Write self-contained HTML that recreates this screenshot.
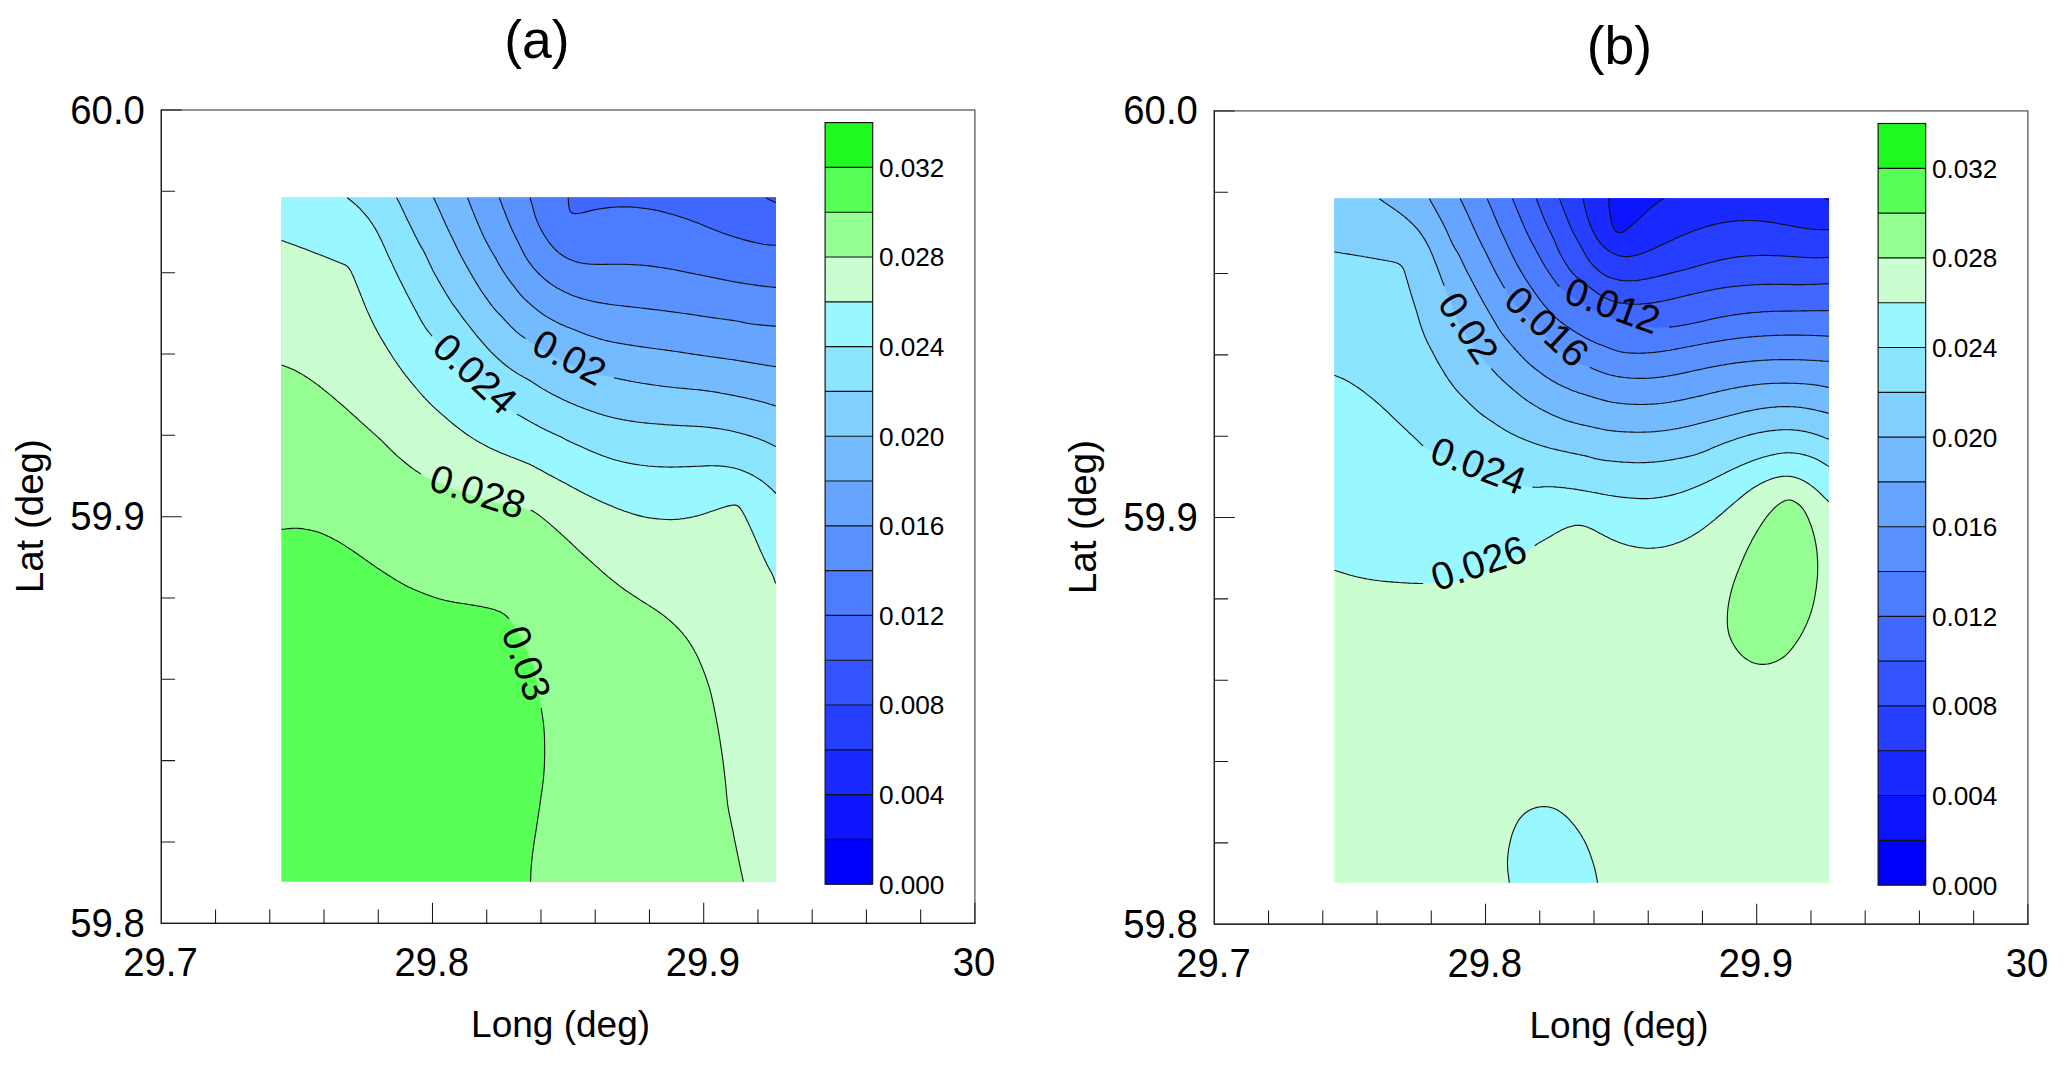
<!DOCTYPE html>
<html lang="en"><head><meta charset="utf-8"><title>Contour maps (a) and (b)</title>
<style>
html,body{margin:0;padding:0;background:#fff;}
body{width:2067px;height:1067px;overflow:hidden;}
svg{display:block;font-family:"Liberation Sans",Arial,Helvetica,sans-serif;}
</style></head><body>
<svg width="2067" height="1067" viewBox="0 0 2067 1067">
<rect width="2067" height="1067" fill="#fff"/>
<clipPath id="clip0"><rect x="281.3" y="197.5" width="494.7" height="684.3"/></clipPath>
<g clip-path="url(#clip0)">
<rect x="280.3" y="196.5" width="496.7" height="686.3" fill="#57ff57"/>
<path d="M281.3 529.4 L283.3 529.2 L285.3 529.0 L287.3 528.8 L289.3 528.6 L291.3 528.4 L293.3 528.3 L295.3 528.2 L297.3 528.3 L299.3 528.4 L301.2 528.6 L303.2 528.8 L305.2 529.2 L307.2 529.5 L309.1 529.9 L311.1 530.3 L313.0 530.7 L315.0 531.2 L316.9 531.7 L318.8 532.3 L320.7 533.0 L322.5 533.8 L324.4 534.6 L326.2 535.4 L328.0 536.2 L329.8 537.1 L331.6 538.0 L333.4 538.9 L335.1 539.9 L336.9 540.8 L338.6 541.8 L340.3 542.8 L342.1 543.9 L343.8 544.9 L345.5 546.0 L347.1 547.1 L348.8 548.2 L350.5 549.3 L352.1 550.4 L353.8 551.5 L355.4 552.7 L357.1 553.8 L358.7 555.0 L360.3 556.1 L362.0 557.3 L363.6 558.4 L365.2 559.6 L366.9 560.7 L368.5 561.9 L370.2 563.0 L371.8 564.2 L373.4 565.3 L375.1 566.4 L376.7 567.6 L378.4 568.7 L380.1 569.8 L381.7 570.9 L383.4 572.0 L385.1 573.1 L386.8 574.2 L388.4 575.3 L390.1 576.3 L391.8 577.4 L393.5 578.5 L395.2 579.5 L396.9 580.6 L398.6 581.6 L400.4 582.6 L402.1 583.6 L403.9 584.5 L405.6 585.5 L407.4 586.4 L409.2 587.3 L411.0 588.1 L412.8 589.0 L414.7 589.8 L416.5 590.6 L418.4 591.3 L420.2 592.1 L422.1 592.8 L423.9 593.5 L425.8 594.2 L427.7 594.9 L429.6 595.6 L431.4 596.3 L433.3 597.0 L435.2 597.6 L437.1 598.2 L439.0 598.8 L441.0 599.3 L442.9 599.8 L444.8 600.3 L446.8 600.7 L448.8 601.1 L450.7 601.5 L452.7 601.9 L454.6 602.3 L456.6 602.6 L458.6 602.9 L460.6 603.2 L462.5 603.5 L464.5 603.8 L466.5 604.1 L468.5 604.5 L470.5 604.8 L472.4 605.1 L474.4 605.4 L476.4 605.8 L478.3 606.1 L480.3 606.4 L482.3 606.8 L484.2 607.2 L486.2 607.6 L488.2 608.0 L490.1 608.5 L492.0 609.0 L493.9 609.6 L495.9 610.2 L497.7 610.9 L499.6 611.6 L501.3 612.5 L503.1 613.6 L504.7 614.7 L506.2 616.0 L507.6 617.4 L509.0 618.9 L510.2 620.4 L511.4 622.0 L512.6 623.6 L513.7 625.3 L514.8 627.0 L515.8 628.7 L516.8 630.4 L517.8 632.1 L518.8 633.9 L519.8 635.6 L520.8 637.4 L521.7 639.2 L522.6 640.9 L523.5 642.7 L524.3 644.6 L525.1 646.4 L525.9 648.2 L526.6 650.1 L527.4 651.9 L528.2 653.8 L528.9 655.6 L529.7 657.5 L530.4 659.4 L531.1 661.2 L531.8 663.1 L532.5 665.0 L533.1 666.9 L533.7 668.8 L534.3 670.7 L534.8 672.6 L535.3 674.6 L535.8 676.5 L536.3 678.4 L536.7 680.4 L537.2 682.4 L537.6 684.3 L538.0 686.3 L538.3 688.2 L538.7 690.2 L539.1 692.2 L539.4 694.1 L539.7 696.1 L540.0 698.1 L540.2 700.1 L540.4 702.1 L540.7 704.1 L540.9 706.1 L541.2 708.0 L541.5 710.0 L541.8 712.0 L542.1 714.0 L542.4 715.9 L542.7 717.9 L543.0 719.9 L543.3 721.9 L543.5 723.9 L543.7 725.9 L543.9 727.8 L544.0 729.8 L544.2 731.8 L544.3 733.8 L544.4 735.8 L544.5 737.8 L544.5 739.8 L544.6 741.8 L544.6 743.8 L544.7 745.8 L544.7 747.8 L544.7 749.8 L544.7 751.8 L544.7 753.8 L544.7 755.8 L544.6 757.8 L544.6 759.8 L544.5 761.8 L544.4 763.8 L544.4 765.8 L544.3 767.8 L544.1 769.8 L544.0 771.8 L543.9 773.8 L543.7 775.8 L543.5 777.8 L543.3 779.8 L543.1 781.8 L542.8 783.8 L542.6 785.7 L542.3 787.7 L542.1 789.7 L541.8 791.7 L541.5 793.7 L541.2 795.7 L540.9 797.6 L540.6 799.6 L540.3 801.6 L540.1 803.6 L539.8 805.6 L539.5 807.5 L539.2 809.5 L538.9 811.5 L538.6 813.5 L538.3 815.4 L538.0 817.4 L537.7 819.4 L537.4 821.4 L537.1 823.4 L536.8 825.3 L536.5 827.3 L536.2 829.3 L535.9 831.3 L535.6 833.2 L535.3 835.2 L534.9 837.2 L534.6 839.2 L534.3 841.1 L534.0 843.1 L533.7 845.1 L533.5 847.1 L533.2 849.1 L532.9 851.1 L532.7 853.0 L532.4 855.0 L532.2 857.0 L532.0 859.0 L531.8 861.0 L531.6 863.0 L531.4 865.0 L531.2 867.0 L531.1 869.0 L530.9 871.0 L530.8 873.0 L530.8 874.9 L530.7 876.9 L530.7 878.9 L530.6 880.9 L530.6 881.9 L530.6 887.8 L782.0 887.8 L782.0 191.5 L275.3 191.5 L275.3 529.4Z" fill="#95fe93"/>
<path d="M281.3 364.9 L283.2 365.6 L285.1 366.3 L286.9 367.0 L288.8 367.7 L290.7 368.5 L292.5 369.3 L294.3 370.1 L296.1 371.0 L297.9 372.0 L299.6 372.9 L301.4 373.9 L303.1 374.9 L304.8 376.0 L306.5 377.0 L308.2 378.1 L309.8 379.3 L311.5 380.4 L313.1 381.6 L314.7 382.7 L316.3 383.9 L317.9 385.1 L319.5 386.3 L321.1 387.6 L322.7 388.8 L324.2 390.1 L325.8 391.3 L327.4 392.6 L328.9 393.9 L330.4 395.1 L332.0 396.4 L333.5 397.7 L335.1 399.0 L336.6 400.3 L338.1 401.6 L339.6 402.9 L341.1 404.2 L342.7 405.5 L344.2 406.8 L345.7 408.2 L347.1 409.5 L348.6 410.8 L350.1 412.2 L351.6 413.5 L353.1 414.9 L354.6 416.2 L356.1 417.5 L357.5 418.9 L359.0 420.2 L360.5 421.6 L362.0 422.9 L363.5 424.2 L365.0 425.6 L366.5 426.9 L368.0 428.3 L369.5 429.6 L371.0 430.9 L372.4 432.3 L373.9 433.6 L375.4 434.9 L376.9 436.3 L378.4 437.6 L379.9 439.0 L381.3 440.4 L382.8 441.8 L384.2 443.2 L385.6 444.6 L387.0 446.0 L388.4 447.4 L389.8 448.9 L391.2 450.3 L392.7 451.7 L394.1 453.0 L395.6 454.4 L397.1 455.8 L398.6 457.1 L400.1 458.4 L401.6 459.7 L403.2 461.0 L404.7 462.2 L406.3 463.5 L407.8 464.7 L409.4 466.0 L411.0 467.2 L412.6 468.4 L414.2 469.6 L415.9 470.7 L417.5 471.8 L419.2 472.9 L420.9 474.0 L422.6 475.0 L424.4 476.0 L426.1 476.9 L427.9 477.9 L429.7 478.8 L431.5 479.6 L433.3 480.5 L435.1 481.3 L437.0 482.1 L438.8 482.9 L440.7 483.6 L442.5 484.4 L444.4 485.2 L446.2 485.9 L448.1 486.7 L449.9 487.4 L451.8 488.2 L453.7 488.9 L455.5 489.6 L457.4 490.3 L459.3 491.0 L461.2 491.7 L463.1 492.3 L465.0 493.0 L466.8 493.6 L468.7 494.3 L470.6 494.9 L472.6 495.5 L474.5 496.1 L476.4 496.7 L478.3 497.3 L480.2 497.9 L482.1 498.5 L484.0 499.1 L486.0 499.6 L487.9 500.2 L489.8 500.7 L491.7 501.2 L493.7 501.7 L495.6 502.3 L497.6 502.8 L499.5 503.3 L501.4 503.8 L503.4 504.2 L505.3 504.7 L507.3 505.2 L509.2 505.6 L511.2 506.0 L513.1 506.4 L515.1 506.7 L517.1 507.1 L519.1 507.4 L521.0 507.8 L523.0 508.2 L525.0 508.6 L526.9 509.1 L528.8 509.7 L530.7 510.3 L532.5 511.1 L534.3 512.0 L536.0 513.1 L537.6 514.2 L539.3 515.4 L540.8 516.6 L542.4 517.9 L544.0 519.1 L545.5 520.4 L547.1 521.6 L548.6 522.9 L550.1 524.2 L551.6 525.6 L553.1 526.9 L554.6 528.2 L556.1 529.5 L557.6 530.9 L559.1 532.2 L560.6 533.5 L562.1 534.9 L563.6 536.2 L565.1 537.6 L566.5 538.9 L568.0 540.3 L569.5 541.6 L570.9 543.0 L572.4 544.4 L573.8 545.8 L575.3 547.2 L576.7 548.6 L578.2 549.9 L579.6 551.3 L581.1 552.7 L582.6 554.0 L584.1 555.4 L585.5 556.7 L587.0 558.0 L588.5 559.4 L590.0 560.7 L591.5 562.0 L593.0 563.4 L594.5 564.7 L596.0 566.1 L597.5 567.4 L599.0 568.7 L600.4 570.1 L601.9 571.4 L603.4 572.7 L605.0 574.0 L606.5 575.3 L608.0 576.6 L609.6 577.9 L611.1 579.2 L612.7 580.4 L614.2 581.7 L615.8 582.9 L617.4 584.2 L618.9 585.4 L620.5 586.6 L622.1 587.8 L623.8 589.0 L625.4 590.2 L627.0 591.3 L628.7 592.4 L630.4 593.5 L632.0 594.6 L633.7 595.7 L635.4 596.8 L637.1 597.9 L638.7 599.0 L640.4 600.1 L642.1 601.2 L643.8 602.3 L645.5 603.3 L647.2 604.4 L648.9 605.4 L650.6 606.5 L652.3 607.6 L654.0 608.7 L655.6 609.8 L657.3 610.9 L658.9 612.0 L660.6 613.2 L662.2 614.4 L663.8 615.6 L665.3 616.8 L666.9 618.1 L668.5 619.4 L670.0 620.7 L671.5 622.0 L673.0 623.3 L674.4 624.7 L675.9 626.1 L677.3 627.5 L678.7 628.9 L680.0 630.4 L681.4 631.9 L682.7 633.4 L683.9 635.0 L685.2 636.5 L686.4 638.1 L687.6 639.8 L688.7 641.4 L689.8 643.0 L690.9 644.7 L692.0 646.4 L693.0 648.2 L694.0 649.9 L694.9 651.7 L695.9 653.4 L696.8 655.2 L697.7 657.0 L698.5 658.8 L699.3 660.6 L700.1 662.5 L700.9 664.3 L701.7 666.2 L702.4 668.0 L703.2 669.9 L703.9 671.8 L704.6 673.6 L705.3 675.5 L706.0 677.4 L706.6 679.3 L707.3 681.2 L707.9 683.1 L708.5 685.0 L709.1 686.9 L709.7 688.8 L710.2 690.8 L710.7 692.7 L711.2 694.6 L711.7 696.6 L712.1 698.5 L712.5 700.5 L713.0 702.4 L713.4 704.4 L713.8 706.4 L714.2 708.3 L714.6 710.3 L715.0 712.3 L715.4 714.2 L715.7 716.2 L716.1 718.2 L716.5 720.1 L716.8 722.1 L717.2 724.1 L717.6 726.0 L717.9 728.0 L718.3 730.0 L718.6 731.9 L718.9 733.9 L719.3 735.9 L719.6 737.9 L719.9 739.9 L720.2 741.8 L720.5 743.8 L720.8 745.8 L721.1 747.8 L721.4 749.7 L721.7 751.7 L722.0 753.7 L722.3 755.7 L722.5 757.7 L722.8 759.7 L723.1 761.7 L723.3 763.6 L723.6 765.6 L723.8 767.6 L724.0 769.6 L724.3 771.6 L724.5 773.6 L724.7 775.6 L725.0 777.6 L725.2 779.5 L725.4 781.5 L725.6 783.5 L725.8 785.5 L726.0 787.5 L726.2 789.5 L726.3 791.5 L726.5 793.5 L726.7 795.5 L726.9 797.5 L727.1 799.5 L727.3 801.5 L727.5 803.5 L727.8 805.4 L728.1 807.4 L728.4 809.4 L728.8 811.4 L729.2 813.3 L729.6 815.3 L730.0 817.3 L730.4 819.2 L730.8 821.2 L731.2 823.1 L731.6 825.1 L732.0 827.1 L732.5 829.0 L732.9 831.0 L733.3 832.9 L733.6 834.9 L734.0 836.9 L734.4 838.8 L734.8 840.8 L735.2 842.8 L735.6 844.7 L736.0 846.7 L736.4 848.7 L736.8 850.6 L737.2 852.6 L737.6 854.5 L738.0 856.5 L738.4 858.5 L738.8 860.4 L739.2 862.4 L739.6 864.3 L740.1 866.3 L740.5 868.3 L740.9 870.2 L741.3 872.2 L741.8 874.1 L742.2 876.1 L742.6 878.0 L743.0 880.0 L743.5 881.9 L743.5 887.8 L782.0 887.8 L782.0 191.5 L275.3 191.5 L275.3 364.9Z" fill="#cafdd0"/>
<path d="M281.3 240.3 L283.2 241.0 L285.1 241.7 L287.0 242.4 L288.9 243.0 L290.7 243.7 L292.6 244.4 L294.5 245.1 L296.4 245.8 L298.2 246.5 L300.1 247.2 L302.0 247.9 L303.9 248.6 L305.7 249.3 L307.6 250.0 L309.5 250.8 L311.3 251.5 L313.2 252.2 L315.1 252.9 L316.9 253.6 L318.8 254.4 L320.7 255.1 L322.5 255.8 L324.4 256.6 L326.3 257.3 L328.1 258.0 L330.0 258.8 L331.8 259.5 L333.7 260.3 L335.6 261.0 L337.4 261.7 L339.3 262.5 L341.1 263.2 L343.0 263.9 L344.9 264.7 L346.5 265.7 L348.0 267.1 L349.2 268.6 L350.3 270.3 L351.3 272.1 L352.1 273.9 L353.0 275.7 L353.8 277.5 L354.5 279.4 L355.3 281.2 L356.0 283.1 L356.8 284.9 L357.5 286.8 L358.3 288.6 L359.0 290.5 L359.8 292.4 L360.5 294.2 L361.2 296.1 L362.0 297.9 L362.7 299.8 L363.4 301.7 L364.2 303.5 L364.9 305.4 L365.7 307.2 L366.5 309.1 L367.3 310.9 L368.1 312.7 L368.9 314.6 L369.8 316.4 L370.6 318.2 L371.4 320.0 L372.3 321.8 L373.2 323.6 L374.1 325.4 L375.0 327.2 L376.0 328.9 L376.9 330.7 L377.9 332.5 L378.8 334.2 L379.8 336.0 L380.8 337.7 L381.8 339.4 L382.9 341.1 L383.9 342.9 L384.9 344.6 L386.0 346.3 L387.0 348.0 L388.1 349.7 L389.1 351.4 L390.2 353.1 L391.3 354.8 L392.3 356.5 L393.4 358.2 L394.5 359.8 L395.6 361.5 L396.8 363.1 L397.9 364.8 L399.1 366.4 L400.2 368.0 L401.4 369.7 L402.6 371.3 L403.8 372.9 L405.0 374.5 L406.2 376.1 L407.5 377.6 L408.7 379.2 L410.0 380.8 L411.2 382.3 L412.5 383.9 L413.8 385.4 L415.1 386.9 L416.4 388.5 L417.7 390.0 L419.0 391.5 L420.3 393.0 L421.6 394.5 L422.9 396.0 L424.3 397.5 L425.6 399.0 L427.0 400.4 L428.4 401.9 L429.8 403.3 L431.2 404.7 L432.7 406.1 L434.1 407.4 L435.6 408.8 L437.1 410.1 L438.6 411.5 L440.1 412.8 L441.6 414.1 L443.1 415.4 L444.6 416.7 L446.1 418.0 L447.6 419.3 L449.2 420.7 L450.7 421.9 L452.2 423.2 L453.8 424.5 L455.3 425.8 L456.9 427.0 L458.5 428.2 L460.1 429.4 L461.7 430.6 L463.3 431.8 L464.9 433.0 L466.6 434.2 L468.2 435.3 L469.9 436.4 L471.5 437.5 L473.2 438.6 L474.9 439.6 L476.6 440.7 L478.4 441.7 L480.1 442.7 L481.9 443.6 L483.6 444.6 L485.4 445.5 L487.2 446.5 L488.9 447.4 L490.7 448.3 L492.5 449.1 L494.3 450.0 L496.2 450.8 L498.0 451.6 L499.8 452.4 L501.7 453.2 L503.6 453.9 L505.4 454.6 L507.3 455.4 L509.1 456.1 L511.0 456.9 L512.9 457.6 L514.7 458.3 L516.6 459.0 L518.5 459.8 L520.3 460.5 L522.2 461.2 L524.0 462.0 L525.9 462.7 L527.7 463.5 L529.6 464.3 L531.4 465.2 L533.2 466.1 L534.9 467.0 L536.7 467.9 L538.5 468.9 L540.2 469.8 L542.0 470.8 L543.7 471.8 L545.5 472.7 L547.2 473.7 L549.0 474.7 L550.8 475.6 L552.5 476.5 L554.3 477.5 L556.1 478.4 L557.8 479.4 L559.6 480.3 L561.4 481.3 L563.1 482.2 L564.9 483.1 L566.7 484.1 L568.4 485.0 L570.2 486.0 L572.0 486.9 L573.7 487.9 L575.5 488.8 L577.2 489.8 L579.0 490.7 L580.8 491.7 L582.5 492.6 L584.3 493.5 L586.1 494.5 L587.9 495.3 L589.7 496.2 L591.5 497.1 L593.3 498.0 L595.1 498.8 L596.9 499.7 L598.7 500.5 L600.5 501.3 L602.4 502.2 L604.2 503.0 L606.0 503.8 L607.9 504.6 L609.7 505.3 L611.6 506.1 L613.4 506.9 L615.3 507.6 L617.1 508.4 L619.0 509.1 L620.9 509.8 L622.7 510.5 L624.6 511.2 L626.5 511.8 L628.4 512.5 L630.3 513.1 L632.2 513.7 L634.1 514.3 L636.1 514.9 L638.0 515.4 L639.9 515.9 L641.9 516.4 L643.8 516.8 L645.8 517.2 L647.8 517.6 L649.7 517.9 L651.7 518.2 L653.7 518.4 L655.7 518.6 L657.7 518.9 L659.7 519.0 L661.7 519.2 L663.7 519.3 L665.7 519.5 L667.7 519.5 L669.7 519.6 L671.7 519.6 L673.7 519.5 L675.7 519.4 L677.7 519.3 L679.6 519.1 L681.6 518.8 L683.6 518.6 L685.6 518.2 L687.6 517.9 L689.5 517.6 L691.5 517.2 L693.5 516.8 L695.4 516.3 L697.4 515.9 L699.3 515.3 L701.2 514.8 L703.1 514.2 L705.0 513.6 L706.9 512.9 L708.8 512.3 L710.7 511.6 L712.6 511.0 L714.5 510.4 L716.4 509.7 L718.3 509.1 L720.2 508.4 L722.1 507.8 L724.0 507.2 L725.9 506.6 L727.9 506.1 L729.8 505.6 L731.8 505.2 L733.7 505.0 L735.7 505.1 L737.5 505.8 L739.0 507.0 L740.4 508.5 L741.5 510.1 L742.5 511.8 L743.5 513.6 L744.4 515.3 L745.4 517.1 L746.3 518.9 L747.1 520.7 L748.0 522.5 L748.9 524.3 L749.7 526.1 L750.5 527.9 L751.3 529.8 L752.2 531.6 L753.0 533.4 L753.8 535.3 L754.6 537.1 L755.4 538.9 L756.2 540.8 L757.0 542.6 L757.8 544.4 L758.6 546.3 L759.4 548.1 L760.2 549.9 L761.0 551.8 L761.9 553.6 L762.7 555.4 L763.5 557.2 L764.4 559.0 L765.2 560.8 L766.1 562.6 L767.0 564.4 L767.9 566.2 L768.8 568.0 L769.8 569.7 L770.8 571.5 L771.7 573.2 L772.6 575.1 L773.3 576.9 L774.0 578.8 L774.7 580.7 L775.3 582.6 L775.7 583.5 L782.0 583.5 L782.0 191.5 L275.3 191.5 L275.3 240.3Z" fill="#99f8ff"/>
<path d="M347.0 197.5 L348.6 198.8 L350.1 200.0 L351.7 201.3 L353.2 202.5 L354.8 203.8 L356.3 205.2 L357.7 206.5 L359.2 207.9 L360.6 209.3 L361.9 210.8 L363.3 212.3 L364.6 213.8 L365.9 215.3 L367.1 216.9 L368.4 218.4 L369.6 220.0 L370.7 221.7 L371.9 223.3 L373.0 225.0 L374.0 226.7 L375.1 228.4 L376.1 230.1 L377.1 231.9 L378.0 233.6 L378.9 235.4 L379.8 237.2 L380.7 239.0 L381.6 240.8 L382.4 242.6 L383.2 244.4 L384.1 246.3 L384.9 248.1 L385.7 249.9 L386.5 251.8 L387.3 253.6 L388.1 255.4 L389.0 257.2 L389.8 259.0 L390.7 260.8 L391.6 262.6 L392.4 264.4 L393.3 266.3 L394.1 268.1 L394.9 269.9 L395.8 271.7 L396.7 273.5 L397.5 275.3 L398.4 277.1 L399.3 278.9 L400.2 280.7 L401.2 282.4 L402.1 284.2 L402.9 286.0 L403.8 287.8 L404.7 289.6 L405.6 291.4 L406.5 293.2 L407.4 295.0 L408.3 296.7 L409.3 298.5 L410.2 300.3 L411.2 302.0 L412.1 303.8 L413.0 305.6 L414.0 307.3 L414.9 309.1 L415.9 310.9 L416.8 312.6 L417.7 314.4 L418.7 316.2 L419.7 317.9 L420.6 319.7 L421.6 321.4 L422.6 323.1 L423.7 324.8 L424.7 326.5 L425.8 328.2 L427.0 329.8 L428.2 331.4 L429.5 333.0 L430.7 334.5 L432.0 336.1 L433.2 337.6 L434.5 339.2 L435.7 340.8 L436.9 342.4 L438.1 344.0 L439.3 345.6 L440.5 347.2 L441.7 348.8 L443.0 350.4 L444.2 351.9 L445.5 353.4 L446.8 355.0 L448.1 356.5 L449.4 358.0 L450.8 359.5 L452.1 361.0 L453.4 362.5 L454.8 363.9 L456.2 365.4 L457.5 366.8 L458.9 368.3 L460.3 369.7 L461.7 371.1 L463.2 372.5 L464.6 373.9 L466.0 375.3 L467.5 376.7 L469.0 378.0 L470.5 379.4 L472.0 380.7 L473.5 382.0 L475.0 383.3 L476.5 384.6 L478.1 385.9 L479.6 387.2 L481.2 388.4 L482.7 389.7 L484.2 391.0 L485.8 392.3 L487.3 393.6 L488.8 394.8 L490.4 396.1 L491.9 397.4 L493.5 398.7 L495.0 399.9 L496.6 401.2 L498.2 402.4 L499.8 403.6 L501.4 404.8 L503.0 405.9 L504.7 407.0 L506.4 408.1 L508.1 409.1 L509.8 410.1 L511.6 411.1 L513.3 412.1 L515.0 413.1 L516.8 414.1 L518.5 415.1 L520.3 416.1 L522.0 417.0 L523.8 418.0 L525.5 419.0 L527.3 420.0 L529.0 420.9 L530.7 421.9 L532.5 422.9 L534.2 423.9 L536.0 424.8 L537.7 425.8 L539.5 426.8 L541.3 427.7 L543.0 428.6 L544.8 429.5 L546.6 430.4 L548.5 431.2 L550.3 432.0 L552.1 432.9 L553.9 433.7 L555.7 434.5 L557.6 435.4 L559.4 436.2 L561.2 437.1 L562.9 438.0 L564.7 439.0 L566.5 439.9 L568.2 440.8 L570.0 441.7 L571.9 442.5 L573.7 443.3 L575.5 444.2 L577.3 445.0 L579.2 445.8 L581.0 446.6 L582.8 447.4 L584.7 448.2 L586.5 449.1 L588.3 449.9 L590.1 450.7 L592.0 451.5 L593.8 452.3 L595.7 453.0 L597.5 453.8 L599.4 454.5 L601.2 455.2 L603.1 455.9 L605.0 456.6 L606.9 457.3 L608.8 457.9 L610.7 458.5 L612.6 459.2 L614.5 459.7 L616.4 460.3 L618.4 460.8 L620.3 461.3 L622.2 461.8 L624.2 462.2 L626.2 462.6 L628.1 463.0 L630.1 463.4 L632.1 463.7 L634.0 464.1 L636.0 464.4 L638.0 464.7 L640.0 465.0 L641.9 465.2 L643.9 465.5 L645.9 465.7 L647.9 466.0 L649.9 466.2 L651.9 466.3 L653.9 466.5 L655.9 466.7 L657.9 466.8 L659.9 466.9 L661.9 466.9 L663.9 467.0 L665.9 467.0 L667.9 467.0 L669.9 467.1 L671.9 467.1 L673.9 467.0 L675.9 467.0 L677.9 467.0 L679.9 466.9 L681.9 466.9 L683.9 466.8 L685.9 466.7 L687.9 466.6 L689.9 466.6 L691.9 466.5 L693.9 466.4 L695.9 466.3 L697.9 466.2 L699.9 466.2 L701.9 466.1 L703.9 466.0 L705.9 465.9 L707.9 465.9 L709.9 465.8 L711.9 465.8 L713.9 465.8 L715.9 465.9 L717.9 465.9 L719.9 466.0 L721.9 466.1 L723.9 466.3 L725.8 466.6 L727.8 466.8 L729.8 467.2 L731.8 467.5 L733.7 468.0 L735.7 468.5 L737.6 469.0 L739.5 469.6 L741.4 470.2 L743.3 470.9 L745.1 471.7 L746.9 472.5 L748.8 473.3 L750.6 474.2 L752.3 475.1 L754.1 476.1 L755.8 477.1 L757.5 478.1 L759.2 479.2 L760.9 480.3 L762.5 481.4 L764.1 482.6 L765.7 483.9 L767.2 485.2 L768.7 486.5 L770.2 487.9 L771.7 489.2 L773.1 490.6 L774.5 492.0 L775.9 493.5 L782.0 493.5 L782.0 191.5 L347.0 191.5Z" fill="#8be5ff"/>
<path d="M396.4 197.5 L397.4 199.3 L398.3 201.0 L399.3 202.8 L400.2 204.6 L401.1 206.4 L401.9 208.2 L402.8 210.0 L403.6 211.8 L404.5 213.6 L405.3 215.4 L406.2 217.2 L407.0 219.0 L407.9 220.8 L408.8 222.6 L409.7 224.4 L410.6 226.2 L411.5 228.0 L412.4 229.8 L413.2 231.6 L414.1 233.4 L415.0 235.2 L415.9 237.0 L416.8 238.8 L417.7 240.6 L418.6 242.4 L419.6 244.1 L420.5 245.9 L421.6 247.6 L422.6 249.3 L423.6 251.0 L424.5 252.8 L425.4 254.6 L426.3 256.4 L427.1 258.2 L428.0 260.0 L428.8 261.9 L429.7 263.7 L430.5 265.5 L431.4 267.3 L432.2 269.1 L433.1 270.9 L434.1 272.7 L435.0 274.4 L436.0 276.2 L437.0 277.9 L438.0 279.7 L438.9 281.4 L439.9 283.1 L440.9 284.9 L441.9 286.6 L443.0 288.3 L444.0 290.1 L445.0 291.8 L446.0 293.5 L447.1 295.2 L448.1 296.9 L449.2 298.6 L450.2 300.3 L451.3 302.0 L452.4 303.7 L453.6 305.3 L454.8 306.9 L456.0 308.5 L457.2 310.1 L458.4 311.7 L459.6 313.3 L460.7 315.0 L461.9 316.6 L463.0 318.2 L464.3 319.8 L465.5 321.4 L466.7 323.0 L468.0 324.5 L469.2 326.1 L470.5 327.7 L471.7 329.3 L472.9 330.8 L474.2 332.4 L475.4 334.0 L476.6 335.6 L477.9 337.1 L479.2 338.7 L480.5 340.2 L481.8 341.7 L483.1 343.2 L484.4 344.7 L485.7 346.2 L487.1 347.7 L488.4 349.2 L489.8 350.6 L491.2 352.1 L492.6 353.5 L494.1 354.9 L495.5 356.3 L496.9 357.7 L498.4 359.0 L499.9 360.4 L501.4 361.7 L502.9 363.0 L504.5 364.3 L506.0 365.5 L507.6 366.7 L509.2 367.9 L510.9 369.1 L512.5 370.3 L514.2 371.4 L515.8 372.5 L517.5 373.6 L519.2 374.6 L520.9 375.6 L522.7 376.6 L524.4 377.6 L526.2 378.5 L528.0 379.5 L529.7 380.5 L531.4 381.5 L533.1 382.6 L534.8 383.7 L536.4 384.8 L538.1 385.9 L539.8 387.0 L541.5 388.1 L543.2 389.1 L544.9 390.1 L546.7 391.1 L548.4 392.1 L550.2 393.0 L551.9 394.0 L553.7 394.9 L555.5 395.8 L557.3 396.7 L559.1 397.6 L560.9 398.5 L562.7 399.4 L564.5 400.2 L566.3 401.1 L568.1 401.9 L569.9 402.7 L571.8 403.5 L573.6 404.3 L575.5 405.1 L577.3 405.9 L579.2 406.6 L581.0 407.3 L582.9 408.0 L584.8 408.8 L586.7 409.4 L588.5 410.1 L590.4 410.8 L592.3 411.5 L594.2 412.1 L596.1 412.8 L598.0 413.4 L599.9 414.0 L601.8 414.6 L603.7 415.2 L605.7 415.8 L607.6 416.3 L609.5 416.8 L611.5 417.3 L613.4 417.8 L615.4 418.2 L617.3 418.6 L619.3 419.0 L621.3 419.4 L623.2 419.8 L625.2 420.1 L627.2 420.5 L629.1 420.8 L631.1 421.1 L633.1 421.4 L635.1 421.7 L637.1 422.0 L639.1 422.2 L641.0 422.5 L643.0 422.7 L645.0 422.9 L647.0 423.1 L649.0 423.3 L651.0 423.5 L653.0 423.7 L655.0 423.8 L657.0 424.0 L659.0 424.1 L661.0 424.3 L663.0 424.4 L665.0 424.6 L667.0 424.7 L669.0 424.9 L671.0 425.0 L673.0 425.1 L675.0 425.3 L677.0 425.4 L679.0 425.5 L681.0 425.6 L683.0 425.7 L685.0 425.8 L687.0 425.9 L689.0 426.0 L691.0 426.1 L693.0 426.2 L695.0 426.2 L697.0 426.4 L699.0 426.5 L701.0 426.6 L703.0 426.8 L705.0 427.0 L707.0 427.2 L708.9 427.4 L710.9 427.6 L712.9 427.9 L714.9 428.1 L716.9 428.4 L718.9 428.7 L720.9 429.0 L722.8 429.3 L724.8 429.7 L726.8 430.0 L728.7 430.4 L730.7 430.8 L732.6 431.3 L734.6 431.7 L736.5 432.2 L738.5 432.7 L740.4 433.2 L742.4 433.7 L744.3 434.2 L746.2 434.8 L748.1 435.4 L750.0 435.9 L752.0 436.5 L753.9 437.2 L755.8 437.8 L757.7 438.5 L759.5 439.1 L761.4 439.9 L763.3 440.6 L765.1 441.4 L766.9 442.3 L768.7 443.1 L770.5 444.0 L772.3 444.9 L774.1 445.8 L775.9 446.6 L782.0 446.6 L782.0 191.5 L396.4 191.5Z" fill="#80cfff"/>
<path d="M433.5 197.5 L434.3 199.3 L435.2 201.1 L436.0 203.0 L436.9 204.8 L437.7 206.6 L438.5 208.4 L439.4 210.2 L440.2 212.1 L441.0 213.9 L441.8 215.7 L442.6 217.6 L443.5 219.4 L444.3 221.2 L445.1 223.0 L445.9 224.9 L446.8 226.7 L447.6 228.5 L448.5 230.3 L449.4 232.1 L450.2 233.9 L451.1 235.7 L452.0 237.5 L452.9 239.3 L453.7 241.1 L454.6 242.9 L455.5 244.8 L456.3 246.6 L457.2 248.4 L458.1 250.2 L459.0 251.9 L459.9 253.7 L460.8 255.5 L461.7 257.3 L462.7 259.1 L463.6 260.8 L464.6 262.6 L465.6 264.3 L466.5 266.1 L467.5 267.8 L468.5 269.6 L469.5 271.3 L470.5 273.1 L471.5 274.8 L472.5 276.5 L473.5 278.2 L474.6 280.0 L475.6 281.7 L476.6 283.4 L477.7 285.1 L478.7 286.8 L479.8 288.5 L480.9 290.2 L482.0 291.9 L483.1 293.5 L484.2 295.2 L485.4 296.8 L486.6 298.4 L487.8 300.1 L488.9 301.7 L490.1 303.3 L491.3 304.9 L492.5 306.5 L493.8 308.1 L495.1 309.6 L496.4 311.1 L497.8 312.6 L499.2 314.0 L500.6 315.4 L502.0 316.9 L503.3 318.3 L504.7 319.8 L506.0 321.3 L507.4 322.8 L508.8 324.2 L510.1 325.7 L511.5 327.1 L513.0 328.5 L514.4 329.9 L515.9 331.3 L517.4 332.6 L519.0 333.8 L520.5 335.1 L522.2 336.2 L523.8 337.4 L525.4 338.6 L527.0 339.8 L528.5 341.1 L530.1 342.3 L531.8 343.4 L533.4 344.6 L535.1 345.6 L536.8 346.7 L538.5 347.7 L540.2 348.8 L542.0 349.8 L543.7 350.8 L545.4 351.9 L547.1 352.9 L548.8 353.9 L550.6 354.9 L552.3 355.9 L554.1 356.8 L555.9 357.8 L557.6 358.7 L559.4 359.6 L561.2 360.6 L563.0 361.5 L564.8 362.4 L566.6 363.2 L568.4 364.1 L570.2 365.0 L572.0 365.8 L573.8 366.6 L575.7 367.4 L577.5 368.2 L579.4 368.9 L581.3 369.6 L583.2 370.3 L585.1 370.9 L587.0 371.5 L588.9 372.1 L590.8 372.7 L592.7 373.2 L594.7 373.7 L596.6 374.2 L598.6 374.7 L600.5 375.1 L602.5 375.6 L604.4 376.0 L606.4 376.4 L608.4 376.7 L610.3 377.1 L612.3 377.5 L614.3 377.9 L616.2 378.3 L618.2 378.7 L620.2 379.1 L622.1 379.5 L624.1 379.9 L626.0 380.3 L628.0 380.7 L630.0 381.1 L632.0 381.5 L633.9 381.8 L635.9 382.2 L637.9 382.5 L639.9 382.8 L641.8 383.2 L643.8 383.5 L645.8 383.8 L647.8 384.1 L649.7 384.4 L651.7 384.7 L653.7 385.0 L655.7 385.3 L657.7 385.5 L659.7 385.8 L661.7 386.1 L663.6 386.3 L665.6 386.6 L667.6 386.8 L669.6 387.0 L671.6 387.2 L673.6 387.5 L675.6 387.7 L677.6 387.9 L679.6 388.0 L681.6 388.2 L683.6 388.4 L685.6 388.6 L687.6 388.8 L689.6 389.0 L691.6 389.2 L693.6 389.4 L695.5 389.5 L697.5 389.7 L699.5 389.9 L701.5 390.1 L703.5 390.4 L705.5 390.6 L707.5 390.9 L709.5 391.2 L711.5 391.5 L713.4 391.8 L715.4 392.1 L717.4 392.4 L719.4 392.8 L721.3 393.2 L723.3 393.5 L725.3 393.9 L727.3 394.2 L729.2 394.6 L731.2 395.0 L733.2 395.4 L735.1 395.8 L737.1 396.2 L739.0 396.6 L741.0 397.0 L743.0 397.4 L744.9 397.8 L746.9 398.2 L748.8 398.7 L750.8 399.1 L752.8 399.6 L754.7 400.0 L756.7 400.5 L758.6 401.0 L760.5 401.5 L762.5 402.0 L764.4 402.5 L766.3 403.1 L768.2 403.7 L770.2 404.3 L772.1 404.9 L774.0 405.4 L775.9 406.0 L782.0 406.0 L782.0 191.5 L433.5 191.5Z" fill="#73baff"/>
<path d="M467.5 197.5 L468.2 199.4 L468.9 201.2 L469.6 203.1 L470.4 205.0 L471.1 206.9 L471.8 208.7 L472.6 210.6 L473.3 212.4 L474.1 214.3 L474.8 216.2 L475.6 218.0 L476.3 219.9 L477.1 221.7 L477.9 223.5 L478.7 225.4 L479.5 227.2 L480.3 229.1 L481.1 230.9 L481.9 232.7 L482.8 234.5 L483.6 236.4 L484.5 238.2 L485.4 240.0 L486.3 241.7 L487.2 243.5 L488.2 245.3 L489.1 247.0 L490.1 248.8 L491.1 250.5 L492.1 252.2 L493.2 254.0 L494.2 255.7 L495.2 257.4 L496.2 259.1 L497.1 260.9 L498.1 262.7 L499.1 264.4 L500.1 266.2 L501.1 267.9 L502.1 269.6 L503.2 271.3 L504.3 273.0 L505.4 274.7 L506.5 276.3 L507.6 277.9 L508.8 279.6 L510.0 281.2 L511.2 282.8 L512.4 284.4 L513.7 285.9 L514.9 287.5 L516.1 289.1 L517.3 290.7 L518.6 292.3 L519.8 293.8 L521.1 295.4 L522.5 296.8 L523.9 298.3 L525.3 299.7 L526.8 301.0 L528.3 302.4 L529.8 303.7 L531.3 305.0 L532.8 306.4 L534.3 307.6 L535.9 308.9 L537.4 310.2 L539.0 311.4 L540.6 312.6 L542.2 313.8 L543.9 314.9 L545.5 316.0 L547.3 317.1 L549.0 318.1 L550.7 319.0 L552.5 320.0 L554.3 320.9 L556.0 321.9 L557.8 322.8 L559.6 323.7 L561.4 324.5 L563.3 325.3 L565.1 326.1 L567.0 326.9 L568.8 327.6 L570.7 328.3 L572.5 329.1 L574.4 329.8 L576.3 330.6 L578.1 331.3 L580.0 332.0 L581.9 332.8 L583.7 333.5 L585.6 334.2 L587.5 334.9 L589.4 335.6 L591.3 336.2 L593.2 336.8 L595.1 337.4 L597.0 338.0 L598.9 338.6 L600.8 339.1 L602.8 339.7 L604.7 340.2 L606.7 340.6 L608.6 341.1 L610.6 341.5 L612.5 342.0 L614.5 342.4 L616.5 342.7 L618.4 343.1 L620.4 343.4 L622.4 343.8 L624.3 344.1 L626.3 344.5 L628.3 344.8 L630.3 345.1 L632.3 345.4 L634.2 345.7 L636.2 346.0 L638.2 346.3 L640.2 346.6 L642.2 346.9 L644.1 347.2 L646.1 347.4 L648.1 347.7 L650.1 348.0 L652.1 348.3 L654.1 348.5 L656.1 348.8 L658.0 349.0 L660.0 349.3 L662.0 349.6 L664.0 349.8 L666.0 350.1 L668.0 350.4 L670.0 350.6 L671.9 350.9 L673.9 351.2 L675.9 351.5 L677.9 351.8 L679.9 352.1 L681.9 352.4 L683.8 352.7 L685.8 353.0 L687.8 353.3 L689.8 353.6 L691.8 353.9 L693.7 354.2 L695.7 354.5 L697.7 354.8 L699.7 355.1 L701.7 355.4 L703.6 355.7 L705.6 356.0 L707.6 356.3 L709.6 356.6 L711.6 356.8 L713.6 357.1 L715.5 357.3 L717.5 357.6 L719.5 357.9 L721.5 358.1 L723.5 358.4 L725.5 358.7 L727.5 359.0 L729.4 359.2 L731.4 359.5 L733.4 359.8 L735.4 360.1 L737.4 360.5 L739.3 360.8 L741.3 361.1 L743.3 361.4 L745.3 361.7 L747.2 362.1 L749.2 362.4 L751.2 362.7 L753.2 363.1 L755.1 363.4 L757.1 363.7 L759.1 364.1 L761.1 364.4 L763.1 364.7 L765.0 365.0 L767.0 365.4 L769.0 365.7 L771.0 366.0 L772.9 366.3 L774.9 366.6 L775.9 366.8 L782.0 366.8 L782.0 191.5 L467.5 191.5Z" fill="#66a5ff"/>
<path d="M499.2 197.5 L499.9 199.4 L500.6 201.3 L501.3 203.1 L502.0 205.0 L502.7 206.9 L503.4 208.8 L504.2 210.6 L504.9 212.5 L505.6 214.4 L506.3 216.2 L507.1 218.1 L507.8 220.0 L508.6 221.8 L509.4 223.7 L510.2 225.5 L511.0 227.3 L511.8 229.2 L512.6 231.0 L513.5 232.8 L514.4 234.6 L515.3 236.4 L516.2 238.2 L517.1 240.0 L518.0 241.8 L518.9 243.6 L519.8 245.4 L520.6 247.2 L521.5 249.0 L522.4 250.8 L523.3 252.6 L524.2 254.3 L525.2 256.1 L526.2 257.8 L527.3 259.5 L528.4 261.2 L529.6 262.8 L530.8 264.4 L532.0 266.0 L533.2 267.6 L534.5 269.1 L535.9 270.6 L537.2 272.1 L538.6 273.5 L540.1 274.9 L541.5 276.3 L543.0 277.7 L544.5 279.0 L546.0 280.3 L547.6 281.5 L549.2 282.7 L550.8 283.9 L552.5 285.0 L554.2 286.1 L555.9 287.2 L557.6 288.2 L559.4 289.1 L561.1 290.1 L562.9 291.0 L564.7 291.9 L566.5 292.7 L568.4 293.6 L570.2 294.4 L572.0 295.2 L573.9 295.9 L575.8 296.6 L577.7 297.2 L579.6 297.9 L581.5 298.4 L583.4 299.0 L585.4 299.5 L587.3 300.0 L589.3 300.5 L591.2 301.0 L593.2 301.5 L595.1 301.9 L597.1 302.2 L599.1 302.6 L601.0 302.9 L603.0 303.3 L605.0 303.6 L607.0 303.9 L609.0 304.2 L610.9 304.5 L612.9 304.7 L614.9 305.0 L616.9 305.2 L618.9 305.5 L620.9 305.7 L622.9 305.9 L624.9 306.2 L626.9 306.4 L628.9 306.6 L630.9 306.8 L632.9 307.1 L634.8 307.3 L636.8 307.5 L638.8 307.7 L640.8 308.0 L642.8 308.2 L644.8 308.4 L646.8 308.7 L648.8 308.9 L650.8 309.1 L652.8 309.4 L654.8 309.6 L656.8 309.8 L658.8 310.1 L660.7 310.3 L662.7 310.6 L664.7 310.8 L666.7 311.1 L668.7 311.4 L670.7 311.6 L672.7 311.9 L674.7 312.2 L676.7 312.4 L678.6 312.7 L680.6 313.0 L682.6 313.3 L684.6 313.5 L686.6 313.8 L688.6 314.1 L690.5 314.4 L692.5 314.7 L694.5 315.0 L696.5 315.3 L698.5 315.6 L700.5 315.9 L702.5 316.2 L704.4 316.5 L706.4 316.8 L708.4 317.1 L710.4 317.3 L712.4 317.6 L714.4 317.9 L716.3 318.2 L718.3 318.5 L720.3 318.8 L722.3 319.0 L724.3 319.3 L726.3 319.6 L728.3 319.8 L730.3 320.1 L732.2 320.4 L734.2 320.7 L736.2 321.0 L738.2 321.3 L740.1 321.7 L742.1 322.1 L744.1 322.6 L746.0 323.0 L748.0 323.4 L750.0 323.7 L752.0 324.0 L753.9 324.3 L755.9 324.5 L757.9 324.8 L759.9 324.9 L761.9 325.1 L763.9 325.3 L765.9 325.4 L767.9 325.6 L769.9 325.8 L771.9 325.9 L773.9 326.1 L775.9 326.3 L782.0 326.3 L782.0 191.5 L499.2 191.5Z" fill="#5991ff"/>
<path d="M530.0 197.5 L530.6 199.5 L531.1 201.4 L531.6 203.3 L532.2 205.2 L532.7 207.2 L533.2 209.1 L533.7 211.0 L534.3 213.0 L534.8 214.9 L535.4 216.8 L536.1 218.7 L536.8 220.5 L537.6 222.4 L538.4 224.2 L539.2 226.0 L540.1 227.8 L541.1 229.6 L542.0 231.3 L543.0 233.1 L544.0 234.8 L545.1 236.5 L546.2 238.2 L547.3 239.8 L548.4 241.5 L549.6 243.1 L550.9 244.6 L552.2 246.2 L553.5 247.7 L554.9 249.1 L556.3 250.5 L557.8 251.8 L559.3 253.1 L560.9 254.3 L562.6 255.5 L564.2 256.5 L566.0 257.5 L567.7 258.5 L569.5 259.3 L571.4 260.1 L573.2 260.8 L575.1 261.5 L577.0 262.1 L579.0 262.5 L580.9 263.0 L582.9 263.3 L584.9 263.6 L586.9 263.8 L588.9 264.0 L590.8 264.2 L592.8 264.3 L594.8 264.3 L596.8 264.4 L598.8 264.4 L600.8 264.5 L602.8 264.4 L604.8 264.4 L606.8 264.4 L608.8 264.3 L610.8 264.3 L612.8 264.3 L614.8 264.2 L616.8 264.2 L618.8 264.2 L620.8 264.3 L622.8 264.3 L624.8 264.3 L626.8 264.4 L628.8 264.5 L630.8 264.5 L632.8 264.6 L634.8 264.7 L636.8 264.9 L638.8 265.0 L640.8 265.1 L642.8 265.3 L644.8 265.5 L646.8 265.7 L648.8 265.9 L650.8 266.1 L652.8 266.4 L654.7 266.6 L656.7 266.9 L658.7 267.2 L660.7 267.5 L662.7 267.8 L664.6 268.1 L666.6 268.4 L668.6 268.8 L670.5 269.1 L672.5 269.5 L674.5 269.8 L676.4 270.2 L678.4 270.6 L680.4 271.0 L682.3 271.4 L684.3 271.8 L686.3 272.2 L688.2 272.6 L690.2 273.0 L692.1 273.4 L694.1 273.8 L696.1 274.2 L698.0 274.5 L700.0 274.9 L701.9 275.3 L703.9 275.7 L705.9 276.1 L707.8 276.5 L709.8 276.9 L711.7 277.3 L713.7 277.7 L715.7 278.1 L717.6 278.5 L719.6 278.9 L721.5 279.3 L723.5 279.7 L725.5 280.1 L727.4 280.5 L729.4 280.8 L731.4 281.2 L733.3 281.6 L735.3 281.9 L737.3 282.3 L739.2 282.6 L741.2 282.9 L743.2 283.2 L745.2 283.6 L747.1 283.9 L749.1 284.2 L751.1 284.5 L753.1 284.8 L755.1 285.1 L757.0 285.4 L759.0 285.6 L761.0 285.9 L763.0 286.2 L765.0 286.4 L767.0 286.6 L768.9 286.8 L770.9 287.0 L772.9 287.2 L774.9 287.4 L775.9 287.5 L782.0 287.5 L782.0 191.5 L530.0 191.5Z" fill="#4c7cff"/>
<path d="M568.1 197.5 L568.3 199.5 L568.4 201.5 L568.6 203.5 L568.8 205.5 L569.1 207.5 L569.5 209.4 L570.2 211.3 L571.5 212.7 L573.3 213.5 L575.2 213.6 L577.2 213.5 L579.2 213.3 L581.2 213.0 L583.2 212.6 L585.1 212.1 L587.0 211.6 L589.0 211.1 L590.9 210.6 L592.9 210.1 L594.8 209.7 L596.8 209.4 L598.7 209.0 L600.7 208.7 L602.7 208.4 L604.7 208.1 L606.7 207.9 L608.7 207.6 L610.6 207.4 L612.6 207.3 L614.6 207.2 L616.6 207.0 L618.6 207.0 L620.6 206.9 L622.6 206.9 L624.6 206.8 L626.6 206.9 L628.6 206.9 L630.6 207.0 L632.6 207.1 L634.6 207.3 L636.6 207.5 L638.6 207.7 L640.6 207.9 L642.6 208.2 L644.6 208.4 L646.5 208.7 L648.5 208.9 L650.5 209.2 L652.5 209.5 L654.4 209.9 L656.4 210.3 L658.4 210.7 L660.3 211.1 L662.2 211.6 L664.2 212.1 L666.1 212.7 L668.0 213.2 L670.0 213.7 L671.9 214.3 L673.8 214.8 L675.7 215.4 L677.6 216.0 L679.5 216.6 L681.5 217.2 L683.4 217.8 L685.2 218.5 L687.1 219.1 L689.0 219.8 L690.9 220.5 L692.8 221.2 L694.7 221.9 L696.5 222.6 L698.4 223.3 L700.2 224.1 L702.1 224.8 L703.9 225.6 L705.8 226.4 L707.6 227.1 L709.5 227.9 L711.3 228.6 L713.2 229.4 L715.1 230.1 L716.9 230.8 L718.8 231.5 L720.7 232.2 L722.5 232.9 L724.4 233.6 L726.3 234.3 L728.2 234.9 L730.1 235.5 L732.0 236.2 L733.9 236.8 L735.8 237.4 L737.7 237.9 L739.7 238.5 L741.6 239.1 L743.5 239.6 L745.4 240.1 L747.4 240.6 L749.3 241.1 L751.3 241.6 L753.2 242.1 L755.1 242.5 L757.1 243.0 L759.1 243.4 L761.0 243.8 L763.0 244.2 L765.0 244.5 L766.9 244.8 L768.9 244.9 L770.9 245.1 L772.9 245.2 L774.9 245.3 L775.9 245.3 L782.0 245.3 L782.0 191.5 L568.1 191.5Z" fill="#4067ff"/>
<path d="M765.8 197.5 L767.6 198.6 L769.4 199.7 L771.2 200.6 L773.0 201.4 L775.0 202.2 L775.9 202.6 L782.0 202.6 L782.0 191.5 L765.8 191.5Z" fill="#3353ff"/>
<path d="M281.3 529.4 L283.3 529.2 L285.3 529.0 L287.3 528.8 L289.3 528.6 L291.3 528.4 L293.3 528.3 L295.3 528.2 L297.3 528.3 L299.3 528.4 L301.2 528.6 L303.2 528.8 L305.2 529.2 L307.2 529.5 L309.1 529.9 L311.1 530.3 L313.0 530.7 L315.0 531.2 L316.9 531.7 L318.8 532.3 L320.7 533.0 L322.5 533.8 L324.4 534.6 L326.2 535.4 L328.0 536.2 L329.8 537.1 L331.6 538.0 L333.4 538.9 L335.1 539.9 L336.9 540.8 L338.6 541.8 L340.3 542.8 L342.1 543.9 L343.8 544.9 L345.5 546.0 L347.1 547.1 L348.8 548.2 L350.5 549.3 L352.1 550.4 L353.8 551.5 L355.4 552.7 L357.1 553.8 L358.7 555.0 L360.3 556.1 L362.0 557.3 L363.6 558.4 L365.2 559.6 L366.9 560.7 L368.5 561.9 L370.2 563.0 L371.8 564.2 L373.4 565.3 L375.1 566.4 L376.7 567.6 L378.4 568.7 L380.1 569.8 L381.7 570.9 L383.4 572.0 L385.1 573.1 L386.8 574.2 L388.4 575.3 L390.1 576.3 L391.8 577.4 L393.5 578.5 L395.2 579.5 L396.9 580.6 L398.6 581.6 L400.4 582.6 L402.1 583.6 L403.9 584.5 L405.6 585.5 L407.4 586.4 L409.2 587.3 L411.0 588.1 L412.8 589.0 L414.7 589.8 L416.5 590.6 L418.4 591.3 L420.2 592.1 L422.1 592.8 L423.9 593.5 L425.8 594.2 L427.7 594.9 L429.6 595.6 L431.4 596.3 L433.3 597.0 L435.2 597.6 L437.1 598.2 L439.0 598.8 L441.0 599.3 L442.9 599.8 L444.8 600.3 L446.8 600.7 L448.8 601.1 L450.7 601.5 L452.7 601.9 L454.6 602.3 L456.6 602.6 L458.6 602.9 L460.6 603.2 L462.5 603.5 L464.5 603.8 L466.5 604.1 L468.5 604.5 L470.5 604.8 L472.4 605.1 L474.4 605.4 L476.4 605.8 L478.3 606.1 L480.3 606.4 L482.3 606.8 L484.2 607.2 L486.2 607.6 L488.2 608.0 L490.1 608.5 L492.0 609.0 L493.9 609.6 L495.9 610.2 L497.7 610.9 L499.6 611.6 L501.3 612.5 L503.1 613.6 L504.7 614.7 L506.2 616.0 L507.6 617.4 L509.0 618.9 M541.2 708.0 L541.5 710.0 L541.8 712.0 L542.1 714.0 L542.4 715.9 L542.7 717.9 L543.0 719.9 L543.3 721.9 L543.5 723.9 L543.7 725.9 L543.9 727.8 L544.0 729.8 L544.2 731.8 L544.3 733.8 L544.4 735.8 L544.5 737.8 L544.5 739.8 L544.6 741.8 L544.6 743.8 L544.7 745.8 L544.7 747.8 L544.7 749.8 L544.7 751.8 L544.7 753.8 L544.7 755.8 L544.6 757.8 L544.6 759.8 L544.5 761.8 L544.4 763.8 L544.4 765.8 L544.3 767.8 L544.1 769.8 L544.0 771.8 L543.9 773.8 L543.7 775.8 L543.5 777.8 L543.3 779.8 L543.1 781.8 L542.8 783.8 L542.6 785.7 L542.3 787.7 L542.1 789.7 L541.8 791.7 L541.5 793.7 L541.2 795.7 L540.9 797.6 L540.6 799.6 L540.3 801.6 L540.1 803.6 L539.8 805.6 L539.5 807.5 L539.2 809.5 L538.9 811.5 L538.6 813.5 L538.3 815.4 L538.0 817.4 L537.7 819.4 L537.4 821.4 L537.1 823.4 L536.8 825.3 L536.5 827.3 L536.2 829.3 L535.9 831.3 L535.6 833.2 L535.3 835.2 L534.9 837.2 L534.6 839.2 L534.3 841.1 L534.0 843.1 L533.7 845.1 L533.5 847.1 L533.2 849.1 L532.9 851.1 L532.7 853.0 L532.4 855.0 L532.2 857.0 L532.0 859.0 L531.8 861.0 L531.6 863.0 L531.4 865.0 L531.2 867.0 L531.1 869.0 L530.9 871.0 L530.8 873.0 L530.8 874.9 L530.7 876.9 L530.7 878.9 L530.6 880.9 L530.6 881.9 M281.3 364.9 L283.2 365.6 L285.1 366.3 L286.9 367.0 L288.8 367.7 L290.7 368.5 L292.5 369.3 L294.3 370.1 L296.1 371.0 L297.9 372.0 L299.6 372.9 L301.4 373.9 L303.1 374.9 L304.8 376.0 L306.5 377.0 L308.2 378.1 L309.8 379.3 L311.5 380.4 L313.1 381.6 L314.7 382.7 L316.3 383.9 L317.9 385.1 L319.5 386.3 L321.1 387.6 L322.7 388.8 L324.2 390.1 L325.8 391.3 L327.4 392.6 L328.9 393.9 L330.4 395.1 L332.0 396.4 L333.5 397.7 L335.1 399.0 L336.6 400.3 L338.1 401.6 L339.6 402.9 L341.1 404.2 L342.7 405.5 L344.2 406.8 L345.7 408.2 L347.1 409.5 L348.6 410.8 L350.1 412.2 L351.6 413.5 L353.1 414.9 L354.6 416.2 L356.1 417.5 L357.5 418.9 L359.0 420.2 L360.5 421.6 L362.0 422.9 L363.5 424.2 L365.0 425.6 L366.5 426.9 L368.0 428.3 L369.5 429.6 L371.0 430.9 L372.4 432.3 L373.9 433.6 L375.4 434.9 L376.9 436.3 L378.4 437.6 L379.9 439.0 L381.3 440.4 L382.8 441.8 L384.2 443.2 L385.6 444.6 L387.0 446.0 L388.4 447.4 L389.8 448.9 L391.2 450.3 L392.7 451.7 L394.1 453.0 L395.6 454.4 L397.1 455.8 L398.6 457.1 L400.1 458.4 L401.6 459.7 L403.2 461.0 L404.7 462.2 L406.3 463.5 L407.8 464.7 L409.4 466.0 L411.0 467.2 L412.6 468.4 L414.2 469.6 L415.9 470.7 L417.5 471.8 L419.2 472.9 L420.9 474.0 M530.7 510.3 L532.5 511.1 L534.3 512.0 L536.0 513.1 L537.6 514.2 L539.3 515.4 L540.8 516.6 L542.4 517.9 L544.0 519.1 L545.5 520.4 L547.1 521.6 L548.6 522.9 L550.1 524.2 L551.6 525.6 L553.1 526.9 L554.6 528.2 L556.1 529.5 L557.6 530.9 L559.1 532.2 L560.6 533.5 L562.1 534.9 L563.6 536.2 L565.1 537.6 L566.5 538.9 L568.0 540.3 L569.5 541.6 L570.9 543.0 L572.4 544.4 L573.8 545.8 L575.3 547.2 L576.7 548.6 L578.2 549.9 L579.6 551.3 L581.1 552.7 L582.6 554.0 L584.1 555.4 L585.5 556.7 L587.0 558.0 L588.5 559.4 L590.0 560.7 L591.5 562.0 L593.0 563.4 L594.5 564.7 L596.0 566.1 L597.5 567.4 L599.0 568.7 L600.4 570.1 L601.9 571.4 L603.4 572.7 L605.0 574.0 L606.5 575.3 L608.0 576.6 L609.6 577.9 L611.1 579.2 L612.7 580.4 L614.2 581.7 L615.8 582.9 L617.4 584.2 L618.9 585.4 L620.5 586.6 L622.1 587.8 L623.8 589.0 L625.4 590.2 L627.0 591.3 L628.7 592.4 L630.4 593.5 L632.0 594.6 L633.7 595.7 L635.4 596.8 L637.1 597.9 L638.7 599.0 L640.4 600.1 L642.1 601.2 L643.8 602.3 L645.5 603.3 L647.2 604.4 L648.9 605.4 L650.6 606.5 L652.3 607.6 L654.0 608.7 L655.6 609.8 L657.3 610.9 L658.9 612.0 L660.6 613.2 L662.2 614.4 L663.8 615.6 L665.3 616.8 L666.9 618.1 L668.5 619.4 L670.0 620.7 L671.5 622.0 L673.0 623.3 L674.4 624.7 L675.9 626.1 L677.3 627.5 L678.7 628.9 L680.0 630.4 L681.4 631.9 L682.7 633.4 L683.9 635.0 L685.2 636.5 L686.4 638.1 L687.6 639.8 L688.7 641.4 L689.8 643.0 L690.9 644.7 L692.0 646.4 L693.0 648.2 L694.0 649.9 L694.9 651.7 L695.9 653.4 L696.8 655.2 L697.7 657.0 L698.5 658.8 L699.3 660.6 L700.1 662.5 L700.9 664.3 L701.7 666.2 L702.4 668.0 L703.2 669.9 L703.9 671.8 L704.6 673.6 L705.3 675.5 L706.0 677.4 L706.6 679.3 L707.3 681.2 L707.9 683.1 L708.5 685.0 L709.1 686.9 L709.7 688.8 L710.2 690.8 L710.7 692.7 L711.2 694.6 L711.7 696.6 L712.1 698.5 L712.5 700.5 L713.0 702.4 L713.4 704.4 L713.8 706.4 L714.2 708.3 L714.6 710.3 L715.0 712.3 L715.4 714.2 L715.7 716.2 L716.1 718.2 L716.5 720.1 L716.8 722.1 L717.2 724.1 L717.6 726.0 L717.9 728.0 L718.3 730.0 L718.6 731.9 L718.9 733.9 L719.3 735.9 L719.6 737.9 L719.9 739.9 L720.2 741.8 L720.5 743.8 L720.8 745.8 L721.1 747.8 L721.4 749.7 L721.7 751.7 L722.0 753.7 L722.3 755.7 L722.5 757.7 L722.8 759.7 L723.1 761.7 L723.3 763.6 L723.6 765.6 L723.8 767.6 L724.0 769.6 L724.3 771.6 L724.5 773.6 L724.7 775.6 L725.0 777.6 L725.2 779.5 L725.4 781.5 L725.6 783.5 L725.8 785.5 L726.0 787.5 L726.2 789.5 L726.3 791.5 L726.5 793.5 L726.7 795.5 L726.9 797.5 L727.1 799.5 L727.3 801.5 L727.5 803.5 L727.8 805.4 L728.1 807.4 L728.4 809.4 L728.8 811.4 L729.2 813.3 L729.6 815.3 L730.0 817.3 L730.4 819.2 L730.8 821.2 L731.2 823.1 L731.6 825.1 L732.0 827.1 L732.5 829.0 L732.9 831.0 L733.3 832.9 L733.6 834.9 L734.0 836.9 L734.4 838.8 L734.8 840.8 L735.2 842.8 L735.6 844.7 L736.0 846.7 L736.4 848.7 L736.8 850.6 L737.2 852.6 L737.6 854.5 L738.0 856.5 L738.4 858.5 L738.8 860.4 L739.2 862.4 L739.6 864.3 L740.1 866.3 L740.5 868.3 L740.9 870.2 L741.3 872.2 L741.8 874.1 L742.2 876.1 L742.6 878.0 L743.0 880.0 L743.5 881.9 M281.3 240.3 L283.2 241.0 L285.1 241.7 L287.0 242.4 L288.9 243.0 L290.7 243.7 L292.6 244.4 L294.5 245.1 L296.4 245.8 L298.2 246.5 L300.1 247.2 L302.0 247.9 L303.9 248.6 L305.7 249.3 L307.6 250.0 L309.5 250.8 L311.3 251.5 L313.2 252.2 L315.1 252.9 L316.9 253.6 L318.8 254.4 L320.7 255.1 L322.5 255.8 L324.4 256.6 L326.3 257.3 L328.1 258.0 L330.0 258.8 L331.8 259.5 L333.7 260.3 L335.6 261.0 L337.4 261.7 L339.3 262.5 L341.1 263.2 L343.0 263.9 L344.9 264.7 L346.5 265.7 L348.0 267.1 L349.2 268.6 L350.3 270.3 L351.3 272.1 L352.1 273.9 L353.0 275.7 L353.8 277.5 L354.5 279.4 L355.3 281.2 L356.0 283.1 L356.8 284.9 L357.5 286.8 L358.3 288.6 L359.0 290.5 L359.8 292.4 L360.5 294.2 L361.2 296.1 L362.0 297.9 L362.7 299.8 L363.4 301.7 L364.2 303.5 L364.9 305.4 L365.7 307.2 L366.5 309.1 L367.3 310.9 L368.1 312.7 L368.9 314.6 L369.8 316.4 L370.6 318.2 L371.4 320.0 L372.3 321.8 L373.2 323.6 L374.1 325.4 L375.0 327.2 L376.0 328.9 L376.9 330.7 L377.9 332.5 L378.8 334.2 L379.8 336.0 L380.8 337.7 L381.8 339.4 L382.9 341.1 L383.9 342.9 L384.9 344.6 L386.0 346.3 L387.0 348.0 L388.1 349.7 L389.1 351.4 L390.2 353.1 L391.3 354.8 L392.3 356.5 L393.4 358.2 L394.5 359.8 L395.6 361.5 L396.8 363.1 L397.9 364.8 L399.1 366.4 L400.2 368.0 L401.4 369.7 L402.6 371.3 L403.8 372.9 L405.0 374.5 L406.2 376.1 L407.5 377.6 L408.7 379.2 L410.0 380.8 L411.2 382.3 L412.5 383.9 L413.8 385.4 L415.1 386.9 L416.4 388.5 L417.7 390.0 L419.0 391.5 L420.3 393.0 L421.6 394.5 L422.9 396.0 L424.3 397.5 L425.6 399.0 L427.0 400.4 L428.4 401.9 L429.8 403.3 L431.2 404.7 L432.7 406.1 L434.1 407.4 L435.6 408.8 L437.1 410.1 L438.6 411.5 L440.1 412.8 L441.6 414.1 L443.1 415.4 L444.6 416.7 L446.1 418.0 L447.6 419.3 L449.2 420.7 L450.7 421.9 L452.2 423.2 L453.8 424.5 L455.3 425.8 L456.9 427.0 L458.5 428.2 L460.1 429.4 L461.7 430.6 L463.3 431.8 L464.9 433.0 L466.6 434.2 L468.2 435.3 L469.9 436.4 L471.5 437.5 L473.2 438.6 L474.9 439.6 L476.6 440.7 L478.4 441.7 L480.1 442.7 L481.9 443.6 L483.6 444.6 L485.4 445.5 L487.2 446.5 L488.9 447.4 L490.7 448.3 L492.5 449.1 L494.3 450.0 L496.2 450.8 L498.0 451.6 L499.8 452.4 L501.7 453.2 L503.6 453.9 L505.4 454.6 L507.3 455.4 L509.1 456.1 L511.0 456.9 L512.9 457.6 L514.7 458.3 L516.6 459.0 L518.5 459.8 L520.3 460.5 L522.2 461.2 L524.0 462.0 L525.9 462.7 L527.7 463.5 L529.6 464.3 L531.4 465.2 L533.2 466.1 L534.9 467.0 L536.7 467.9 L538.5 468.9 L540.2 469.8 L542.0 470.8 L543.7 471.8 L545.5 472.7 L547.2 473.7 L549.0 474.7 L550.8 475.6 L552.5 476.5 L554.3 477.5 L556.1 478.4 L557.8 479.4 L559.6 480.3 L561.4 481.3 L563.1 482.2 L564.9 483.1 L566.7 484.1 L568.4 485.0 L570.2 486.0 L572.0 486.9 L573.7 487.9 L575.5 488.8 L577.2 489.8 L579.0 490.7 L580.8 491.7 L582.5 492.6 L584.3 493.5 L586.1 494.5 L587.9 495.3 L589.7 496.2 L591.5 497.1 L593.3 498.0 L595.1 498.8 L596.9 499.7 L598.7 500.5 L600.5 501.3 L602.4 502.2 L604.2 503.0 L606.0 503.8 L607.9 504.6 L609.7 505.3 L611.6 506.1 L613.4 506.9 L615.3 507.6 L617.1 508.4 L619.0 509.1 L620.9 509.8 L622.7 510.5 L624.6 511.2 L626.5 511.8 L628.4 512.5 L630.3 513.1 L632.2 513.7 L634.1 514.3 L636.1 514.9 L638.0 515.4 L639.9 515.9 L641.9 516.4 L643.8 516.8 L645.8 517.2 L647.8 517.6 L649.7 517.9 L651.7 518.2 L653.7 518.4 L655.7 518.6 L657.7 518.9 L659.7 519.0 L661.7 519.2 L663.7 519.3 L665.7 519.5 L667.7 519.5 L669.7 519.6 L671.7 519.6 L673.7 519.5 L675.7 519.4 L677.7 519.3 L679.6 519.1 L681.6 518.8 L683.6 518.6 L685.6 518.2 L687.6 517.9 L689.5 517.6 L691.5 517.2 L693.5 516.8 L695.4 516.3 L697.4 515.9 L699.3 515.3 L701.2 514.8 L703.1 514.2 L705.0 513.6 L706.9 512.9 L708.8 512.3 L710.7 511.6 L712.6 511.0 L714.5 510.4 L716.4 509.7 L718.3 509.1 L720.2 508.4 L722.1 507.8 L724.0 507.2 L725.9 506.6 L727.9 506.1 L729.8 505.6 L731.8 505.2 L733.7 505.0 L735.7 505.1 L737.5 505.8 L739.0 507.0 L740.4 508.5 L741.5 510.1 L742.5 511.8 L743.5 513.6 L744.4 515.3 L745.4 517.1 L746.3 518.9 L747.1 520.7 L748.0 522.5 L748.9 524.3 L749.7 526.1 L750.5 527.9 L751.3 529.8 L752.2 531.6 L753.0 533.4 L753.8 535.3 L754.6 537.1 L755.4 538.9 L756.2 540.8 L757.0 542.6 L757.8 544.4 L758.6 546.3 L759.4 548.1 L760.2 549.9 L761.0 551.8 L761.9 553.6 L762.7 555.4 L763.5 557.2 L764.4 559.0 L765.2 560.8 L766.1 562.6 L767.0 564.4 L767.9 566.2 L768.8 568.0 L769.8 569.7 L770.8 571.5 L771.7 573.2 L772.6 575.1 L773.3 576.9 L774.0 578.8 L774.7 580.7 L775.3 582.6 L775.7 583.5 M347.0 197.5 L348.6 198.8 L350.1 200.0 L351.7 201.3 L353.2 202.5 L354.8 203.8 L356.3 205.2 L357.7 206.5 L359.2 207.9 L360.6 209.3 L361.9 210.8 L363.3 212.3 L364.6 213.8 L365.9 215.3 L367.1 216.9 L368.4 218.4 L369.6 220.0 L370.7 221.7 L371.9 223.3 L373.0 225.0 L374.0 226.7 L375.1 228.4 L376.1 230.1 L377.1 231.9 L378.0 233.6 L378.9 235.4 L379.8 237.2 L380.7 239.0 L381.6 240.8 L382.4 242.6 L383.2 244.4 L384.1 246.3 L384.9 248.1 L385.7 249.9 L386.5 251.8 L387.3 253.6 L388.1 255.4 L389.0 257.2 L389.8 259.0 L390.7 260.8 L391.6 262.6 L392.4 264.4 L393.3 266.3 L394.1 268.1 L394.9 269.9 L395.8 271.7 L396.7 273.5 L397.5 275.3 L398.4 277.1 L399.3 278.9 L400.2 280.7 L401.2 282.4 L402.1 284.2 L402.9 286.0 L403.8 287.8 L404.7 289.6 L405.6 291.4 L406.5 293.2 L407.4 295.0 L408.3 296.7 L409.3 298.5 L410.2 300.3 L411.2 302.0 L412.1 303.8 L413.0 305.6 L414.0 307.3 L414.9 309.1 L415.9 310.9 L416.8 312.6 L417.7 314.4 L418.7 316.2 L419.7 317.9 L420.6 319.7 L421.6 321.4 L422.6 323.1 L423.7 324.8 L424.7 326.5 L425.8 328.2 L427.0 329.8 L428.2 331.4 L429.5 333.0 L430.7 334.5 L432.0 336.1 M516.8 414.1 L518.5 415.1 L520.3 416.1 L522.0 417.0 L523.8 418.0 L525.5 419.0 L527.3 420.0 L529.0 420.9 L530.7 421.9 L532.5 422.9 L534.2 423.9 L536.0 424.8 L537.7 425.8 L539.5 426.8 L541.3 427.7 L543.0 428.6 L544.8 429.5 L546.6 430.4 L548.5 431.2 L550.3 432.0 L552.1 432.9 L553.9 433.7 L555.7 434.5 L557.6 435.4 L559.4 436.2 L561.2 437.1 L562.9 438.0 L564.7 439.0 L566.5 439.9 L568.2 440.8 L570.0 441.7 L571.9 442.5 L573.7 443.3 L575.5 444.2 L577.3 445.0 L579.2 445.8 L581.0 446.6 L582.8 447.4 L584.7 448.2 L586.5 449.1 L588.3 449.9 L590.1 450.7 L592.0 451.5 L593.8 452.3 L595.7 453.0 L597.5 453.8 L599.4 454.5 L601.2 455.2 L603.1 455.9 L605.0 456.6 L606.9 457.3 L608.8 457.9 L610.7 458.5 L612.6 459.2 L614.5 459.7 L616.4 460.3 L618.4 460.8 L620.3 461.3 L622.2 461.8 L624.2 462.2 L626.2 462.6 L628.1 463.0 L630.1 463.4 L632.1 463.7 L634.0 464.1 L636.0 464.4 L638.0 464.7 L640.0 465.0 L641.9 465.2 L643.9 465.5 L645.9 465.7 L647.9 466.0 L649.9 466.2 L651.9 466.3 L653.9 466.5 L655.9 466.7 L657.9 466.8 L659.9 466.9 L661.9 466.9 L663.9 467.0 L665.9 467.0 L667.9 467.0 L669.9 467.1 L671.9 467.1 L673.9 467.0 L675.9 467.0 L677.9 467.0 L679.9 466.9 L681.9 466.9 L683.9 466.8 L685.9 466.7 L687.9 466.6 L689.9 466.6 L691.9 466.5 L693.9 466.4 L695.9 466.3 L697.9 466.2 L699.9 466.2 L701.9 466.1 L703.9 466.0 L705.9 465.9 L707.9 465.9 L709.9 465.8 L711.9 465.8 L713.9 465.8 L715.9 465.9 L717.9 465.9 L719.9 466.0 L721.9 466.1 L723.9 466.3 L725.8 466.6 L727.8 466.8 L729.8 467.2 L731.8 467.5 L733.7 468.0 L735.7 468.5 L737.6 469.0 L739.5 469.6 L741.4 470.2 L743.3 470.9 L745.1 471.7 L746.9 472.5 L748.8 473.3 L750.6 474.2 L752.3 475.1 L754.1 476.1 L755.8 477.1 L757.5 478.1 L759.2 479.2 L760.9 480.3 L762.5 481.4 L764.1 482.6 L765.7 483.9 L767.2 485.2 L768.7 486.5 L770.2 487.9 L771.7 489.2 L773.1 490.6 L774.5 492.0 L775.9 493.5 M396.4 197.5 L397.4 199.3 L398.3 201.0 L399.3 202.8 L400.2 204.6 L401.1 206.4 L401.9 208.2 L402.8 210.0 L403.6 211.8 L404.5 213.6 L405.3 215.4 L406.2 217.2 L407.0 219.0 L407.9 220.8 L408.8 222.6 L409.7 224.4 L410.6 226.2 L411.5 228.0 L412.4 229.8 L413.2 231.6 L414.1 233.4 L415.0 235.2 L415.9 237.0 L416.8 238.8 L417.7 240.6 L418.6 242.4 L419.6 244.1 L420.5 245.9 L421.6 247.6 L422.6 249.3 L423.6 251.0 L424.5 252.8 L425.4 254.6 L426.3 256.4 L427.1 258.2 L428.0 260.0 L428.8 261.9 L429.7 263.7 L430.5 265.5 L431.4 267.3 L432.2 269.1 L433.1 270.9 L434.1 272.7 L435.0 274.4 L436.0 276.2 L437.0 277.9 L438.0 279.7 L438.9 281.4 L439.9 283.1 L440.9 284.9 L441.9 286.6 L443.0 288.3 L444.0 290.1 L445.0 291.8 L446.0 293.5 L447.1 295.2 L448.1 296.9 L449.2 298.6 L450.2 300.3 L451.3 302.0 L452.4 303.7 L453.6 305.3 L454.8 306.9 L456.0 308.5 L457.2 310.1 L458.4 311.7 L459.6 313.3 L460.7 315.0 L461.9 316.6 L463.0 318.2 L464.3 319.8 L465.5 321.4 L466.7 323.0 L468.0 324.5 L469.2 326.1 L470.5 327.7 L471.7 329.3 L472.9 330.8 L474.2 332.4 L475.4 334.0 L476.6 335.6 L477.9 337.1 L479.2 338.7 L480.5 340.2 L481.8 341.7 L483.1 343.2 L484.4 344.7 L485.7 346.2 L487.1 347.7 L488.4 349.2 L489.8 350.6 L491.2 352.1 L492.6 353.5 L494.1 354.9 L495.5 356.3 L496.9 357.7 L498.4 359.0 L499.9 360.4 L501.4 361.7 L502.9 363.0 L504.5 364.3 L506.0 365.5 L507.6 366.7 L509.2 367.9 L510.9 369.1 L512.5 370.3 L514.2 371.4 L515.8 372.5 L517.5 373.6 L519.2 374.6 L520.9 375.6 L522.7 376.6 L524.4 377.6 L526.2 378.5 L528.0 379.5 L529.7 380.5 L531.4 381.5 L533.1 382.6 L534.8 383.7 L536.4 384.8 L538.1 385.9 L539.8 387.0 L541.5 388.1 L543.2 389.1 L544.9 390.1 L546.7 391.1 L548.4 392.1 L550.2 393.0 L551.9 394.0 L553.7 394.9 L555.5 395.8 L557.3 396.7 L559.1 397.6 L560.9 398.5 L562.7 399.4 L564.5 400.2 L566.3 401.1 L568.1 401.9 L569.9 402.7 L571.8 403.5 L573.6 404.3 L575.5 405.1 L577.3 405.9 L579.2 406.6 L581.0 407.3 L582.9 408.0 L584.8 408.8 L586.7 409.4 L588.5 410.1 L590.4 410.8 L592.3 411.5 L594.2 412.1 L596.1 412.8 L598.0 413.4 L599.9 414.0 L601.8 414.6 L603.7 415.2 L605.7 415.8 L607.6 416.3 L609.5 416.8 L611.5 417.3 L613.4 417.8 L615.4 418.2 L617.3 418.6 L619.3 419.0 L621.3 419.4 L623.2 419.8 L625.2 420.1 L627.2 420.5 L629.1 420.8 L631.1 421.1 L633.1 421.4 L635.1 421.7 L637.1 422.0 L639.1 422.2 L641.0 422.5 L643.0 422.7 L645.0 422.9 L647.0 423.1 L649.0 423.3 L651.0 423.5 L653.0 423.7 L655.0 423.8 L657.0 424.0 L659.0 424.1 L661.0 424.3 L663.0 424.4 L665.0 424.6 L667.0 424.7 L669.0 424.9 L671.0 425.0 L673.0 425.1 L675.0 425.3 L677.0 425.4 L679.0 425.5 L681.0 425.6 L683.0 425.7 L685.0 425.8 L687.0 425.9 L689.0 426.0 L691.0 426.1 L693.0 426.2 L695.0 426.2 L697.0 426.4 L699.0 426.5 L701.0 426.6 L703.0 426.8 L705.0 427.0 L707.0 427.2 L708.9 427.4 L710.9 427.6 L712.9 427.9 L714.9 428.1 L716.9 428.4 L718.9 428.7 L720.9 429.0 L722.8 429.3 L724.8 429.7 L726.8 430.0 L728.7 430.4 L730.7 430.8 L732.6 431.3 L734.6 431.7 L736.5 432.2 L738.5 432.7 L740.4 433.2 L742.4 433.7 L744.3 434.2 L746.2 434.8 L748.1 435.4 L750.0 435.9 L752.0 436.5 L753.9 437.2 L755.8 437.8 L757.7 438.5 L759.5 439.1 L761.4 439.9 L763.3 440.6 L765.1 441.4 L766.9 442.3 L768.7 443.1 L770.5 444.0 L772.3 444.9 L774.1 445.8 L775.9 446.6 M433.5 197.5 L434.3 199.3 L435.2 201.1 L436.0 203.0 L436.9 204.8 L437.7 206.6 L438.5 208.4 L439.4 210.2 L440.2 212.1 L441.0 213.9 L441.8 215.7 L442.6 217.6 L443.5 219.4 L444.3 221.2 L445.1 223.0 L445.9 224.9 L446.8 226.7 L447.6 228.5 L448.5 230.3 L449.4 232.1 L450.2 233.9 L451.1 235.7 L452.0 237.5 L452.9 239.3 L453.7 241.1 L454.6 242.9 L455.5 244.8 L456.3 246.6 L457.2 248.4 L458.1 250.2 L459.0 251.9 L459.9 253.7 L460.8 255.5 L461.7 257.3 L462.7 259.1 L463.6 260.8 L464.6 262.6 L465.6 264.3 L466.5 266.1 L467.5 267.8 L468.5 269.6 L469.5 271.3 L470.5 273.1 L471.5 274.8 L472.5 276.5 L473.5 278.2 L474.6 280.0 L475.6 281.7 L476.6 283.4 L477.7 285.1 L478.7 286.8 L479.8 288.5 L480.9 290.2 L482.0 291.9 L483.1 293.5 L484.2 295.2 L485.4 296.8 L486.6 298.4 L487.8 300.1 L488.9 301.7 L490.1 303.3 L491.3 304.9 L492.5 306.5 L493.8 308.1 L495.1 309.6 L496.4 311.1 L497.8 312.6 L499.2 314.0 L500.6 315.4 L502.0 316.9 L503.3 318.3 L504.7 319.8 L506.0 321.3 L507.4 322.8 L508.8 324.2 L510.1 325.7 L511.5 327.1 L513.0 328.5 L514.4 329.9 L515.9 331.3 L517.4 332.6 L519.0 333.8 L520.5 335.1 L522.2 336.2 L523.8 337.4 L525.4 338.6 M614.3 377.9 L616.2 378.3 L618.2 378.7 L620.2 379.1 L622.1 379.5 L624.1 379.9 L626.0 380.3 L628.0 380.7 L630.0 381.1 L632.0 381.5 L633.9 381.8 L635.9 382.2 L637.9 382.5 L639.9 382.8 L641.8 383.2 L643.8 383.5 L645.8 383.8 L647.8 384.1 L649.7 384.4 L651.7 384.7 L653.7 385.0 L655.7 385.3 L657.7 385.5 L659.7 385.8 L661.7 386.1 L663.6 386.3 L665.6 386.6 L667.6 386.8 L669.6 387.0 L671.6 387.2 L673.6 387.5 L675.6 387.7 L677.6 387.9 L679.6 388.0 L681.6 388.2 L683.6 388.4 L685.6 388.6 L687.6 388.8 L689.6 389.0 L691.6 389.2 L693.6 389.4 L695.5 389.5 L697.5 389.7 L699.5 389.9 L701.5 390.1 L703.5 390.4 L705.5 390.6 L707.5 390.9 L709.5 391.2 L711.5 391.5 L713.4 391.8 L715.4 392.1 L717.4 392.4 L719.4 392.8 L721.3 393.2 L723.3 393.5 L725.3 393.9 L727.3 394.2 L729.2 394.6 L731.2 395.0 L733.2 395.4 L735.1 395.8 L737.1 396.2 L739.0 396.6 L741.0 397.0 L743.0 397.4 L744.9 397.8 L746.9 398.2 L748.8 398.7 L750.8 399.1 L752.8 399.6 L754.7 400.0 L756.7 400.5 L758.6 401.0 L760.5 401.5 L762.5 402.0 L764.4 402.5 L766.3 403.1 L768.2 403.7 L770.2 404.3 L772.1 404.9 L774.0 405.4 L775.9 406.0 M467.5 197.5 L468.2 199.4 L468.9 201.2 L469.6 203.1 L470.4 205.0 L471.1 206.9 L471.8 208.7 L472.6 210.6 L473.3 212.4 L474.1 214.3 L474.8 216.2 L475.6 218.0 L476.3 219.9 L477.1 221.7 L477.9 223.5 L478.7 225.4 L479.5 227.2 L480.3 229.1 L481.1 230.9 L481.9 232.7 L482.8 234.5 L483.6 236.4 L484.5 238.2 L485.4 240.0 L486.3 241.7 L487.2 243.5 L488.2 245.3 L489.1 247.0 L490.1 248.8 L491.1 250.5 L492.1 252.2 L493.2 254.0 L494.2 255.7 L495.2 257.4 L496.2 259.1 L497.1 260.9 L498.1 262.7 L499.1 264.4 L500.1 266.2 L501.1 267.9 L502.1 269.6 L503.2 271.3 L504.3 273.0 L505.4 274.7 L506.5 276.3 L507.6 277.9 L508.8 279.6 L510.0 281.2 L511.2 282.8 L512.4 284.4 L513.7 285.9 L514.9 287.5 L516.1 289.1 L517.3 290.7 L518.6 292.3 L519.8 293.8 L521.1 295.4 L522.5 296.8 L523.9 298.3 L525.3 299.7 L526.8 301.0 L528.3 302.4 L529.8 303.7 L531.3 305.0 L532.8 306.4 L534.3 307.6 L535.9 308.9 L537.4 310.2 L539.0 311.4 L540.6 312.6 L542.2 313.8 L543.9 314.9 L545.5 316.0 L547.3 317.1 L549.0 318.1 L550.7 319.0 L552.5 320.0 L554.3 320.9 L556.0 321.9 L557.8 322.8 L559.6 323.7 L561.4 324.5 L563.3 325.3 L565.1 326.1 L567.0 326.9 L568.8 327.6 L570.7 328.3 L572.5 329.1 L574.4 329.8 L576.3 330.6 L578.1 331.3 L580.0 332.0 L581.9 332.8 L583.7 333.5 L585.6 334.2 L587.5 334.9 L589.4 335.6 L591.3 336.2 L593.2 336.8 L595.1 337.4 L597.0 338.0 L598.9 338.6 L600.8 339.1 L602.8 339.7 L604.7 340.2 L606.7 340.6 L608.6 341.1 L610.6 341.5 L612.5 342.0 L614.5 342.4 L616.5 342.7 L618.4 343.1 L620.4 343.4 L622.4 343.8 L624.3 344.1 L626.3 344.5 L628.3 344.8 L630.3 345.1 L632.3 345.4 L634.2 345.7 L636.2 346.0 L638.2 346.3 L640.2 346.6 L642.2 346.9 L644.1 347.2 L646.1 347.4 L648.1 347.7 L650.1 348.0 L652.1 348.3 L654.1 348.5 L656.1 348.8 L658.0 349.0 L660.0 349.3 L662.0 349.6 L664.0 349.8 L666.0 350.1 L668.0 350.4 L670.0 350.6 L671.9 350.9 L673.9 351.2 L675.9 351.5 L677.9 351.8 L679.9 352.1 L681.9 352.4 L683.8 352.7 L685.8 353.0 L687.8 353.3 L689.8 353.6 L691.8 353.9 L693.7 354.2 L695.7 354.5 L697.7 354.8 L699.7 355.1 L701.7 355.4 L703.6 355.7 L705.6 356.0 L707.6 356.3 L709.6 356.6 L711.6 356.8 L713.6 357.1 L715.5 357.3 L717.5 357.6 L719.5 357.9 L721.5 358.1 L723.5 358.4 L725.5 358.7 L727.5 359.0 L729.4 359.2 L731.4 359.5 L733.4 359.8 L735.4 360.1 L737.4 360.5 L739.3 360.8 L741.3 361.1 L743.3 361.4 L745.3 361.7 L747.2 362.1 L749.2 362.4 L751.2 362.7 L753.2 363.1 L755.1 363.4 L757.1 363.7 L759.1 364.1 L761.1 364.4 L763.1 364.7 L765.0 365.0 L767.0 365.4 L769.0 365.7 L771.0 366.0 L772.9 366.3 L774.9 366.6 L775.9 366.8 M499.2 197.5 L499.9 199.4 L500.6 201.3 L501.3 203.1 L502.0 205.0 L502.7 206.9 L503.4 208.8 L504.2 210.6 L504.9 212.5 L505.6 214.4 L506.3 216.2 L507.1 218.1 L507.8 220.0 L508.6 221.8 L509.4 223.7 L510.2 225.5 L511.0 227.3 L511.8 229.2 L512.6 231.0 L513.5 232.8 L514.4 234.6 L515.3 236.4 L516.2 238.2 L517.1 240.0 L518.0 241.8 L518.9 243.6 L519.8 245.4 L520.6 247.2 L521.5 249.0 L522.4 250.8 L523.3 252.6 L524.2 254.3 L525.2 256.1 L526.2 257.8 L527.3 259.5 L528.4 261.2 L529.6 262.8 L530.8 264.4 L532.0 266.0 L533.2 267.6 L534.5 269.1 L535.9 270.6 L537.2 272.1 L538.6 273.5 L540.1 274.9 L541.5 276.3 L543.0 277.7 L544.5 279.0 L546.0 280.3 L547.6 281.5 L549.2 282.7 L550.8 283.9 L552.5 285.0 L554.2 286.1 L555.9 287.2 L557.6 288.2 L559.4 289.1 L561.1 290.1 L562.9 291.0 L564.7 291.9 L566.5 292.7 L568.4 293.6 L570.2 294.4 L572.0 295.2 L573.9 295.9 L575.8 296.6 L577.7 297.2 L579.6 297.9 L581.5 298.4 L583.4 299.0 L585.4 299.5 L587.3 300.0 L589.3 300.5 L591.2 301.0 L593.2 301.5 L595.1 301.9 L597.1 302.2 L599.1 302.6 L601.0 302.9 L603.0 303.3 L605.0 303.6 L607.0 303.9 L609.0 304.2 L610.9 304.5 L612.9 304.7 L614.9 305.0 L616.9 305.2 L618.9 305.5 L620.9 305.7 L622.9 305.9 L624.9 306.2 L626.9 306.4 L628.9 306.6 L630.9 306.8 L632.9 307.1 L634.8 307.3 L636.8 307.5 L638.8 307.7 L640.8 308.0 L642.8 308.2 L644.8 308.4 L646.8 308.7 L648.8 308.9 L650.8 309.1 L652.8 309.4 L654.8 309.6 L656.8 309.8 L658.8 310.1 L660.7 310.3 L662.7 310.6 L664.7 310.8 L666.7 311.1 L668.7 311.4 L670.7 311.6 L672.7 311.9 L674.7 312.2 L676.7 312.4 L678.6 312.7 L680.6 313.0 L682.6 313.3 L684.6 313.5 L686.6 313.8 L688.6 314.1 L690.5 314.4 L692.5 314.7 L694.5 315.0 L696.5 315.3 L698.5 315.6 L700.5 315.9 L702.5 316.2 L704.4 316.5 L706.4 316.8 L708.4 317.1 L710.4 317.3 L712.4 317.6 L714.4 317.9 L716.3 318.2 L718.3 318.5 L720.3 318.8 L722.3 319.0 L724.3 319.3 L726.3 319.6 L728.3 319.8 L730.3 320.1 L732.2 320.4 L734.2 320.7 L736.2 321.0 L738.2 321.3 L740.1 321.7 L742.1 322.1 L744.1 322.6 L746.0 323.0 L748.0 323.4 L750.0 323.7 L752.0 324.0 L753.9 324.3 L755.9 324.5 L757.9 324.8 L759.9 324.9 L761.9 325.1 L763.9 325.3 L765.9 325.4 L767.9 325.6 L769.9 325.8 L771.9 325.9 L773.9 326.1 L775.9 326.3 M530.0 197.5 L530.6 199.5 L531.1 201.4 L531.6 203.3 L532.2 205.2 L532.7 207.2 L533.2 209.1 L533.7 211.0 L534.3 213.0 L534.8 214.9 L535.4 216.8 L536.1 218.7 L536.8 220.5 L537.6 222.4 L538.4 224.2 L539.2 226.0 L540.1 227.8 L541.1 229.6 L542.0 231.3 L543.0 233.1 L544.0 234.8 L545.1 236.5 L546.2 238.2 L547.3 239.8 L548.4 241.5 L549.6 243.1 L550.9 244.6 L552.2 246.2 L553.5 247.7 L554.9 249.1 L556.3 250.5 L557.8 251.8 L559.3 253.1 L560.9 254.3 L562.6 255.5 L564.2 256.5 L566.0 257.5 L567.7 258.5 L569.5 259.3 L571.4 260.1 L573.2 260.8 L575.1 261.5 L577.0 262.1 L579.0 262.5 L580.9 263.0 L582.9 263.3 L584.9 263.6 L586.9 263.8 L588.9 264.0 L590.8 264.2 L592.8 264.3 L594.8 264.3 L596.8 264.4 L598.8 264.4 L600.8 264.5 L602.8 264.4 L604.8 264.4 L606.8 264.4 L608.8 264.3 L610.8 264.3 L612.8 264.3 L614.8 264.2 L616.8 264.2 L618.8 264.2 L620.8 264.3 L622.8 264.3 L624.8 264.3 L626.8 264.4 L628.8 264.5 L630.8 264.5 L632.8 264.6 L634.8 264.7 L636.8 264.9 L638.8 265.0 L640.8 265.1 L642.8 265.3 L644.8 265.5 L646.8 265.7 L648.8 265.9 L650.8 266.1 L652.8 266.4 L654.7 266.6 L656.7 266.9 L658.7 267.2 L660.7 267.5 L662.7 267.8 L664.6 268.1 L666.6 268.4 L668.6 268.8 L670.5 269.1 L672.5 269.5 L674.5 269.8 L676.4 270.2 L678.4 270.6 L680.4 271.0 L682.3 271.4 L684.3 271.8 L686.3 272.2 L688.2 272.6 L690.2 273.0 L692.1 273.4 L694.1 273.8 L696.1 274.2 L698.0 274.5 L700.0 274.9 L701.9 275.3 L703.9 275.7 L705.9 276.1 L707.8 276.5 L709.8 276.9 L711.7 277.3 L713.7 277.7 L715.7 278.1 L717.6 278.5 L719.6 278.9 L721.5 279.3 L723.5 279.7 L725.5 280.1 L727.4 280.5 L729.4 280.8 L731.4 281.2 L733.3 281.6 L735.3 281.9 L737.3 282.3 L739.2 282.6 L741.2 282.9 L743.2 283.2 L745.2 283.6 L747.1 283.9 L749.1 284.2 L751.1 284.5 L753.1 284.8 L755.1 285.1 L757.0 285.4 L759.0 285.6 L761.0 285.9 L763.0 286.2 L765.0 286.4 L767.0 286.6 L768.9 286.8 L770.9 287.0 L772.9 287.2 L774.9 287.4 L775.9 287.5 M568.1 197.5 L568.3 199.5 L568.4 201.5 L568.6 203.5 L568.8 205.5 L569.1 207.5 L569.5 209.4 L570.2 211.3 L571.5 212.7 L573.3 213.5 L575.2 213.6 L577.2 213.5 L579.2 213.3 L581.2 213.0 L583.2 212.6 L585.1 212.1 L587.0 211.6 L589.0 211.1 L590.9 210.6 L592.9 210.1 L594.8 209.7 L596.8 209.4 L598.7 209.0 L600.7 208.7 L602.7 208.4 L604.7 208.1 L606.7 207.9 L608.7 207.6 L610.6 207.4 L612.6 207.3 L614.6 207.2 L616.6 207.0 L618.6 207.0 L620.6 206.9 L622.6 206.9 L624.6 206.8 L626.6 206.9 L628.6 206.9 L630.6 207.0 L632.6 207.1 L634.6 207.3 L636.6 207.5 L638.6 207.7 L640.6 207.9 L642.6 208.2 L644.6 208.4 L646.5 208.7 L648.5 208.9 L650.5 209.2 L652.5 209.5 L654.4 209.9 L656.4 210.3 L658.4 210.7 L660.3 211.1 L662.2 211.6 L664.2 212.1 L666.1 212.7 L668.0 213.2 L670.0 213.7 L671.9 214.3 L673.8 214.8 L675.7 215.4 L677.6 216.0 L679.5 216.6 L681.5 217.2 L683.4 217.8 L685.2 218.5 L687.1 219.1 L689.0 219.8 L690.9 220.5 L692.8 221.2 L694.7 221.9 L696.5 222.6 L698.4 223.3 L700.2 224.1 L702.1 224.8 L703.9 225.6 L705.8 226.4 L707.6 227.1 L709.5 227.9 L711.3 228.6 L713.2 229.4 L715.1 230.1 L716.9 230.8 L718.8 231.5 L720.7 232.2 L722.5 232.9 L724.4 233.6 L726.3 234.3 L728.2 234.9 L730.1 235.5 L732.0 236.2 L733.9 236.8 L735.8 237.4 L737.7 237.9 L739.7 238.5 L741.6 239.1 L743.5 239.6 L745.4 240.1 L747.4 240.6 L749.3 241.1 L751.3 241.6 L753.2 242.1 L755.1 242.5 L757.1 243.0 L759.1 243.4 L761.0 243.8 L763.0 244.2 L765.0 244.5 L766.9 244.8 L768.9 244.9 L770.9 245.1 L772.9 245.2 L774.9 245.3 L775.9 245.3 M765.8 197.5 L767.6 198.6 L769.4 199.7 L771.2 200.6 L773.0 201.4 L775.0 202.2 L775.9 202.6" fill="none" stroke="#101010" stroke-width="1.1" stroke-linejoin="round"/>
</g>
<g font-size="39.0" text-anchor="middle" fill="#000">
<text transform="translate(474.4 374.3) rotate(43.0)" y="12.5">0.024</text>
<text transform="translate(569.0 358.3) rotate(27.5)" y="12.5">0.02</text>
<text transform="translate(477.4 492.4) rotate(18.0)" y="12.5">0.028</text>
<text transform="translate(525.5 663.5) rotate(70.3)" y="12.5">0.03</text>
</g>
<rect x="161.30" y="110.00" width="813.60" height="813.30" fill="none" stroke="#444444" stroke-width="1.15"/>
<g stroke="#1a1a1a" fill="none">
<path d="M161.30 110.00V923.30H974.90" stroke-width="1.2" stroke-linecap="square"/>
<path d="M215.54 923.30V909.50M269.78 923.30V909.50M324.02 923.30V909.50M378.26 923.30V909.50M432.50 923.30V902.80M486.74 923.30V909.50M540.98 923.30V909.50M595.22 923.30V909.50M649.46 923.30V909.50M703.70 923.30V902.80M757.94 923.30V909.50M812.18 923.30V909.50M866.42 923.30V909.50M920.66 923.30V909.50M974.90 923.30V902.80M161.30 841.97H175.10M161.30 760.64H175.10M161.30 679.31H175.10M161.30 597.98H175.10M161.30 516.65H181.80M161.30 435.32H175.10M161.30 353.99H175.10M161.30 272.66H175.10M161.30 191.33H175.10M161.30 110.00H181.80" stroke-width="1.05"/>
</g>
<g font-size="40.2" fill="#000">
<text transform="translate(160.5 976.3) scale(0.952 1)" text-anchor="middle">29.7</text>
<text transform="translate(431.7 976.3) scale(0.952 1)" text-anchor="middle">29.8</text>
<text transform="translate(702.9 976.3) scale(0.952 1)" text-anchor="middle">29.9</text>
<text transform="translate(974.1 976.3) scale(0.952 1)" text-anchor="middle">30</text>
<text transform="translate(144.8 936.8) scale(0.952 1)" text-anchor="end">59.8</text>
<text transform="translate(144.8 530.1) scale(0.952 1)" text-anchor="end">59.9</text>
<text transform="translate(144.8 123.5) scale(0.952 1)" text-anchor="end">60.0</text>
<text x="560.6" y="1037.0" text-anchor="middle" font-size="37.0">Long (deg)</text>
<text transform="translate(42.5 516.2) rotate(-90)" text-anchor="middle" font-size="38.5">Lat (deg)</text>
</g>
<text x="537.0" y="58.0" font-size="53.5" text-anchor="middle">(a)</text>
<rect x="825.10" y="839.40" width="47.60" height="45.10" fill="#0000ff"/>
<rect x="825.10" y="794.60" width="47.60" height="45.10" fill="#0d15ff"/>
<rect x="825.10" y="749.80" width="47.60" height="45.10" fill="#1a29ff"/>
<rect x="825.10" y="705.00" width="47.60" height="45.10" fill="#263eff"/>
<rect x="825.10" y="660.20" width="47.60" height="45.10" fill="#3353ff"/>
<rect x="825.10" y="615.40" width="47.60" height="45.10" fill="#4067ff"/>
<rect x="825.10" y="570.60" width="47.60" height="45.10" fill="#4c7cff"/>
<rect x="825.10" y="525.80" width="47.60" height="45.10" fill="#5991ff"/>
<rect x="825.10" y="481.00" width="47.60" height="45.10" fill="#66a5ff"/>
<rect x="825.10" y="436.20" width="47.60" height="45.10" fill="#73baff"/>
<rect x="825.10" y="391.40" width="47.60" height="45.10" fill="#80cfff"/>
<rect x="825.10" y="346.60" width="47.60" height="45.10" fill="#8be5ff"/>
<rect x="825.10" y="301.80" width="47.60" height="45.10" fill="#99f8ff"/>
<rect x="825.10" y="257.00" width="47.60" height="45.10" fill="#cafdd0"/>
<rect x="825.10" y="212.20" width="47.60" height="45.10" fill="#95fe93"/>
<rect x="825.10" y="167.40" width="47.60" height="45.10" fill="#57ff57"/>
<rect x="825.10" y="122.60" width="47.60" height="45.10" fill="#1ff91f"/>
<g stroke="#101010" stroke-width="1.15" fill="none">
<rect x="825.10" y="122.60" width="47.60" height="761.60"/>
<path d="M825.10 167.40H872.70M825.10 212.20H872.70M825.10 257.00H872.70M825.10 301.80H872.70M825.10 346.60H872.70M825.10 391.40H872.70M825.10 436.20H872.70M825.10 481.00H872.70M825.10 525.80H872.70M825.10 570.60H872.70M825.10 615.40H872.70M825.10 660.20H872.70M825.10 705.00H872.70M825.10 749.80H872.70M825.10 794.60H872.70M825.10 839.40H872.70"/></g>
<g font-size="26.2" fill="#000">
<text x="878.9" y="893.6">0.000</text>
<text x="878.9" y="804.0">0.004</text>
<text x="878.9" y="714.4">0.008</text>
<text x="878.9" y="624.8">0.012</text>
<text x="878.9" y="535.2">0.016</text>
<text x="878.9" y="445.6">0.020</text>
<text x="878.9" y="356.0">0.024</text>
<text x="878.9" y="266.4">0.028</text>
<text x="878.9" y="176.8">0.032</text>
</g>
<clipPath id="clip1"><rect x="1334.3" y="198.4" width="494.7" height="684.3"/></clipPath>
<g clip-path="url(#clip1)">
<rect x="1333.3" y="197.4" width="496.7" height="686.3" fill="#cafdd0"/>
<path d="M1334.3 570.2 L1336.2 570.8 L1338.1 571.4 L1340.0 572.0 L1342.0 572.6 L1343.9 573.2 L1345.8 573.8 L1347.7 574.4 L1349.6 575.0 L1351.5 575.5 L1353.5 576.0 L1355.4 576.5 L1357.4 577.0 L1359.3 577.4 L1361.3 577.8 L1363.2 578.2 L1365.2 578.6 L1367.2 579.0 L1369.2 579.3 L1371.1 579.6 L1373.1 580.0 L1375.1 580.2 L1377.1 580.5 L1379.1 580.8 L1381.1 581.0 L1383.0 581.2 L1385.0 581.4 L1387.0 581.6 L1389.0 581.8 L1391.0 581.9 L1393.0 582.1 L1395.0 582.3 L1397.0 582.4 L1399.0 582.5 L1401.0 582.7 L1403.0 582.8 L1405.0 582.9 L1407.0 583.0 L1409.0 583.1 L1411.0 583.2 L1413.0 583.3 L1415.0 583.4 L1417.0 583.4 L1419.0 583.5 L1421.0 583.5 L1423.0 583.5 L1425.0 583.5 L1427.0 583.5 L1429.0 583.4 L1431.0 583.3 L1433.0 583.3 L1435.0 583.2 L1437.0 583.0 L1439.0 582.9 L1441.0 582.7 L1443.0 582.5 L1445.0 582.3 L1447.0 582.1 L1449.0 581.9 L1451.0 581.6 L1453.0 581.3 L1454.9 580.9 L1456.9 580.6 L1458.9 580.2 L1460.8 579.8 L1462.8 579.4 L1464.7 578.9 L1466.7 578.4 L1468.6 577.9 L1470.6 577.4 L1472.5 576.8 L1474.4 576.2 L1476.3 575.6 L1478.2 575.0 L1480.1 574.3 L1482.0 573.7 L1483.9 573.0 L1485.8 572.3 L1487.6 571.6 L1489.5 570.9 L1491.4 570.2 L1493.2 569.5 L1495.1 568.7 L1496.9 567.9 L1498.8 567.1 L1500.6 566.2 L1502.4 565.4 L1504.2 564.4 L1505.9 563.5 L1507.7 562.5 L1509.4 561.6 L1511.2 560.6 L1512.9 559.6 L1514.7 558.6 L1516.4 557.7 L1518.2 556.7 L1520.0 555.8 L1521.7 554.8 L1523.5 553.8 L1525.2 552.8 L1526.9 551.8 L1528.6 550.7 L1530.2 549.5 L1531.7 548.2 L1533.3 546.9 L1534.8 545.7 L1536.5 544.5 L1538.1 543.4 L1539.8 542.4 L1541.6 541.4 L1543.3 540.4 L1545.1 539.4 L1546.8 538.4 L1548.6 537.5 L1550.3 536.5 L1552.0 535.5 L1553.8 534.4 L1555.5 533.4 L1557.2 532.4 L1559.0 531.4 L1560.7 530.5 L1562.5 529.6 L1564.4 528.8 L1566.2 528.0 L1568.1 527.3 L1570.0 526.7 L1571.9 526.2 L1573.8 525.7 L1575.8 525.4 L1577.8 525.3 L1579.8 525.4 L1581.8 525.6 L1583.7 526.0 L1585.6 526.5 L1587.5 527.2 L1589.4 527.9 L1591.2 528.7 L1593.0 529.6 L1594.8 530.6 L1596.5 531.5 L1598.3 532.4 L1600.1 533.4 L1601.9 534.3 L1603.6 535.2 L1605.4 536.2 L1607.2 537.1 L1609.0 538.0 L1610.8 538.9 L1612.6 539.7 L1614.4 540.5 L1616.3 541.3 L1618.1 542.0 L1620.0 542.7 L1621.9 543.4 L1623.8 544.0 L1625.7 544.6 L1627.6 545.2 L1629.6 545.7 L1631.5 546.1 L1633.5 546.5 L1635.4 546.9 L1637.4 547.3 L1639.4 547.6 L1641.4 547.8 L1643.4 548.0 L1645.4 548.2 L1647.4 548.2 L1649.4 548.3 L1651.4 548.2 L1653.4 548.1 L1655.4 548.0 L1657.4 547.8 L1659.3 547.5 L1661.3 547.2 L1663.3 546.9 L1665.3 546.5 L1667.2 546.0 L1669.1 545.5 L1671.1 545.0 L1673.0 544.4 L1674.9 543.8 L1676.8 543.1 L1678.7 542.4 L1680.5 541.7 L1682.4 540.9 L1684.2 540.1 L1686.0 539.2 L1687.8 538.3 L1689.5 537.3 L1691.3 536.4 L1693.0 535.3 L1694.7 534.3 L1696.4 533.2 L1698.1 532.2 L1699.8 531.1 L1701.4 529.9 L1703.1 528.8 L1704.7 527.6 L1706.3 526.4 L1707.8 525.1 L1709.4 523.9 L1711.0 522.6 L1712.5 521.4 L1714.1 520.1 L1715.6 518.8 L1717.2 517.5 L1718.7 516.2 L1720.2 515.0 L1721.8 513.7 L1723.3 512.4 L1724.8 511.0 L1726.3 509.7 L1727.8 508.4 L1729.3 507.1 L1730.8 505.8 L1732.4 504.5 L1733.9 503.2 L1735.4 501.9 L1737.0 500.6 L1738.5 499.3 L1740.0 498.0 L1741.6 496.8 L1743.1 495.5 L1744.7 494.2 L1746.2 493.0 L1747.8 491.7 L1749.4 490.6 L1751.1 489.4 L1752.7 488.3 L1754.4 487.2 L1756.1 486.2 L1757.9 485.2 L1759.6 484.2 L1761.4 483.3 L1763.2 482.4 L1765.0 481.5 L1766.8 480.7 L1768.7 480.0 L1770.5 479.3 L1772.4 478.6 L1774.4 478.0 L1776.3 477.5 L1778.2 477.1 L1780.2 476.7 L1782.2 476.4 L1784.2 476.3 L1786.2 476.2 L1788.2 476.3 L1790.2 476.4 L1792.1 476.7 L1794.1 477.1 L1796.0 477.7 L1797.9 478.3 L1799.8 479.0 L1801.6 479.8 L1803.4 480.7 L1805.2 481.6 L1806.9 482.7 L1808.6 483.8 L1810.2 484.9 L1811.8 486.1 L1813.4 487.3 L1815.0 488.6 L1816.5 489.9 L1817.9 491.2 L1819.4 492.6 L1820.9 494.0 L1822.3 495.4 L1823.7 496.8 L1825.1 498.2 L1826.6 499.6 L1828.0 501.0 L1828.7 501.8 L1835.0 501.8 L1835.0 192.4 L1328.3 192.4 L1328.3 570.2Z" fill="#99f8ff"/>
<path d="M1334.3 375.3 L1336.2 376.0 L1338.1 376.7 L1339.9 377.5 L1341.8 378.2 L1343.6 379.0 L1345.4 379.9 L1347.2 380.9 L1348.9 381.8 L1350.6 382.9 L1352.4 383.9 L1354.0 385.0 L1355.7 386.1 L1357.4 387.2 L1359.0 388.3 L1360.7 389.5 L1362.3 390.7 L1363.9 391.9 L1365.5 393.1 L1367.0 394.4 L1368.6 395.6 L1370.2 396.9 L1371.7 398.1 L1373.3 399.4 L1374.8 400.7 L1376.3 402.0 L1377.9 403.3 L1379.4 404.6 L1380.9 405.9 L1382.4 407.3 L1383.8 408.6 L1385.3 410.0 L1386.8 411.4 L1388.2 412.7 L1389.7 414.1 L1391.1 415.5 L1392.5 416.9 L1394.0 418.3 L1395.4 419.7 L1396.9 421.1 L1398.3 422.4 L1399.8 423.8 L1401.2 425.2 L1402.7 426.6 L1404.2 428.0 L1405.6 429.3 L1407.1 430.7 L1408.5 432.1 L1410.0 433.5 L1411.4 434.8 L1412.9 436.2 L1414.4 437.6 L1415.8 438.9 L1417.3 440.3 L1418.7 441.7 L1420.1 443.1 L1421.6 444.5 L1423.1 445.8 L1424.8 447.0 L1426.4 448.1 L1428.1 449.1 L1429.8 450.1 L1431.6 451.1 L1433.3 452.1 L1435.1 453.1 L1436.9 454.0 L1438.6 454.9 L1440.4 455.9 L1442.2 456.8 L1444.0 457.7 L1445.7 458.7 L1447.5 459.6 L1449.3 460.5 L1451.1 461.5 L1452.8 462.4 L1454.6 463.3 L1456.4 464.3 L1458.1 465.2 L1459.9 466.1 L1461.7 467.0 L1463.5 467.9 L1465.3 468.8 L1467.1 469.7 L1468.9 470.6 L1470.7 471.4 L1472.6 472.2 L1474.4 473.0 L1476.2 473.8 L1478.1 474.5 L1479.9 475.3 L1481.8 476.0 L1483.7 476.7 L1485.6 477.4 L1487.5 478.1 L1489.4 478.7 L1491.3 479.4 L1493.2 480.0 L1495.1 480.5 L1497.0 481.1 L1499.0 481.6 L1500.9 482.1 L1502.9 482.5 L1504.8 482.9 L1506.8 483.4 L1508.7 483.8 L1510.7 484.1 L1512.7 484.5 L1514.6 484.8 L1516.6 485.2 L1518.6 485.5 L1520.6 485.8 L1522.6 486.0 L1524.6 486.3 L1526.5 486.5 L1528.5 486.8 L1530.5 486.9 L1532.5 487.1 L1534.5 487.2 L1536.5 487.2 L1538.5 487.2 L1540.5 487.1 L1542.5 486.9 L1544.5 486.8 L1546.5 486.7 L1548.5 486.7 L1550.5 486.7 L1552.5 486.8 L1554.5 486.9 L1556.5 487.1 L1558.5 487.2 L1560.5 487.4 L1562.5 487.6 L1564.5 487.8 L1566.5 488.1 L1568.5 488.3 L1570.5 488.6 L1572.5 488.8 L1574.4 489.1 L1576.4 489.4 L1578.4 489.7 L1580.4 490.1 L1582.4 490.4 L1584.3 490.8 L1586.3 491.1 L1588.3 491.5 L1590.2 491.8 L1592.2 492.2 L1594.2 492.5 L1596.2 492.9 L1598.1 493.3 L1600.1 493.7 L1602.1 494.1 L1604.0 494.5 L1606.0 494.8 L1608.0 495.2 L1609.9 495.5 L1611.9 495.8 L1613.9 496.1 L1615.9 496.4 L1617.9 496.7 L1619.9 496.9 L1621.8 497.2 L1623.8 497.4 L1625.8 497.6 L1627.8 497.8 L1629.8 498.0 L1631.8 498.1 L1633.8 498.3 L1635.8 498.4 L1637.8 498.5 L1639.8 498.6 L1641.8 498.6 L1643.8 498.6 L1645.8 498.6 L1647.8 498.6 L1649.8 498.5 L1651.8 498.3 L1653.8 498.2 L1655.8 497.9 L1657.8 497.7 L1659.8 497.4 L1661.8 497.1 L1663.7 496.8 L1665.7 496.4 L1667.7 496.0 L1669.6 495.6 L1671.6 495.1 L1673.5 494.6 L1675.5 494.1 L1677.4 493.5 L1679.3 493.0 L1681.2 492.4 L1683.1 491.7 L1685.0 491.1 L1686.9 490.4 L1688.8 489.7 L1690.7 489.0 L1692.5 488.3 L1694.4 487.6 L1696.2 486.8 L1698.1 486.0 L1699.9 485.2 L1701.7 484.4 L1703.6 483.6 L1705.4 482.7 L1707.2 481.9 L1709.0 481.0 L1710.8 480.2 L1712.6 479.3 L1714.4 478.4 L1716.2 477.5 L1718.0 476.6 L1719.8 475.7 L1721.6 474.8 L1723.4 473.9 L1725.1 473.0 L1726.9 472.1 L1728.7 471.2 L1730.5 470.3 L1732.4 469.5 L1734.2 468.6 L1736.0 467.8 L1737.8 466.9 L1739.6 466.1 L1741.5 465.3 L1743.3 464.5 L1745.2 463.7 L1747.0 463.0 L1748.9 462.2 L1750.7 461.5 L1752.6 460.8 L1754.5 460.1 L1756.4 459.5 L1758.3 458.8 L1760.2 458.2 L1762.1 457.6 L1764.0 457.0 L1765.9 456.5 L1767.9 456.0 L1769.8 455.5 L1771.8 455.0 L1773.7 454.6 L1775.7 454.2 L1777.7 453.8 L1779.6 453.5 L1781.6 453.2 L1783.6 453.0 L1785.6 452.9 L1787.6 452.8 L1789.6 452.8 L1791.6 452.9 L1793.6 453.0 L1795.6 453.2 L1797.6 453.5 L1799.6 453.8 L1801.5 454.2 L1803.5 454.6 L1805.4 455.1 L1807.3 455.7 L1809.3 456.3 L1811.1 456.9 L1813.0 457.7 L1814.8 458.5 L1816.7 459.3 L1818.4 460.2 L1820.2 461.2 L1821.9 462.2 L1823.6 463.3 L1825.3 464.3 L1827.0 465.4 L1828.7 466.5 L1835.0 466.5 L1835.0 192.4 L1328.3 192.4 L1328.3 375.3Z" fill="#8be5ff"/>
<path d="M1334.3 251.9 L1336.3 252.2 L1338.3 252.5 L1340.2 252.8 L1342.2 253.2 L1344.2 253.5 L1346.2 253.8 L1348.1 254.1 L1350.1 254.4 L1352.1 254.7 L1354.1 255.0 L1356.0 255.4 L1358.0 255.7 L1360.0 256.0 L1362.0 256.3 L1363.9 256.7 L1365.9 257.0 L1367.9 257.4 L1369.9 257.7 L1371.8 258.0 L1373.8 258.4 L1375.8 258.7 L1377.7 259.1 L1379.7 259.4 L1381.7 259.8 L1383.7 260.1 L1385.6 260.5 L1387.6 260.8 L1389.6 261.2 L1391.5 261.5 L1393.5 262.0 L1395.4 262.5 L1397.3 263.2 L1399.0 264.1 L1400.7 265.3 L1402.0 266.7 L1403.1 268.3 L1404.0 270.1 L1404.7 272.0 L1405.2 273.9 L1405.8 275.9 L1406.3 277.8 L1406.9 279.7 L1407.5 281.6 L1408.0 283.5 L1408.6 285.5 L1409.1 287.4 L1409.7 289.3 L1410.3 291.2 L1410.8 293.1 L1411.4 295.1 L1412.0 297.0 L1412.6 298.9 L1413.2 300.8 L1413.8 302.7 L1414.4 304.6 L1415.0 306.5 L1415.6 308.4 L1416.2 310.3 L1416.8 312.3 L1417.3 314.2 L1417.9 316.1 L1418.4 318.0 L1419.0 319.9 L1419.6 321.9 L1420.1 323.8 L1420.8 325.7 L1421.4 327.6 L1422.1 329.5 L1422.8 331.3 L1423.5 333.2 L1424.2 335.1 L1425.0 336.9 L1425.8 338.8 L1426.6 340.6 L1427.5 342.4 L1428.4 344.2 L1429.3 346.0 L1430.2 347.7 L1431.1 349.5 L1432.1 351.3 L1433.0 353.1 L1433.9 354.8 L1434.9 356.6 L1435.8 358.4 L1436.8 360.1 L1437.7 361.9 L1438.7 363.6 L1439.7 365.3 L1440.7 367.1 L1441.8 368.8 L1442.8 370.5 L1443.8 372.2 L1444.8 373.9 L1445.9 375.6 L1447.0 377.3 L1448.1 379.0 L1449.2 380.6 L1450.4 382.2 L1451.6 383.8 L1452.8 385.4 L1454.0 387.0 L1455.3 388.6 L1456.5 390.1 L1457.9 391.6 L1459.2 393.1 L1460.6 394.6 L1462.0 396.0 L1463.4 397.4 L1464.8 398.8 L1466.2 400.2 L1467.7 401.7 L1469.1 403.1 L1470.5 404.5 L1472.0 405.8 L1473.4 407.2 L1474.9 408.6 L1476.3 409.9 L1477.8 411.3 L1479.4 412.6 L1480.9 413.8 L1482.5 415.0 L1484.1 416.2 L1485.8 417.4 L1487.4 418.5 L1489.1 419.6 L1490.7 420.7 L1492.4 421.8 L1494.1 423.0 L1495.7 424.1 L1497.4 425.2 L1499.0 426.3 L1500.7 427.4 L1502.4 428.5 L1504.1 429.5 L1505.8 430.6 L1507.6 431.6 L1509.3 432.5 L1511.1 433.4 L1512.9 434.3 L1514.7 435.2 L1516.5 436.1 L1518.3 436.9 L1520.1 437.7 L1522.0 438.5 L1523.8 439.3 L1525.7 440.1 L1527.5 440.8 L1529.4 441.5 L1531.3 442.2 L1533.1 442.9 L1535.0 443.6 L1536.9 444.2 L1538.8 444.8 L1540.7 445.4 L1542.6 446.0 L1544.6 446.6 L1546.5 447.1 L1548.4 447.7 L1550.4 448.2 L1552.3 448.7 L1554.2 449.1 L1556.2 449.6 L1558.1 450.1 L1560.1 450.5 L1562.0 451.0 L1564.0 451.4 L1565.9 451.8 L1567.9 452.2 L1569.9 452.7 L1571.8 453.1 L1573.8 453.5 L1575.7 453.9 L1577.7 454.3 L1579.7 454.7 L1581.6 455.1 L1583.6 455.5 L1585.5 455.9 L1587.5 456.4 L1589.4 457.0 L1591.3 457.5 L1593.2 458.1 L1595.2 458.6 L1597.1 459.0 L1599.1 459.4 L1601.1 459.8 L1603.0 460.1 L1605.0 460.4 L1607.0 460.6 L1609.0 460.8 L1611.0 461.0 L1613.0 461.2 L1615.0 461.4 L1617.0 461.6 L1619.0 461.7 L1621.0 461.9 L1622.9 462.1 L1624.9 462.2 L1626.9 462.3 L1628.9 462.4 L1630.9 462.5 L1632.9 462.6 L1634.9 462.7 L1636.9 462.7 L1638.9 462.7 L1640.9 462.7 L1642.9 462.6 L1644.9 462.6 L1646.9 462.5 L1648.9 462.4 L1650.9 462.3 L1652.9 462.1 L1654.9 462.0 L1656.9 461.8 L1658.9 461.6 L1660.9 461.3 L1662.9 461.1 L1664.9 460.8 L1666.8 460.5 L1668.8 460.2 L1670.8 459.9 L1672.8 459.6 L1674.7 459.2 L1676.7 458.8 L1678.7 458.5 L1680.6 458.1 L1682.6 457.7 L1684.6 457.3 L1686.5 456.9 L1688.5 456.4 L1690.4 456.0 L1692.4 455.5 L1694.3 455.0 L1696.2 454.4 L1698.1 453.8 L1700.0 453.1 L1701.9 452.4 L1703.7 451.7 L1705.6 451.0 L1707.4 450.2 L1709.3 449.4 L1711.1 448.6 L1713.0 447.8 L1714.8 447.0 L1716.7 446.3 L1718.5 445.5 L1720.4 444.8 L1722.2 444.0 L1724.1 443.3 L1726.0 442.6 L1727.8 441.9 L1729.7 441.2 L1731.6 440.5 L1733.5 439.9 L1735.4 439.2 L1737.3 438.6 L1739.2 438.0 L1741.1 437.4 L1743.0 436.8 L1744.9 436.2 L1746.8 435.7 L1748.8 435.1 L1750.7 434.6 L1752.6 434.1 L1754.6 433.7 L1756.5 433.2 L1758.5 432.8 L1760.5 432.4 L1762.4 432.1 L1764.4 431.7 L1766.4 431.4 L1768.4 431.1 L1770.3 430.8 L1772.3 430.6 L1774.3 430.4 L1776.3 430.2 L1778.3 430.0 L1780.3 429.9 L1782.3 429.8 L1784.3 429.7 L1786.3 429.7 L1788.3 429.7 L1790.3 429.8 L1792.3 429.9 L1794.3 430.0 L1796.3 430.2 L1798.3 430.4 L1800.3 430.7 L1802.2 431.0 L1804.2 431.4 L1806.2 431.8 L1808.1 432.2 L1810.1 432.7 L1812.0 433.2 L1813.9 433.8 L1815.8 434.4 L1817.7 435.0 L1819.6 435.7 L1821.5 436.4 L1823.3 437.1 L1825.2 437.9 L1827.0 438.6 L1828.9 439.3 L1835.0 439.3 L1835.0 192.4 L1328.3 192.4 L1328.3 251.9Z" fill="#80cfff"/>
<path d="M1379.0 198.6 L1380.6 199.7 L1382.3 200.8 L1383.9 202.0 L1385.6 203.1 L1387.2 204.3 L1388.9 205.4 L1390.5 206.5 L1392.2 207.6 L1393.8 208.8 L1395.5 209.9 L1397.1 211.1 L1398.7 212.2 L1400.3 213.4 L1401.9 214.7 L1403.5 215.9 L1405.0 217.2 L1406.6 218.5 L1408.1 219.8 L1409.6 221.1 L1411.0 222.5 L1412.5 223.9 L1413.9 225.3 L1415.3 226.8 L1416.6 228.2 L1417.9 229.8 L1419.1 231.3 L1420.3 232.9 L1421.5 234.6 L1422.6 236.3 L1423.7 237.9 L1424.7 239.6 L1425.8 241.4 L1426.8 243.1 L1427.7 244.9 L1428.6 246.6 L1429.5 248.4 L1430.3 250.3 L1431.1 252.1 L1431.9 253.9 L1432.7 255.8 L1433.4 257.6 L1434.2 259.5 L1434.9 261.4 L1435.6 263.2 L1436.4 265.1 L1437.1 267.0 L1437.8 268.9 L1438.5 270.7 L1439.2 272.6 L1439.9 274.5 L1440.6 276.4 L1441.3 278.2 L1442.0 280.1 L1442.7 282.0 L1443.5 283.8 L1444.2 285.7 L1444.9 287.6 L1445.6 289.5 L1446.3 291.3 L1446.9 293.2 L1447.6 295.1 L1448.3 297.0 L1449.1 298.9 L1449.8 300.7 L1450.5 302.6 L1451.3 304.4 L1452.0 306.3 L1452.8 308.2 L1453.5 310.0 L1454.2 311.9 L1454.9 313.8 L1455.6 315.7 L1456.2 317.6 L1456.9 319.4 L1457.7 321.3 L1458.5 323.1 L1459.4 324.9 L1460.4 326.7 L1461.4 328.4 L1462.5 330.1 L1463.6 331.7 L1464.7 333.4 L1465.8 335.1 L1466.9 336.7 L1468.0 338.4 L1469.1 340.1 L1470.2 341.8 L1471.3 343.5 L1472.3 345.1 L1473.4 346.8 L1474.6 348.5 L1475.7 350.1 L1476.9 351.7 L1478.1 353.3 L1479.3 354.9 L1480.6 356.5 L1481.9 358.0 L1483.2 359.5 L1484.5 361.1 L1485.8 362.6 L1487.1 364.0 L1488.5 365.5 L1489.8 367.0 L1491.2 368.5 L1492.5 370.0 L1493.9 371.4 L1495.3 372.9 L1496.6 374.3 L1498.0 375.8 L1499.5 377.2 L1500.9 378.6 L1502.3 380.0 L1503.8 381.4 L1505.3 382.7 L1506.8 384.1 L1508.3 385.4 L1509.8 386.7 L1511.3 388.0 L1512.8 389.3 L1514.3 390.6 L1515.9 391.9 L1517.4 393.2 L1519.0 394.4 L1520.5 395.7 L1522.1 396.9 L1523.7 398.1 L1525.3 399.3 L1527.0 400.5 L1528.6 401.6 L1530.3 402.7 L1532.0 403.8 L1533.7 404.9 L1535.4 405.9 L1537.1 406.9 L1538.8 407.9 L1540.6 408.9 L1542.3 409.9 L1544.1 410.8 L1545.9 411.7 L1547.7 412.6 L1549.5 413.5 L1551.3 414.4 L1553.1 415.2 L1554.9 416.0 L1556.8 416.8 L1558.6 417.6 L1560.5 418.3 L1562.4 419.0 L1564.2 419.7 L1566.1 420.4 L1568.0 421.0 L1569.9 421.6 L1571.9 422.1 L1573.8 422.7 L1575.7 423.2 L1577.7 423.7 L1579.6 424.2 L1581.6 424.6 L1583.5 425.1 L1585.5 425.5 L1587.4 426.0 L1589.4 426.4 L1591.3 426.8 L1593.3 427.3 L1595.2 427.7 L1597.2 428.1 L1599.2 428.5 L1601.1 429.0 L1603.1 429.3 L1605.1 429.7 L1607.0 430.1 L1609.0 430.4 L1611.0 430.7 L1613.0 430.9 L1615.0 431.1 L1617.0 431.3 L1619.0 431.5 L1621.0 431.6 L1623.0 431.8 L1625.0 431.9 L1627.0 432.0 L1629.0 432.0 L1631.0 432.1 L1633.0 432.1 L1635.0 432.2 L1637.0 432.2 L1639.0 432.2 L1641.0 432.2 L1643.0 432.1 L1645.0 432.1 L1647.0 432.0 L1649.0 432.0 L1651.0 431.9 L1653.0 431.7 L1655.0 431.6 L1657.0 431.4 L1659.0 431.3 L1661.0 431.0 L1663.0 430.8 L1664.9 430.6 L1666.9 430.3 L1668.9 430.0 L1670.9 429.7 L1672.9 429.3 L1674.8 429.0 L1676.8 428.6 L1678.8 428.3 L1680.7 427.9 L1682.7 427.5 L1684.7 427.0 L1686.6 426.6 L1688.6 426.2 L1690.5 425.7 L1692.5 425.3 L1694.4 424.8 L1696.4 424.3 L1698.3 423.8 L1700.2 423.3 L1702.2 422.8 L1704.1 422.3 L1706.1 421.8 L1708.0 421.3 L1709.9 420.8 L1711.9 420.3 L1713.8 419.8 L1715.7 419.3 L1717.7 418.7 L1719.6 418.2 L1721.5 417.7 L1723.5 417.2 L1725.4 416.7 L1727.4 416.2 L1729.3 415.7 L1731.2 415.2 L1733.2 414.7 L1735.1 414.2 L1737.1 413.7 L1739.0 413.2 L1740.9 412.7 L1742.9 412.2 L1744.9 411.8 L1746.8 411.4 L1748.8 411.0 L1750.7 410.6 L1752.7 410.2 L1754.7 409.8 L1756.6 409.4 L1758.6 409.1 L1760.6 408.8 L1762.6 408.4 L1764.5 408.2 L1766.5 407.9 L1768.5 407.7 L1770.5 407.4 L1772.5 407.2 L1774.5 407.1 L1776.5 406.9 L1778.5 406.8 L1780.5 406.7 L1782.5 406.6 L1784.5 406.6 L1786.5 406.6 L1788.5 406.6 L1790.5 406.7 L1792.5 406.8 L1794.5 406.9 L1796.5 407.0 L1798.5 407.2 L1800.5 407.4 L1802.5 407.7 L1804.5 408.0 L1806.4 408.3 L1808.4 408.6 L1810.4 409.0 L1812.3 409.4 L1814.3 409.8 L1816.3 410.2 L1818.2 410.7 L1820.2 411.1 L1822.1 411.6 L1824.0 412.1 L1826.0 412.6 L1827.9 413.1 L1828.9 413.3 L1835.0 413.3 L1835.0 192.4 L1379.0 192.4Z" fill="#73baff"/>
<path d="M1429.3 198.6 L1430.3 200.3 L1431.2 202.1 L1432.2 203.8 L1433.2 205.6 L1434.2 207.3 L1435.1 209.1 L1436.1 210.8 L1437.1 212.6 L1438.1 214.3 L1439.0 216.1 L1440.0 217.8 L1440.9 219.6 L1441.9 221.4 L1442.8 223.1 L1443.7 224.9 L1444.6 226.7 L1445.5 228.5 L1446.3 230.3 L1447.2 232.1 L1448.0 234.0 L1448.8 235.8 L1449.6 237.6 L1450.4 239.5 L1451.3 241.3 L1452.1 243.1 L1453.0 244.9 L1454.0 246.6 L1455.0 248.4 L1456.0 250.1 L1457.1 251.8 L1458.1 253.5 L1459.1 255.3 L1460.0 257.0 L1460.9 258.8 L1461.8 260.6 L1462.6 262.5 L1463.4 264.3 L1464.3 266.1 L1465.2 267.9 L1466.0 269.7 L1466.9 271.5 L1467.8 273.3 L1468.8 275.0 L1469.7 276.8 L1470.7 278.6 L1471.6 280.4 L1472.5 282.1 L1473.5 283.9 L1474.4 285.7 L1475.4 287.4 L1476.3 289.2 L1477.2 291.0 L1478.2 292.7 L1479.1 294.5 L1480.1 296.3 L1481.0 298.0 L1482.0 299.8 L1483.0 301.5 L1483.9 303.3 L1484.9 305.0 L1485.9 306.8 L1486.9 308.5 L1487.9 310.3 L1488.9 312.0 L1489.9 313.7 L1491.0 315.4 L1492.0 317.2 L1493.0 318.9 L1494.0 320.6 L1495.0 322.4 L1496.0 324.1 L1497.0 325.8 L1498.0 327.6 L1499.1 329.2 L1500.2 330.9 L1501.4 332.5 L1502.5 334.2 L1503.8 335.7 L1505.0 337.3 L1506.3 338.9 L1507.6 340.4 L1508.8 341.9 L1510.1 343.5 L1511.4 345.0 L1512.7 346.5 L1514.0 348.0 L1515.4 349.5 L1516.7 351.0 L1518.1 352.5 L1519.4 354.0 L1520.8 355.4 L1522.2 356.9 L1523.6 358.3 L1525.0 359.8 L1526.4 361.2 L1527.9 362.5 L1529.3 363.9 L1530.8 365.2 L1532.4 366.5 L1533.9 367.8 L1535.5 369.0 L1537.1 370.2 L1538.7 371.4 L1540.3 372.6 L1541.9 373.8 L1543.5 375.0 L1545.2 376.2 L1546.8 377.3 L1548.5 378.4 L1550.2 379.5 L1551.9 380.5 L1553.6 381.5 L1555.4 382.5 L1557.1 383.5 L1558.9 384.4 L1560.7 385.3 L1562.5 386.2 L1564.3 387.0 L1566.1 387.8 L1568.0 388.6 L1569.8 389.4 L1571.7 390.2 L1573.5 390.9 L1575.4 391.6 L1577.3 392.2 L1579.2 392.9 L1581.1 393.5 L1583.0 394.1 L1584.9 394.7 L1586.8 395.3 L1588.8 395.9 L1590.7 396.5 L1592.6 397.1 L1594.5 397.6 L1596.4 398.2 L1598.4 398.8 L1600.3 399.3 L1602.2 399.9 L1604.1 400.4 L1606.1 400.9 L1608.0 401.4 L1610.0 401.8 L1611.9 402.2 L1613.9 402.5 L1615.9 402.8 L1617.9 403.1 L1619.9 403.3 L1621.9 403.5 L1623.9 403.7 L1625.9 403.9 L1627.9 404.0 L1629.9 404.2 L1631.9 404.3 L1633.9 404.3 L1635.9 404.4 L1637.9 404.5 L1639.9 404.5 L1641.9 404.5 L1643.9 404.5 L1645.9 404.4 L1647.9 404.3 L1649.9 404.3 L1651.9 404.1 L1653.9 404.0 L1655.9 403.9 L1657.9 403.7 L1659.9 403.5 L1661.9 403.3 L1663.9 403.0 L1665.8 402.8 L1667.8 402.5 L1669.8 402.2 L1671.8 401.8 L1673.8 401.5 L1675.7 401.1 L1677.7 400.8 L1679.7 400.4 L1681.6 400.0 L1683.6 399.6 L1685.5 399.2 L1687.5 398.7 L1689.5 398.3 L1691.4 397.9 L1693.4 397.4 L1695.3 397.0 L1697.3 396.5 L1699.2 396.1 L1701.2 395.6 L1703.1 395.2 L1705.1 394.7 L1707.0 394.2 L1709.0 393.8 L1710.9 393.3 L1712.9 392.8 L1714.8 392.4 L1716.8 391.9 L1718.7 391.4 L1720.7 391.0 L1722.6 390.5 L1724.6 390.1 L1726.5 389.7 L1728.5 389.2 L1730.5 388.8 L1732.4 388.5 L1734.4 388.1 L1736.4 387.7 L1738.3 387.4 L1740.3 387.0 L1742.3 386.7 L1744.3 386.4 L1746.2 386.1 L1748.2 385.8 L1750.2 385.5 L1752.2 385.2 L1754.2 384.9 L1756.2 384.7 L1758.2 384.5 L1760.1 384.2 L1762.1 384.0 L1764.1 383.9 L1766.1 383.7 L1768.1 383.6 L1770.1 383.5 L1772.1 383.4 L1774.1 383.3 L1776.1 383.2 L1778.1 383.2 L1780.1 383.2 L1782.1 383.1 L1784.1 383.1 L1786.2 383.1 L1788.2 383.2 L1790.2 383.2 L1792.2 383.2 L1794.2 383.3 L1796.2 383.4 L1798.2 383.5 L1800.2 383.6 L1802.2 383.7 L1804.2 383.8 L1806.2 384.0 L1808.2 384.2 L1810.2 384.3 L1812.1 384.6 L1814.1 384.8 L1816.1 385.1 L1818.1 385.4 L1820.1 385.8 L1822.0 386.1 L1824.0 386.5 L1826.0 386.9 L1827.9 387.3 L1828.9 387.5 L1835.0 387.5 L1835.0 192.4 L1429.3 192.4Z" fill="#66a5ff"/>
<path d="M1460.1 198.6 L1461.0 200.4 L1461.9 202.1 L1462.8 203.9 L1463.6 205.7 L1464.5 207.6 L1465.4 209.4 L1466.2 211.2 L1467.0 213.0 L1467.9 214.8 L1468.7 216.6 L1469.5 218.5 L1470.3 220.3 L1471.2 222.1 L1472.0 224.0 L1472.8 225.8 L1473.6 227.6 L1474.5 229.4 L1475.3 231.3 L1476.1 233.1 L1477.0 234.9 L1477.8 236.7 L1478.7 238.5 L1479.6 240.3 L1480.5 242.1 L1481.4 243.9 L1482.3 245.7 L1483.2 247.5 L1484.1 249.3 L1485.0 251.0 L1485.9 252.8 L1486.8 254.6 L1487.7 256.4 L1488.6 258.2 L1489.4 260.0 L1490.3 261.8 L1491.2 263.6 L1492.1 265.4 L1493.0 267.2 L1493.9 269.0 L1494.8 270.8 L1495.7 272.6 L1496.6 274.3 L1497.6 276.1 L1498.6 277.8 L1499.5 279.6 L1500.5 281.3 L1501.5 283.1 L1502.5 284.8 L1503.6 286.5 L1504.6 288.2 L1505.6 290.0 L1506.7 291.7 L1507.7 293.4 L1508.8 295.1 L1509.9 296.7 L1511.0 298.4 L1512.2 300.0 L1513.3 301.7 L1514.5 303.3 L1515.8 304.8 L1517.0 306.4 L1518.3 308.0 L1519.6 309.5 L1520.9 311.0 L1522.2 312.5 L1523.6 314.0 L1525.0 315.4 L1526.4 316.8 L1527.8 318.2 L1529.3 319.6 L1530.7 321.0 L1532.1 322.4 L1533.5 323.9 L1534.9 325.3 L1536.2 326.8 L1537.6 328.3 L1539.0 329.7 L1540.4 331.2 L1541.7 332.6 L1543.1 334.1 L1544.5 335.5 L1545.9 336.9 L1547.3 338.4 L1548.7 339.8 L1550.1 341.2 L1551.5 342.7 L1553.0 344.1 L1554.4 345.4 L1555.9 346.8 L1557.4 348.1 L1558.9 349.4 L1560.5 350.7 L1562.1 351.9 L1563.6 353.2 L1565.2 354.4 L1566.8 355.6 L1568.4 356.8 L1570.0 358.0 L1571.6 359.2 L1573.3 360.3 L1575.0 361.3 L1576.7 362.3 L1578.6 363.1 L1580.4 363.9 L1582.3 364.6 L1584.2 365.3 L1586.0 366.0 L1587.9 366.7 L1589.8 367.4 L1591.6 368.1 L1593.5 368.9 L1595.3 369.7 L1597.2 370.5 L1599.0 371.3 L1600.9 372.0 L1602.8 372.7 L1604.7 373.3 L1606.6 373.9 L1608.5 374.5 L1610.4 375.0 L1612.4 375.4 L1614.3 375.9 L1616.3 376.3 L1618.3 376.6 L1620.2 376.9 L1622.2 377.2 L1624.2 377.5 L1626.2 377.7 L1628.2 377.9 L1630.2 378.0 L1632.2 378.2 L1634.2 378.3 L1636.2 378.3 L1638.2 378.4 L1640.2 378.4 L1642.2 378.4 L1644.2 378.4 L1646.2 378.3 L1648.2 378.2 L1650.2 378.1 L1652.2 378.0 L1654.2 377.8 L1656.2 377.6 L1658.2 377.4 L1660.2 377.2 L1662.2 376.9 L1664.2 376.6 L1666.1 376.3 L1668.1 376.0 L1670.1 375.6 L1672.1 375.3 L1674.0 374.9 L1676.0 374.6 L1678.0 374.2 L1679.9 373.8 L1681.9 373.4 L1683.8 373.0 L1685.8 372.6 L1687.8 372.1 L1689.7 371.7 L1691.7 371.3 L1693.6 370.8 L1695.6 370.4 L1697.6 370.0 L1699.5 369.6 L1701.5 369.2 L1703.4 368.8 L1705.4 368.3 L1707.4 367.9 L1709.3 367.5 L1711.3 367.1 L1713.2 366.7 L1715.2 366.4 L1717.2 366.0 L1719.2 365.6 L1721.1 365.3 L1723.1 365.0 L1725.1 364.6 L1727.1 364.3 L1729.0 364.0 L1731.0 363.7 L1733.0 363.4 L1735.0 363.1 L1737.0 362.8 L1738.9 362.6 L1740.9 362.4 L1742.9 362.1 L1744.9 361.9 L1746.9 361.7 L1748.9 361.5 L1750.9 361.3 L1752.9 361.1 L1754.9 360.9 L1756.9 360.8 L1758.9 360.6 L1760.9 360.5 L1762.9 360.3 L1764.9 360.2 L1766.9 360.1 L1768.9 360.0 L1770.9 359.9 L1772.9 359.8 L1774.9 359.7 L1776.9 359.7 L1778.9 359.6 L1780.9 359.6 L1782.9 359.6 L1784.9 359.6 L1786.9 359.6 L1788.9 359.6 L1790.9 359.6 L1792.9 359.6 L1794.9 359.7 L1796.9 359.7 L1798.9 359.8 L1800.9 359.9 L1802.9 359.9 L1804.9 360.0 L1806.9 360.1 L1808.9 360.2 L1810.9 360.3 L1812.9 360.4 L1814.9 360.5 L1816.9 360.7 L1818.9 360.8 L1820.9 360.9 L1822.9 361.1 L1824.9 361.2 L1826.9 361.3 L1828.9 361.5 L1835.0 361.5 L1835.0 192.4 L1460.1 192.4Z" fill="#5991ff"/>
<path d="M1487.2 198.6 L1487.9 200.4 L1488.7 202.2 L1489.5 204.1 L1490.3 205.9 L1491.1 207.8 L1491.9 209.6 L1492.6 211.4 L1493.4 213.3 L1494.1 215.1 L1494.9 217.0 L1495.7 218.8 L1496.5 220.7 L1497.2 222.5 L1498.0 224.4 L1498.8 226.2 L1499.6 228.0 L1500.5 229.8 L1501.3 231.7 L1502.1 233.5 L1503.0 235.3 L1503.8 237.1 L1504.7 238.9 L1505.5 240.7 L1506.3 242.6 L1507.2 244.4 L1508.0 246.2 L1508.9 248.0 L1509.7 249.8 L1510.6 251.6 L1511.4 253.4 L1512.3 255.2 L1513.2 257.0 L1514.1 258.8 L1515.0 260.6 L1515.9 262.4 L1516.9 264.1 L1517.8 265.9 L1518.8 267.6 L1519.8 269.4 L1520.8 271.1 L1521.8 272.8 L1522.8 274.6 L1523.9 276.3 L1524.9 278.0 L1526.0 279.6 L1527.1 281.3 L1528.2 283.0 L1529.3 284.7 L1530.4 286.3 L1531.5 288.0 L1532.7 289.6 L1533.8 291.3 L1535.0 292.9 L1536.1 294.5 L1537.3 296.2 L1538.5 297.8 L1539.7 299.4 L1540.9 301.0 L1542.1 302.5 L1543.3 304.1 L1544.6 305.7 L1545.9 307.2 L1547.2 308.7 L1548.5 310.2 L1549.9 311.7 L1551.3 313.1 L1552.7 314.5 L1554.1 315.9 L1555.5 317.3 L1557.0 318.7 L1558.5 320.0 L1560.0 321.3 L1561.6 322.5 L1563.2 323.7 L1564.8 324.9 L1566.4 326.1 L1568.1 327.2 L1569.7 328.3 L1571.4 329.5 L1573.1 330.5 L1574.8 331.6 L1576.5 332.7 L1578.2 333.7 L1579.9 334.7 L1581.7 335.7 L1583.4 336.7 L1585.1 337.7 L1586.9 338.6 L1588.7 339.6 L1590.4 340.5 L1592.2 341.3 L1594.1 342.1 L1595.9 342.9 L1597.8 343.7 L1599.6 344.4 L1601.5 345.1 L1603.4 345.8 L1605.2 346.5 L1607.1 347.2 L1609.0 348.0 L1610.8 348.7 L1612.7 349.4 L1614.6 350.1 L1616.5 350.7 L1618.4 351.3 L1620.3 351.8 L1622.3 352.1 L1624.3 352.5 L1626.3 352.7 L1628.3 352.9 L1630.2 353.0 L1632.2 353.1 L1634.2 353.1 L1636.2 353.2 L1638.2 353.2 L1640.2 353.2 L1642.2 353.1 L1644.2 353.1 L1646.2 353.0 L1648.2 352.9 L1650.2 352.7 L1652.2 352.5 L1654.2 352.4 L1656.2 352.1 L1658.2 351.9 L1660.2 351.6 L1662.2 351.4 L1664.1 351.1 L1666.1 350.8 L1668.1 350.5 L1670.1 350.2 L1672.0 349.8 L1674.0 349.5 L1676.0 349.1 L1677.9 348.7 L1679.9 348.3 L1681.9 348.0 L1683.8 347.6 L1685.8 347.2 L1687.8 346.8 L1689.7 346.5 L1691.7 346.1 L1693.7 345.7 L1695.6 345.3 L1697.6 345.0 L1699.5 344.6 L1701.5 344.2 L1703.5 343.8 L1705.4 343.5 L1707.4 343.1 L1709.4 342.8 L1711.4 342.4 L1713.3 342.1 L1715.3 341.7 L1717.3 341.4 L1719.2 341.1 L1721.2 340.7 L1723.2 340.4 L1725.2 340.1 L1727.1 339.8 L1729.1 339.5 L1731.1 339.2 L1733.1 338.9 L1735.1 338.7 L1737.0 338.4 L1739.0 338.2 L1741.0 337.9 L1743.0 337.7 L1745.0 337.5 L1747.0 337.3 L1749.0 337.1 L1751.0 336.9 L1753.0 336.7 L1755.0 336.6 L1757.0 336.4 L1758.9 336.3 L1760.9 336.2 L1762.9 336.0 L1764.9 335.9 L1766.9 335.8 L1768.9 335.7 L1770.9 335.6 L1772.9 335.5 L1774.9 335.4 L1776.9 335.4 L1778.9 335.3 L1780.9 335.2 L1782.9 335.2 L1784.9 335.1 L1786.9 335.1 L1788.9 335.1 L1790.9 335.1 L1792.9 335.1 L1794.9 335.1 L1796.9 335.1 L1798.9 335.1 L1800.9 335.1 L1802.9 335.2 L1804.9 335.2 L1806.9 335.3 L1808.9 335.3 L1810.9 335.4 L1812.9 335.5 L1814.9 335.5 L1816.9 335.6 L1818.9 335.7 L1820.9 335.8 L1822.9 335.9 L1824.9 336.0 L1826.9 336.1 L1828.9 336.2 L1835.0 336.2 L1835.0 192.4 L1487.2 192.4Z" fill="#4c7cff"/>
<path d="M1512.3 198.6 L1513.1 200.4 L1513.9 202.2 L1514.7 204.1 L1515.5 205.9 L1516.2 207.8 L1517.0 209.6 L1517.8 211.5 L1518.5 213.3 L1519.3 215.2 L1520.1 217.0 L1520.8 218.9 L1521.6 220.7 L1522.4 222.5 L1523.2 224.4 L1524.0 226.2 L1524.8 228.1 L1525.6 229.9 L1526.4 231.7 L1527.3 233.5 L1528.1 235.3 L1529.0 237.1 L1529.9 238.9 L1530.8 240.7 L1531.8 242.5 L1532.7 244.2 L1533.7 246.0 L1534.7 247.7 L1535.6 249.5 L1536.6 251.2 L1537.6 253.0 L1538.5 254.8 L1539.4 256.5 L1540.4 258.3 L1541.3 260.1 L1542.3 261.8 L1543.3 263.5 L1544.3 265.3 L1545.3 267.0 L1546.4 268.7 L1547.5 270.3 L1548.6 272.0 L1549.8 273.7 L1550.9 275.3 L1552.0 277.0 L1553.1 278.6 L1554.3 280.3 L1555.4 281.9 L1556.6 283.5 L1557.9 285.0 L1559.3 286.5 L1560.7 287.9 L1562.2 289.2 L1563.8 290.5 L1565.3 291.7 L1566.9 292.9 L1568.6 294.0 L1570.2 295.2 L1571.9 296.3 L1573.5 297.5 L1575.2 298.6 L1576.8 299.7 L1578.5 300.8 L1580.2 301.9 L1581.9 303.0 L1583.5 304.1 L1585.2 305.2 L1586.9 306.2 L1588.6 307.2 L1590.4 308.3 L1592.1 309.3 L1593.9 310.2 L1595.6 311.2 L1597.4 312.1 L1599.2 313.0 L1601.0 313.8 L1602.8 314.6 L1604.7 315.4 L1606.5 316.1 L1608.4 316.9 L1610.3 317.5 L1612.2 318.2 L1614.1 318.8 L1616.0 319.5 L1617.9 320.1 L1619.8 320.6 L1621.7 321.2 L1623.7 321.7 L1625.6 322.3 L1627.5 322.8 L1629.5 323.3 L1631.4 323.7 L1633.4 324.2 L1635.3 324.6 L1637.3 325.1 L1639.2 325.4 L1641.2 325.8 L1643.2 326.2 L1645.2 326.5 L1647.1 326.7 L1649.1 327.0 L1651.1 327.2 L1653.1 327.3 L1655.1 327.4 L1657.1 327.5 L1659.1 327.5 L1661.1 327.5 L1663.1 327.4 L1665.1 327.3 L1667.1 327.2 L1669.1 327.1 L1671.1 326.9 L1673.1 326.7 L1675.1 326.4 L1677.1 326.2 L1679.0 325.9 L1681.0 325.5 L1683.0 325.2 L1685.0 324.9 L1686.9 324.5 L1688.9 324.1 L1690.9 323.8 L1692.8 323.4 L1694.8 323.0 L1696.8 322.5 L1698.7 322.1 L1700.7 321.7 L1702.6 321.2 L1704.6 320.7 L1706.5 320.3 L1708.5 319.8 L1710.4 319.4 L1712.4 318.9 L1714.3 318.5 L1716.3 318.1 L1718.2 317.7 L1720.2 317.3 L1722.2 316.9 L1724.1 316.6 L1726.1 316.2 L1728.1 315.9 L1730.0 315.5 L1732.0 315.2 L1734.0 314.9 L1736.0 314.6 L1738.0 314.4 L1740.0 314.1 L1741.9 313.8 L1743.9 313.6 L1745.9 313.4 L1747.9 313.1 L1749.9 312.9 L1751.9 312.7 L1753.9 312.5 L1755.9 312.4 L1757.9 312.2 L1759.9 312.1 L1761.9 311.9 L1763.9 311.8 L1765.9 311.7 L1767.9 311.6 L1769.9 311.5 L1771.9 311.4 L1773.9 311.3 L1775.9 311.2 L1777.9 311.2 L1779.9 311.2 L1781.9 311.1 L1783.9 311.1 L1785.9 311.1 L1787.9 311.1 L1789.9 311.1 L1791.9 311.1 L1793.9 311.0 L1795.9 311.0 L1797.9 311.0 L1799.9 311.0 L1801.9 310.9 L1803.9 310.9 L1805.9 310.9 L1807.9 310.8 L1809.9 310.8 L1811.9 310.8 L1813.9 310.7 L1815.9 310.7 L1817.9 310.7 L1819.9 310.6 L1821.9 310.6 L1823.9 310.6 L1825.9 310.6 L1827.9 310.5 L1828.9 310.5 L1835.0 310.5 L1835.0 192.4 L1512.3 192.4Z" fill="#4067ff"/>
<path d="M1536.2 198.6 L1536.9 200.4 L1537.6 202.3 L1538.3 204.2 L1539.0 206.1 L1539.8 207.9 L1540.5 209.8 L1541.2 211.7 L1542.0 213.5 L1542.7 215.4 L1543.5 217.2 L1544.3 219.1 L1545.0 220.9 L1545.8 222.8 L1546.7 224.6 L1547.5 226.4 L1548.4 228.2 L1549.3 230.0 L1550.2 231.8 L1551.1 233.6 L1552.0 235.4 L1552.9 237.2 L1553.7 239.0 L1554.5 240.9 L1555.2 242.7 L1556.0 244.6 L1556.7 246.5 L1557.5 248.3 L1558.3 250.1 L1559.2 251.9 L1560.1 253.7 L1561.1 255.5 L1562.0 257.2 L1563.0 259.0 L1564.0 260.7 L1565.1 262.4 L1566.1 264.1 L1567.2 265.8 L1568.3 267.5 L1569.4 269.1 L1570.7 270.7 L1571.9 272.3 L1573.3 273.8 L1574.7 275.2 L1576.1 276.6 L1577.7 277.8 L1579.3 279.0 L1580.9 280.2 L1582.5 281.4 L1584.0 282.7 L1585.5 284.0 L1587.1 285.3 L1588.6 286.6 L1590.2 287.8 L1591.8 289.0 L1593.4 290.2 L1595.1 291.3 L1596.7 292.5 L1598.3 293.7 L1599.9 294.9 L1601.6 296.0 L1603.3 297.0 L1605.1 297.9 L1606.9 298.8 L1608.7 299.6 L1610.6 300.3 L1612.5 301.0 L1614.4 301.6 L1616.3 302.1 L1618.3 302.6 L1620.3 302.9 L1622.2 303.2 L1624.2 303.5 L1626.2 303.7 L1628.2 303.9 L1630.2 304.0 L1632.2 304.1 L1634.2 304.2 L1636.2 304.2 L1638.2 304.2 L1640.2 304.1 L1642.2 303.9 L1644.2 303.8 L1646.2 303.6 L1648.2 303.4 L1650.2 303.1 L1652.2 302.9 L1654.2 302.6 L1656.2 302.3 L1658.1 301.9 L1660.1 301.6 L1662.1 301.2 L1664.1 300.8 L1666.0 300.4 L1668.0 300.0 L1669.9 299.6 L1671.9 299.1 L1673.8 298.6 L1675.8 298.2 L1677.7 297.7 L1679.7 297.2 L1681.6 296.8 L1683.6 296.3 L1685.5 295.8 L1687.5 295.4 L1689.4 294.9 L1691.4 294.4 L1693.3 294.0 L1695.3 293.5 L1697.3 293.1 L1699.2 292.6 L1701.2 292.2 L1703.1 291.8 L1705.1 291.3 L1707.0 290.9 L1709.0 290.5 L1711.0 290.1 L1712.9 289.7 L1714.9 289.3 L1716.9 288.9 L1718.8 288.6 L1720.8 288.2 L1722.8 287.9 L1724.8 287.6 L1726.8 287.3 L1728.8 287.1 L1730.8 286.8 L1732.7 286.6 L1734.7 286.4 L1736.7 286.2 L1738.7 286.0 L1740.7 285.8 L1742.7 285.6 L1744.7 285.5 L1746.7 285.3 L1748.7 285.2 L1750.7 285.0 L1752.7 284.9 L1754.7 284.8 L1756.7 284.7 L1758.7 284.6 L1760.7 284.5 L1762.7 284.5 L1764.8 284.4 L1766.8 284.4 L1768.8 284.4 L1770.8 284.4 L1772.8 284.3 L1774.8 284.3 L1776.8 284.3 L1778.8 284.4 L1780.8 284.4 L1782.8 284.4 L1784.8 284.4 L1786.8 284.5 L1788.8 284.5 L1790.8 284.5 L1792.8 284.6 L1794.8 284.6 L1796.8 284.6 L1798.8 284.6 L1800.9 284.6 L1802.9 284.6 L1804.9 284.5 L1806.9 284.5 L1808.9 284.5 L1810.9 284.5 L1812.9 284.4 L1814.9 284.4 L1816.9 284.3 L1818.9 284.2 L1820.9 284.1 L1822.9 284.0 L1824.9 283.9 L1826.9 283.8 L1828.9 283.7 L1835.0 283.7 L1835.0 192.4 L1536.2 192.4Z" fill="#3353ff"/>
<path d="M1559.5 198.6 L1560.2 200.4 L1560.8 202.3 L1561.5 204.2 L1562.2 206.1 L1562.9 208.0 L1563.6 209.8 L1564.4 211.7 L1565.1 213.6 L1565.8 215.4 L1566.6 217.3 L1567.3 219.1 L1568.1 221.0 L1568.9 222.8 L1569.7 224.7 L1570.4 226.5 L1571.3 228.4 L1572.1 230.2 L1573.0 232.0 L1573.9 233.8 L1574.8 235.5 L1575.8 237.3 L1576.8 239.0 L1577.8 240.7 L1578.8 242.5 L1579.8 244.2 L1580.7 246.0 L1581.6 247.8 L1582.6 249.6 L1583.5 251.3 L1584.5 253.1 L1585.4 254.8 L1586.4 256.6 L1587.5 258.3 L1588.6 259.9 L1589.8 261.5 L1591.1 263.1 L1592.4 264.6 L1593.7 266.1 L1595.1 267.5 L1596.6 268.9 L1598.1 270.2 L1599.6 271.5 L1601.2 272.7 L1602.8 273.8 L1604.5 274.9 L1606.3 275.9 L1608.1 276.7 L1609.9 277.5 L1611.8 278.2 L1613.7 278.8 L1615.7 279.3 L1617.6 279.7 L1619.6 280.1 L1621.6 280.4 L1623.6 280.6 L1625.5 280.8 L1627.5 280.8 L1629.5 280.9 L1631.5 280.8 L1633.5 280.7 L1635.5 280.6 L1637.5 280.4 L1639.5 280.1 L1641.5 279.8 L1643.5 279.5 L1645.4 279.1 L1647.4 278.7 L1649.4 278.3 L1651.3 277.9 L1653.3 277.4 L1655.2 277.0 L1657.2 276.5 L1659.1 276.1 L1661.1 275.6 L1663.0 275.1 L1665.0 274.6 L1666.9 274.1 L1668.8 273.6 L1670.8 273.1 L1672.7 272.6 L1674.7 272.1 L1676.6 271.6 L1678.6 271.1 L1680.5 270.7 L1682.4 270.2 L1684.4 269.7 L1686.3 269.2 L1688.3 268.7 L1690.2 268.2 L1692.1 267.6 L1694.1 267.1 L1696.0 266.5 L1697.9 266.0 L1699.8 265.4 L1701.8 264.9 L1703.7 264.3 L1705.6 263.8 L1707.6 263.3 L1709.5 262.8 L1711.4 262.3 L1713.4 261.8 L1715.3 261.3 L1717.3 260.8 L1719.2 260.4 L1721.2 259.9 L1723.1 259.5 L1725.1 259.1 L1727.0 258.7 L1729.0 258.3 L1731.0 258.0 L1733.0 257.7 L1734.9 257.4 L1736.9 257.1 L1738.9 256.8 L1740.9 256.6 L1742.9 256.4 L1744.9 256.2 L1746.9 256.0 L1748.9 255.9 L1750.9 255.8 L1752.9 255.7 L1754.9 255.6 L1756.9 255.5 L1758.9 255.5 L1760.9 255.4 L1762.9 255.4 L1764.9 255.4 L1766.9 255.4 L1768.9 255.5 L1770.9 255.5 L1772.9 255.6 L1774.9 255.6 L1776.9 255.7 L1778.9 255.8 L1780.9 255.9 L1782.9 256.0 L1784.9 256.1 L1786.9 256.2 L1788.9 256.3 L1790.9 256.5 L1792.9 256.6 L1794.9 256.7 L1796.9 256.9 L1798.9 257.0 L1800.9 257.2 L1802.9 257.3 L1804.9 257.4 L1806.9 257.5 L1808.9 257.7 L1810.9 257.8 L1812.9 257.8 L1814.9 257.9 L1816.9 257.9 L1818.9 257.8 L1820.9 257.7 L1822.9 257.6 L1824.9 257.5 L1826.9 257.4 L1828.9 257.3 L1835.0 257.3 L1835.0 192.4 L1559.5 192.4Z" fill="#263eff"/>
<path d="M1583.0 198.6 L1583.4 200.5 L1583.8 202.5 L1584.2 204.4 L1584.6 206.4 L1585.1 208.3 L1585.6 210.3 L1586.1 212.2 L1586.6 214.2 L1587.2 216.1 L1587.8 218.0 L1588.4 219.9 L1589.0 221.8 L1589.7 223.7 L1590.4 225.5 L1591.2 227.4 L1592.0 229.2 L1592.8 231.0 L1593.7 232.8 L1594.6 234.6 L1595.6 236.4 L1596.7 238.1 L1597.8 239.7 L1599.0 241.3 L1600.2 242.9 L1601.5 244.4 L1602.9 245.9 L1604.3 247.2 L1605.8 248.6 L1607.4 249.8 L1609.0 251.0 L1610.7 252.1 L1612.4 253.1 L1614.2 253.9 L1616.1 254.7 L1618.0 255.3 L1619.9 255.9 L1621.8 256.2 L1623.8 256.5 L1625.8 256.6 L1627.8 256.6 L1629.8 256.4 L1631.8 256.1 L1633.7 255.8 L1635.7 255.4 L1637.6 254.9 L1639.6 254.3 L1641.5 253.7 L1643.3 253.0 L1645.2 252.3 L1647.1 251.5 L1648.9 250.8 L1650.8 250.0 L1652.6 249.2 L1654.4 248.4 L1656.2 247.5 L1658.0 246.7 L1659.9 245.8 L1661.7 245.0 L1663.5 244.1 L1665.3 243.3 L1667.1 242.4 L1668.9 241.6 L1670.7 240.7 L1672.6 239.9 L1674.4 239.1 L1676.2 238.2 L1678.0 237.4 L1679.9 236.6 L1681.7 235.8 L1683.5 235.0 L1685.4 234.2 L1687.2 233.5 L1689.1 232.7 L1690.9 232.0 L1692.8 231.2 L1694.7 230.5 L1696.6 229.8 L1698.4 229.2 L1700.3 228.5 L1702.2 227.9 L1704.1 227.3 L1706.1 226.7 L1708.0 226.1 L1709.9 225.6 L1711.8 225.1 L1713.8 224.6 L1715.7 224.1 L1717.7 223.7 L1719.6 223.3 L1721.6 222.9 L1723.6 222.5 L1725.6 222.2 L1727.5 221.9 L1729.5 221.7 L1731.5 221.5 L1733.5 221.3 L1735.5 221.1 L1737.5 220.9 L1739.5 220.8 L1741.5 220.7 L1743.5 220.6 L1745.5 220.5 L1747.5 220.5 L1749.5 220.5 L1751.5 220.5 L1753.5 220.6 L1755.5 220.7 L1757.5 220.8 L1759.5 221.0 L1761.5 221.2 L1763.5 221.4 L1765.5 221.6 L1767.5 221.9 L1769.4 222.1 L1771.4 222.4 L1773.4 222.7 L1775.4 223.0 L1777.4 223.4 L1779.3 223.7 L1781.3 224.1 L1783.3 224.4 L1785.2 224.8 L1787.2 225.2 L1789.2 225.5 L1791.1 225.9 L1793.1 226.3 L1795.1 226.7 L1797.0 227.1 L1799.0 227.4 L1801.0 227.7 L1803.0 228.0 L1804.9 228.3 L1806.9 228.6 L1808.9 228.8 L1810.9 229.0 L1812.9 229.2 L1814.9 229.4 L1816.9 229.5 L1818.9 229.5 L1820.9 229.6 L1822.9 229.6 L1824.9 229.6 L1826.9 229.6 L1828.9 229.6 L1835.0 229.6 L1835.0 192.4 L1583.0 192.4Z" fill="#1a29ff"/>
<path d="M1608.5 197.5 L1608.7 199.5 L1608.8 201.6 L1608.9 203.6 L1609.0 205.6 L1609.2 207.6 L1609.4 209.6 L1609.6 211.5 L1609.9 213.5 L1610.2 215.5 L1610.5 217.5 L1610.9 219.5 L1611.3 221.4 L1611.9 223.3 L1612.5 225.3 L1613.1 227.1 L1614.0 228.9 L1615.1 230.5 L1616.4 231.8 L1618.1 232.6 L1619.9 232.8 L1621.7 232.4 L1623.5 231.6 L1625.2 230.5 L1626.8 229.4 L1628.4 228.2 L1629.9 226.9 L1631.5 225.6 L1633.0 224.2 L1634.5 222.9 L1635.9 221.6 L1637.4 220.2 L1638.9 218.8 L1640.3 217.5 L1641.8 216.1 L1643.3 214.7 L1644.7 213.3 L1646.2 211.9 L1647.6 210.6 L1649.1 209.2 L1650.6 207.9 L1652.2 206.6 L1653.8 205.4 L1655.4 204.2 L1657.0 203.0 L1658.6 201.9 L1660.3 200.8 L1662.0 199.7 L1663.7 198.6 L1665.4 197.5Z" fill="#0d15ff"/>
<path d="M1822.6 197.5 L1824.6 198.4 L1826.5 199.2 L1828.5 200.0 L1829.5 200.3 L1840.0 190.0Z" fill="#0d15ff"/>
<path d="M1789.6 500.0 L1791.5 500.3 L1793.3 501.0 L1795.1 501.9 L1796.8 503.0 L1798.4 504.2 L1799.9 505.5 L1801.3 506.9 L1802.6 508.4 L1803.8 510.0 L1804.9 511.7 L1805.8 513.4 L1806.7 515.2 L1807.6 517.0 L1808.4 518.8 L1809.1 520.7 L1809.9 522.6 L1810.6 524.4 L1811.3 526.3 L1811.9 528.2 L1812.5 530.1 L1813.1 532.0 L1813.6 534.0 L1814.1 535.9 L1814.6 537.9 L1815.0 539.8 L1815.4 541.8 L1815.8 543.7 L1816.1 545.7 L1816.4 547.7 L1816.7 549.7 L1816.9 551.7 L1817.1 553.7 L1817.3 555.6 L1817.4 557.6 L1817.5 559.6 L1817.6 561.6 L1817.7 563.6 L1817.7 565.6 L1817.7 567.6 L1817.7 569.7 L1817.6 571.7 L1817.6 573.7 L1817.5 575.7 L1817.3 577.6 L1817.2 579.6 L1817.0 581.6 L1816.7 583.6 L1816.5 585.6 L1816.3 587.6 L1816.0 589.6 L1815.7 591.6 L1815.4 593.5 L1815.0 595.5 L1814.7 597.5 L1814.3 599.4 L1813.9 601.4 L1813.5 603.4 L1813.0 605.3 L1812.5 607.2 L1811.9 609.2 L1811.4 611.1 L1810.8 613.0 L1810.1 614.9 L1809.5 616.8 L1808.8 618.7 L1808.0 620.5 L1807.3 622.4 L1806.5 624.2 L1805.6 626.0 L1804.8 627.8 L1803.9 629.6 L1803.0 631.4 L1802.0 633.2 L1801.1 634.9 L1800.1 636.7 L1799.0 638.4 L1797.9 640.1 L1796.8 641.7 L1795.7 643.4 L1794.6 645.0 L1793.4 646.6 L1792.2 648.2 L1790.9 649.8 L1789.6 651.3 L1788.3 652.8 L1786.9 654.2 L1785.4 655.6 L1783.9 656.8 L1782.2 658.0 L1780.5 659.0 L1778.8 660.0 L1777.0 660.9 L1775.2 661.7 L1773.3 662.4 L1771.4 663.1 L1769.5 663.6 L1767.5 664.0 L1765.6 664.3 L1763.6 664.4 L1761.6 664.4 L1759.6 664.2 L1757.6 663.9 L1755.7 663.5 L1753.8 662.9 L1751.9 662.2 L1750.1 661.4 L1748.4 660.4 L1746.7 659.3 L1745.1 658.2 L1743.5 656.9 L1742.0 655.6 L1740.6 654.1 L1739.3 652.7 L1738.0 651.2 L1736.7 649.6 L1735.6 647.9 L1734.5 646.3 L1733.5 644.6 L1732.5 642.8 L1731.6 641.0 L1730.8 639.2 L1730.0 637.3 L1729.4 635.5 L1728.8 633.5 L1728.4 631.6 L1728.0 629.6 L1727.7 627.7 L1727.5 625.7 L1727.4 623.7 L1727.3 621.7 L1727.3 619.7 L1727.3 617.7 L1727.4 615.7 L1727.5 613.7 L1727.6 611.7 L1727.8 609.7 L1728.0 607.7 L1728.3 605.7 L1728.6 603.7 L1728.9 601.8 L1729.3 599.8 L1729.7 597.8 L1730.1 595.9 L1730.6 593.9 L1731.1 592.0 L1731.6 590.0 L1732.1 588.1 L1732.7 586.2 L1733.3 584.3 L1733.9 582.4 L1734.5 580.5 L1735.2 578.6 L1735.9 576.7 L1736.6 574.8 L1737.3 573.0 L1738.0 571.1 L1738.8 569.2 L1739.5 567.4 L1740.3 565.5 L1741.1 563.7 L1741.8 561.8 L1742.6 560.0 L1743.4 558.2 L1744.2 556.3 L1745.0 554.5 L1745.8 552.7 L1746.7 550.8 L1747.5 549.0 L1748.4 547.2 L1749.3 545.4 L1750.2 543.7 L1751.1 541.9 L1752.0 540.1 L1753.0 538.3 L1754.0 536.6 L1755.0 534.9 L1756.0 533.1 L1757.0 531.4 L1758.0 529.7 L1759.1 528.0 L1760.2 526.3 L1761.2 524.6 L1762.3 522.9 L1763.5 521.3 L1764.6 519.6 L1765.8 518.0 L1766.9 516.4 L1768.2 514.8 L1769.4 513.3 L1770.8 511.8 L1772.1 510.3 L1773.5 508.9 L1775.0 507.5 L1776.5 506.1 L1778.0 504.9 L1779.6 503.7 L1781.3 502.6 L1783.0 501.7 L1784.8 500.8 L1786.7 500.2 L1788.6 500.0 L1789.6 500.0Z" fill="#95fe93"/>
<path d="M1509.7 885.2 L1509.4 883.2 L1509.2 881.2 L1508.9 879.3 L1508.6 877.3 L1508.4 875.3 L1508.1 873.3 L1507.9 871.3 L1507.7 869.3 L1507.6 867.3 L1507.5 865.3 L1507.5 863.3 L1507.5 861.3 L1507.6 859.3 L1507.7 857.3 L1507.9 855.3 L1508.1 853.3 L1508.3 851.3 L1508.6 849.4 L1509.0 847.4 L1509.4 845.4 L1509.8 843.4 L1510.2 841.5 L1510.7 839.5 L1511.2 837.6 L1511.7 835.7 L1512.3 833.8 L1513.0 831.9 L1513.7 830.0 L1514.5 828.2 L1515.3 826.3 L1516.2 824.5 L1517.1 822.8 L1518.1 821.0 L1519.2 819.4 L1520.4 817.8 L1521.7 816.3 L1523.1 814.8 L1524.6 813.5 L1526.2 812.3 L1527.8 811.2 L1529.6 810.2 L1531.4 809.3 L1533.2 808.5 L1535.1 807.9 L1537.0 807.4 L1539.0 807.0 L1541.0 806.7 L1543.0 806.6 L1545.0 806.6 L1546.9 806.8 L1548.9 807.0 L1550.9 807.5 L1552.8 808.0 L1554.7 808.7 L1556.5 809.5 L1558.2 810.5 L1559.9 811.6 L1561.6 812.7 L1563.1 813.9 L1564.7 815.2 L1566.2 816.5 L1567.7 817.9 L1569.1 819.3 L1570.4 820.8 L1571.7 822.3 L1573.0 823.8 L1574.3 825.4 L1575.5 827.0 L1576.7 828.6 L1577.9 830.2 L1579.0 831.9 L1580.1 833.5 L1581.2 835.2 L1582.2 836.9 L1583.2 838.7 L1584.2 840.4 L1585.1 842.2 L1586.0 844.0 L1586.8 845.8 L1587.6 847.7 L1588.4 849.5 L1589.1 851.4 L1589.8 853.3 L1590.5 855.1 L1591.2 857.0 L1591.8 858.9 L1592.4 860.8 L1593.0 862.7 L1593.6 864.7 L1594.2 866.6 L1594.7 868.5 L1595.2 870.5 L1595.7 872.4 L1596.1 874.4 L1596.4 876.3 L1596.8 878.3 L1597.1 880.3 L1597.5 882.3 L1597.8 884.2 L1598.0 885.2Z" fill="#99f8ff"/>
<path d="M1334.3 570.2 L1336.2 570.8 L1338.1 571.4 L1340.0 572.0 L1342.0 572.6 L1343.9 573.2 L1345.8 573.8 L1347.7 574.4 L1349.6 575.0 L1351.5 575.5 L1353.5 576.0 L1355.4 576.5 L1357.4 577.0 L1359.3 577.4 L1361.3 577.8 L1363.2 578.2 L1365.2 578.6 L1367.2 579.0 L1369.2 579.3 L1371.1 579.6 L1373.1 580.0 L1375.1 580.2 L1377.1 580.5 L1379.1 580.8 L1381.1 581.0 L1383.0 581.2 L1385.0 581.4 L1387.0 581.6 L1389.0 581.8 L1391.0 581.9 L1393.0 582.1 L1395.0 582.3 L1397.0 582.4 L1399.0 582.5 L1401.0 582.7 L1403.0 582.8 L1405.0 582.9 L1407.0 583.0 L1409.0 583.1 L1411.0 583.2 L1413.0 583.3 L1415.0 583.4 L1417.0 583.4 L1419.0 583.5 L1421.0 583.5 L1423.0 583.5 M1534.8 545.7 L1536.5 544.5 L1538.1 543.4 L1539.8 542.4 L1541.6 541.4 L1543.3 540.4 L1545.1 539.4 L1546.8 538.4 L1548.6 537.5 L1550.3 536.5 L1552.0 535.5 L1553.8 534.4 L1555.5 533.4 L1557.2 532.4 L1559.0 531.4 L1560.7 530.5 L1562.5 529.6 L1564.4 528.8 L1566.2 528.0 L1568.1 527.3 L1570.0 526.7 L1571.9 526.2 L1573.8 525.7 L1575.8 525.4 L1577.8 525.3 L1579.8 525.4 L1581.8 525.6 L1583.7 526.0 L1585.6 526.5 L1587.5 527.2 L1589.4 527.9 L1591.2 528.7 L1593.0 529.6 L1594.8 530.6 L1596.5 531.5 L1598.3 532.4 L1600.1 533.4 L1601.9 534.3 L1603.6 535.2 L1605.4 536.2 L1607.2 537.1 L1609.0 538.0 L1610.8 538.9 L1612.6 539.7 L1614.4 540.5 L1616.3 541.3 L1618.1 542.0 L1620.0 542.7 L1621.9 543.4 L1623.8 544.0 L1625.7 544.6 L1627.6 545.2 L1629.6 545.7 L1631.5 546.1 L1633.5 546.5 L1635.4 546.9 L1637.4 547.3 L1639.4 547.6 L1641.4 547.8 L1643.4 548.0 L1645.4 548.2 L1647.4 548.2 L1649.4 548.3 L1651.4 548.2 L1653.4 548.1 L1655.4 548.0 L1657.4 547.8 L1659.3 547.5 L1661.3 547.2 L1663.3 546.9 L1665.3 546.5 L1667.2 546.0 L1669.1 545.5 L1671.1 545.0 L1673.0 544.4 L1674.9 543.8 L1676.8 543.1 L1678.7 542.4 L1680.5 541.7 L1682.4 540.9 L1684.2 540.1 L1686.0 539.2 L1687.8 538.3 L1689.5 537.3 L1691.3 536.4 L1693.0 535.3 L1694.7 534.3 L1696.4 533.2 L1698.1 532.2 L1699.8 531.1 L1701.4 529.9 L1703.1 528.8 L1704.7 527.6 L1706.3 526.4 L1707.8 525.1 L1709.4 523.9 L1711.0 522.6 L1712.5 521.4 L1714.1 520.1 L1715.6 518.8 L1717.2 517.5 L1718.7 516.2 L1720.2 515.0 L1721.8 513.7 L1723.3 512.4 L1724.8 511.0 L1726.3 509.7 L1727.8 508.4 L1729.3 507.1 L1730.8 505.8 L1732.4 504.5 L1733.9 503.2 L1735.4 501.9 L1737.0 500.6 L1738.5 499.3 L1740.0 498.0 L1741.6 496.8 L1743.1 495.5 L1744.7 494.2 L1746.2 493.0 L1747.8 491.7 L1749.4 490.6 L1751.1 489.4 L1752.7 488.3 L1754.4 487.2 L1756.1 486.2 L1757.9 485.2 L1759.6 484.2 L1761.4 483.3 L1763.2 482.4 L1765.0 481.5 L1766.8 480.7 L1768.7 480.0 L1770.5 479.3 L1772.4 478.6 L1774.4 478.0 L1776.3 477.5 L1778.2 477.1 L1780.2 476.7 L1782.2 476.4 L1784.2 476.3 L1786.2 476.2 L1788.2 476.3 L1790.2 476.4 L1792.1 476.7 L1794.1 477.1 L1796.0 477.7 L1797.9 478.3 L1799.8 479.0 L1801.6 479.8 L1803.4 480.7 L1805.2 481.6 L1806.9 482.7 L1808.6 483.8 L1810.2 484.9 L1811.8 486.1 L1813.4 487.3 L1815.0 488.6 L1816.5 489.9 L1817.9 491.2 L1819.4 492.6 L1820.9 494.0 L1822.3 495.4 L1823.7 496.8 L1825.1 498.2 L1826.6 499.6 L1828.0 501.0 L1828.7 501.8 M1334.3 375.3 L1336.2 376.0 L1338.1 376.7 L1339.9 377.5 L1341.8 378.2 L1343.6 379.0 L1345.4 379.9 L1347.2 380.9 L1348.9 381.8 L1350.6 382.9 L1352.4 383.9 L1354.0 385.0 L1355.7 386.1 L1357.4 387.2 L1359.0 388.3 L1360.7 389.5 L1362.3 390.7 L1363.9 391.9 L1365.5 393.1 L1367.0 394.4 L1368.6 395.6 L1370.2 396.9 L1371.7 398.1 L1373.3 399.4 L1374.8 400.7 L1376.3 402.0 L1377.9 403.3 L1379.4 404.6 L1380.9 405.9 L1382.4 407.3 L1383.8 408.6 L1385.3 410.0 L1386.8 411.4 L1388.2 412.7 L1389.7 414.1 L1391.1 415.5 L1392.5 416.9 L1394.0 418.3 L1395.4 419.7 L1396.9 421.1 L1398.3 422.4 L1399.8 423.8 L1401.2 425.2 L1402.7 426.6 L1404.2 428.0 L1405.6 429.3 L1407.1 430.7 L1408.5 432.1 L1410.0 433.5 L1411.4 434.8 L1412.9 436.2 L1414.4 437.6 L1415.8 438.9 L1417.3 440.3 L1418.7 441.7 L1420.1 443.1 L1421.6 444.5 L1423.1 445.8 M1532.5 487.1 L1534.5 487.2 L1536.5 487.2 L1538.5 487.2 L1540.5 487.1 L1542.5 486.9 L1544.5 486.8 L1546.5 486.7 L1548.5 486.7 L1550.5 486.7 L1552.5 486.8 L1554.5 486.9 L1556.5 487.1 L1558.5 487.2 L1560.5 487.4 L1562.5 487.6 L1564.5 487.8 L1566.5 488.1 L1568.5 488.3 L1570.5 488.6 L1572.5 488.8 L1574.4 489.1 L1576.4 489.4 L1578.4 489.7 L1580.4 490.1 L1582.4 490.4 L1584.3 490.8 L1586.3 491.1 L1588.3 491.5 L1590.2 491.8 L1592.2 492.2 L1594.2 492.5 L1596.2 492.9 L1598.1 493.3 L1600.1 493.7 L1602.1 494.1 L1604.0 494.5 L1606.0 494.8 L1608.0 495.2 L1609.9 495.5 L1611.9 495.8 L1613.9 496.1 L1615.9 496.4 L1617.9 496.7 L1619.9 496.9 L1621.8 497.2 L1623.8 497.4 L1625.8 497.6 L1627.8 497.8 L1629.8 498.0 L1631.8 498.1 L1633.8 498.3 L1635.8 498.4 L1637.8 498.5 L1639.8 498.6 L1641.8 498.6 L1643.8 498.6 L1645.8 498.6 L1647.8 498.6 L1649.8 498.5 L1651.8 498.3 L1653.8 498.2 L1655.8 497.9 L1657.8 497.7 L1659.8 497.4 L1661.8 497.1 L1663.7 496.8 L1665.7 496.4 L1667.7 496.0 L1669.6 495.6 L1671.6 495.1 L1673.5 494.6 L1675.5 494.1 L1677.4 493.5 L1679.3 493.0 L1681.2 492.4 L1683.1 491.7 L1685.0 491.1 L1686.9 490.4 L1688.8 489.7 L1690.7 489.0 L1692.5 488.3 L1694.4 487.6 L1696.2 486.8 L1698.1 486.0 L1699.9 485.2 L1701.7 484.4 L1703.6 483.6 L1705.4 482.7 L1707.2 481.9 L1709.0 481.0 L1710.8 480.2 L1712.6 479.3 L1714.4 478.4 L1716.2 477.5 L1718.0 476.6 L1719.8 475.7 L1721.6 474.8 L1723.4 473.9 L1725.1 473.0 L1726.9 472.1 L1728.7 471.2 L1730.5 470.3 L1732.4 469.5 L1734.2 468.6 L1736.0 467.8 L1737.8 466.9 L1739.6 466.1 L1741.5 465.3 L1743.3 464.5 L1745.2 463.7 L1747.0 463.0 L1748.9 462.2 L1750.7 461.5 L1752.6 460.8 L1754.5 460.1 L1756.4 459.5 L1758.3 458.8 L1760.2 458.2 L1762.1 457.6 L1764.0 457.0 L1765.9 456.5 L1767.9 456.0 L1769.8 455.5 L1771.8 455.0 L1773.7 454.6 L1775.7 454.2 L1777.7 453.8 L1779.6 453.5 L1781.6 453.2 L1783.6 453.0 L1785.6 452.9 L1787.6 452.8 L1789.6 452.8 L1791.6 452.9 L1793.6 453.0 L1795.6 453.2 L1797.6 453.5 L1799.6 453.8 L1801.5 454.2 L1803.5 454.6 L1805.4 455.1 L1807.3 455.7 L1809.3 456.3 L1811.1 456.9 L1813.0 457.7 L1814.8 458.5 L1816.7 459.3 L1818.4 460.2 L1820.2 461.2 L1821.9 462.2 L1823.6 463.3 L1825.3 464.3 L1827.0 465.4 L1828.7 466.5 M1334.3 251.9 L1336.3 252.2 L1338.3 252.5 L1340.2 252.8 L1342.2 253.2 L1344.2 253.5 L1346.2 253.8 L1348.1 254.1 L1350.1 254.4 L1352.1 254.7 L1354.1 255.0 L1356.0 255.4 L1358.0 255.7 L1360.0 256.0 L1362.0 256.3 L1363.9 256.7 L1365.9 257.0 L1367.9 257.4 L1369.9 257.7 L1371.8 258.0 L1373.8 258.4 L1375.8 258.7 L1377.7 259.1 L1379.7 259.4 L1381.7 259.8 L1383.7 260.1 L1385.6 260.5 L1387.6 260.8 L1389.6 261.2 L1391.5 261.5 L1393.5 262.0 L1395.4 262.5 L1397.3 263.2 L1399.0 264.1 L1400.7 265.3 L1402.0 266.7 L1403.1 268.3 L1404.0 270.1 L1404.7 272.0 L1405.2 273.9 L1405.8 275.9 L1406.3 277.8 L1406.9 279.7 L1407.5 281.6 L1408.0 283.5 L1408.6 285.5 L1409.1 287.4 L1409.7 289.3 L1410.3 291.2 L1410.8 293.1 L1411.4 295.1 L1412.0 297.0 L1412.6 298.9 L1413.2 300.8 L1413.8 302.7 L1414.4 304.6 L1415.0 306.5 L1415.6 308.4 L1416.2 310.3 L1416.8 312.3 L1417.3 314.2 L1417.9 316.1 L1418.4 318.0 L1419.0 319.9 L1419.6 321.9 L1420.1 323.8 L1420.8 325.7 L1421.4 327.6 L1422.1 329.5 L1422.8 331.3 L1423.5 333.2 L1424.2 335.1 L1425.0 336.9 L1425.8 338.8 L1426.6 340.6 L1427.5 342.4 L1428.4 344.2 L1429.3 346.0 L1430.2 347.7 L1431.1 349.5 L1432.1 351.3 L1433.0 353.1 L1433.9 354.8 L1434.9 356.6 L1435.8 358.4 L1436.8 360.1 L1437.7 361.9 L1438.7 363.6 L1439.7 365.3 L1440.7 367.1 L1441.8 368.8 L1442.8 370.5 L1443.8 372.2 L1444.8 373.9 L1445.9 375.6 L1447.0 377.3 L1448.1 379.0 L1449.2 380.6 L1450.4 382.2 L1451.6 383.8 L1452.8 385.4 L1454.0 387.0 L1455.3 388.6 L1456.5 390.1 L1457.9 391.6 L1459.2 393.1 L1460.6 394.6 L1462.0 396.0 L1463.4 397.4 L1464.8 398.8 L1466.2 400.2 L1467.7 401.7 L1469.1 403.1 L1470.5 404.5 L1472.0 405.8 L1473.4 407.2 L1474.9 408.6 L1476.3 409.9 L1477.8 411.3 L1479.4 412.6 L1480.9 413.8 L1482.5 415.0 L1484.1 416.2 L1485.8 417.4 L1487.4 418.5 L1489.1 419.6 L1490.7 420.7 L1492.4 421.8 L1494.1 423.0 L1495.7 424.1 L1497.4 425.2 L1499.0 426.3 L1500.7 427.4 L1502.4 428.5 L1504.1 429.5 L1505.8 430.6 L1507.6 431.6 L1509.3 432.5 L1511.1 433.4 L1512.9 434.3 L1514.7 435.2 L1516.5 436.1 L1518.3 436.9 L1520.1 437.7 L1522.0 438.5 L1523.8 439.3 L1525.7 440.1 L1527.5 440.8 L1529.4 441.5 L1531.3 442.2 L1533.1 442.9 L1535.0 443.6 L1536.9 444.2 L1538.8 444.8 L1540.7 445.4 L1542.6 446.0 L1544.6 446.6 L1546.5 447.1 L1548.4 447.7 L1550.4 448.2 L1552.3 448.7 L1554.2 449.1 L1556.2 449.6 L1558.1 450.1 L1560.1 450.5 L1562.0 451.0 L1564.0 451.4 L1565.9 451.8 L1567.9 452.2 L1569.9 452.7 L1571.8 453.1 L1573.8 453.5 L1575.7 453.9 L1577.7 454.3 L1579.7 454.7 L1581.6 455.1 L1583.6 455.5 L1585.5 455.9 L1587.5 456.4 L1589.4 457.0 L1591.3 457.5 L1593.2 458.1 L1595.2 458.6 L1597.1 459.0 L1599.1 459.4 L1601.1 459.8 L1603.0 460.1 L1605.0 460.4 L1607.0 460.6 L1609.0 460.8 L1611.0 461.0 L1613.0 461.2 L1615.0 461.4 L1617.0 461.6 L1619.0 461.7 L1621.0 461.9 L1622.9 462.1 L1624.9 462.2 L1626.9 462.3 L1628.9 462.4 L1630.9 462.5 L1632.9 462.6 L1634.9 462.7 L1636.9 462.7 L1638.9 462.7 L1640.9 462.7 L1642.9 462.6 L1644.9 462.6 L1646.9 462.5 L1648.9 462.4 L1650.9 462.3 L1652.9 462.1 L1654.9 462.0 L1656.9 461.8 L1658.9 461.6 L1660.9 461.3 L1662.9 461.1 L1664.9 460.8 L1666.8 460.5 L1668.8 460.2 L1670.8 459.9 L1672.8 459.6 L1674.7 459.2 L1676.7 458.8 L1678.7 458.5 L1680.6 458.1 L1682.6 457.7 L1684.6 457.3 L1686.5 456.9 L1688.5 456.4 L1690.4 456.0 L1692.4 455.5 L1694.3 455.0 L1696.2 454.4 L1698.1 453.8 L1700.0 453.1 L1701.9 452.4 L1703.7 451.7 L1705.6 451.0 L1707.4 450.2 L1709.3 449.4 L1711.1 448.6 L1713.0 447.8 L1714.8 447.0 L1716.7 446.3 L1718.5 445.5 L1720.4 444.8 L1722.2 444.0 L1724.1 443.3 L1726.0 442.6 L1727.8 441.9 L1729.7 441.2 L1731.6 440.5 L1733.5 439.9 L1735.4 439.2 L1737.3 438.6 L1739.2 438.0 L1741.1 437.4 L1743.0 436.8 L1744.9 436.2 L1746.8 435.7 L1748.8 435.1 L1750.7 434.6 L1752.6 434.1 L1754.6 433.7 L1756.5 433.2 L1758.5 432.8 L1760.5 432.4 L1762.4 432.1 L1764.4 431.7 L1766.4 431.4 L1768.4 431.1 L1770.3 430.8 L1772.3 430.6 L1774.3 430.4 L1776.3 430.2 L1778.3 430.0 L1780.3 429.9 L1782.3 429.8 L1784.3 429.7 L1786.3 429.7 L1788.3 429.7 L1790.3 429.8 L1792.3 429.9 L1794.3 430.0 L1796.3 430.2 L1798.3 430.4 L1800.3 430.7 L1802.2 431.0 L1804.2 431.4 L1806.2 431.8 L1808.1 432.2 L1810.1 432.7 L1812.0 433.2 L1813.9 433.8 L1815.8 434.4 L1817.7 435.0 L1819.6 435.7 L1821.5 436.4 L1823.3 437.1 L1825.2 437.9 L1827.0 438.6 L1828.9 439.3 M1379.0 198.6 L1380.6 199.7 L1382.3 200.8 L1383.9 202.0 L1385.6 203.1 L1387.2 204.3 L1388.9 205.4 L1390.5 206.5 L1392.2 207.6 L1393.8 208.8 L1395.5 209.9 L1397.1 211.1 L1398.7 212.2 L1400.3 213.4 L1401.9 214.7 L1403.5 215.9 L1405.0 217.2 L1406.6 218.5 L1408.1 219.8 L1409.6 221.1 L1411.0 222.5 L1412.5 223.9 L1413.9 225.3 L1415.3 226.8 L1416.6 228.2 L1417.9 229.8 L1419.1 231.3 L1420.3 232.9 L1421.5 234.6 L1422.6 236.3 L1423.7 237.9 L1424.7 239.6 L1425.8 241.4 L1426.8 243.1 L1427.7 244.9 L1428.6 246.6 L1429.5 248.4 L1430.3 250.3 L1431.1 252.1 L1431.9 253.9 L1432.7 255.8 L1433.4 257.6 L1434.2 259.5 L1434.9 261.4 L1435.6 263.2 L1436.4 265.1 L1437.1 267.0 L1437.8 268.9 L1438.5 270.7 L1439.2 272.6 L1439.9 274.5 L1440.6 276.4 L1441.3 278.2 L1442.0 280.1 L1442.7 282.0 L1443.5 283.8 L1444.2 285.7 M1491.2 368.5 L1492.5 370.0 L1493.9 371.4 L1495.3 372.9 L1496.6 374.3 L1498.0 375.8 L1499.5 377.2 L1500.9 378.6 L1502.3 380.0 L1503.8 381.4 L1505.3 382.7 L1506.8 384.1 L1508.3 385.4 L1509.8 386.7 L1511.3 388.0 L1512.8 389.3 L1514.3 390.6 L1515.9 391.9 L1517.4 393.2 L1519.0 394.4 L1520.5 395.7 L1522.1 396.9 L1523.7 398.1 L1525.3 399.3 L1527.0 400.5 L1528.6 401.6 L1530.3 402.7 L1532.0 403.8 L1533.7 404.9 L1535.4 405.9 L1537.1 406.9 L1538.8 407.9 L1540.6 408.9 L1542.3 409.9 L1544.1 410.8 L1545.9 411.7 L1547.7 412.6 L1549.5 413.5 L1551.3 414.4 L1553.1 415.2 L1554.9 416.0 L1556.8 416.8 L1558.6 417.6 L1560.5 418.3 L1562.4 419.0 L1564.2 419.7 L1566.1 420.4 L1568.0 421.0 L1569.9 421.6 L1571.9 422.1 L1573.8 422.7 L1575.7 423.2 L1577.7 423.7 L1579.6 424.2 L1581.6 424.6 L1583.5 425.1 L1585.5 425.5 L1587.4 426.0 L1589.4 426.4 L1591.3 426.8 L1593.3 427.3 L1595.2 427.7 L1597.2 428.1 L1599.2 428.5 L1601.1 429.0 L1603.1 429.3 L1605.1 429.7 L1607.0 430.1 L1609.0 430.4 L1611.0 430.7 L1613.0 430.9 L1615.0 431.1 L1617.0 431.3 L1619.0 431.5 L1621.0 431.6 L1623.0 431.8 L1625.0 431.9 L1627.0 432.0 L1629.0 432.0 L1631.0 432.1 L1633.0 432.1 L1635.0 432.2 L1637.0 432.2 L1639.0 432.2 L1641.0 432.2 L1643.0 432.1 L1645.0 432.1 L1647.0 432.0 L1649.0 432.0 L1651.0 431.9 L1653.0 431.7 L1655.0 431.6 L1657.0 431.4 L1659.0 431.3 L1661.0 431.0 L1663.0 430.8 L1664.9 430.6 L1666.9 430.3 L1668.9 430.0 L1670.9 429.7 L1672.9 429.3 L1674.8 429.0 L1676.8 428.6 L1678.8 428.3 L1680.7 427.9 L1682.7 427.5 L1684.7 427.0 L1686.6 426.6 L1688.6 426.2 L1690.5 425.7 L1692.5 425.3 L1694.4 424.8 L1696.4 424.3 L1698.3 423.8 L1700.2 423.3 L1702.2 422.8 L1704.1 422.3 L1706.1 421.8 L1708.0 421.3 L1709.9 420.8 L1711.9 420.3 L1713.8 419.8 L1715.7 419.3 L1717.7 418.7 L1719.6 418.2 L1721.5 417.7 L1723.5 417.2 L1725.4 416.7 L1727.4 416.2 L1729.3 415.7 L1731.2 415.2 L1733.2 414.7 L1735.1 414.2 L1737.1 413.7 L1739.0 413.2 L1740.9 412.7 L1742.9 412.2 L1744.9 411.8 L1746.8 411.4 L1748.8 411.0 L1750.7 410.6 L1752.7 410.2 L1754.7 409.8 L1756.6 409.4 L1758.6 409.1 L1760.6 408.8 L1762.6 408.4 L1764.5 408.2 L1766.5 407.9 L1768.5 407.7 L1770.5 407.4 L1772.5 407.2 L1774.5 407.1 L1776.5 406.9 L1778.5 406.8 L1780.5 406.7 L1782.5 406.6 L1784.5 406.6 L1786.5 406.6 L1788.5 406.6 L1790.5 406.7 L1792.5 406.8 L1794.5 406.9 L1796.5 407.0 L1798.5 407.2 L1800.5 407.4 L1802.5 407.7 L1804.5 408.0 L1806.4 408.3 L1808.4 408.6 L1810.4 409.0 L1812.3 409.4 L1814.3 409.8 L1816.3 410.2 L1818.2 410.7 L1820.2 411.1 L1822.1 411.6 L1824.0 412.1 L1826.0 412.6 L1827.9 413.1 L1828.9 413.3 M1429.3 198.6 L1430.3 200.3 L1431.2 202.1 L1432.2 203.8 L1433.2 205.6 L1434.2 207.3 L1435.1 209.1 L1436.1 210.8 L1437.1 212.6 L1438.1 214.3 L1439.0 216.1 L1440.0 217.8 L1440.9 219.6 L1441.9 221.4 L1442.8 223.1 L1443.7 224.9 L1444.6 226.7 L1445.5 228.5 L1446.3 230.3 L1447.2 232.1 L1448.0 234.0 L1448.8 235.8 L1449.6 237.6 L1450.4 239.5 L1451.3 241.3 L1452.1 243.1 L1453.0 244.9 L1454.0 246.6 L1455.0 248.4 L1456.0 250.1 L1457.1 251.8 L1458.1 253.5 L1459.1 255.3 L1460.0 257.0 L1460.9 258.8 L1461.8 260.6 L1462.6 262.5 L1463.4 264.3 L1464.3 266.1 L1465.2 267.9 L1466.0 269.7 L1466.9 271.5 L1467.8 273.3 L1468.8 275.0 L1469.7 276.8 L1470.7 278.6 L1471.6 280.4 L1472.5 282.1 L1473.5 283.9 L1474.4 285.7 L1475.4 287.4 L1476.3 289.2 L1477.2 291.0 L1478.2 292.7 L1479.1 294.5 L1480.1 296.3 L1481.0 298.0 L1482.0 299.8 L1483.0 301.5 L1483.9 303.3 L1484.9 305.0 L1485.9 306.8 L1486.9 308.5 L1487.9 310.3 L1488.9 312.0 L1489.9 313.7 L1491.0 315.4 L1492.0 317.2 L1493.0 318.9 L1494.0 320.6 L1495.0 322.4 L1496.0 324.1 L1497.0 325.8 L1498.0 327.6 L1499.1 329.2 L1500.2 330.9 L1501.4 332.5 L1502.5 334.2 L1503.8 335.7 L1505.0 337.3 L1506.3 338.9 L1507.6 340.4 L1508.8 341.9 L1510.1 343.5 L1511.4 345.0 L1512.7 346.5 L1514.0 348.0 L1515.4 349.5 L1516.7 351.0 L1518.1 352.5 L1519.4 354.0 L1520.8 355.4 L1522.2 356.9 L1523.6 358.3 L1525.0 359.8 L1526.4 361.2 L1527.9 362.5 L1529.3 363.9 L1530.8 365.2 L1532.4 366.5 L1533.9 367.8 L1535.5 369.0 L1537.1 370.2 L1538.7 371.4 L1540.3 372.6 L1541.9 373.8 L1543.5 375.0 L1545.2 376.2 L1546.8 377.3 L1548.5 378.4 L1550.2 379.5 L1551.9 380.5 L1553.6 381.5 L1555.4 382.5 L1557.1 383.5 L1558.9 384.4 L1560.7 385.3 L1562.5 386.2 L1564.3 387.0 L1566.1 387.8 L1568.0 388.6 L1569.8 389.4 L1571.7 390.2 L1573.5 390.9 L1575.4 391.6 L1577.3 392.2 L1579.2 392.9 L1581.1 393.5 L1583.0 394.1 L1584.9 394.7 L1586.8 395.3 L1588.8 395.9 L1590.7 396.5 L1592.6 397.1 L1594.5 397.6 L1596.4 398.2 L1598.4 398.8 L1600.3 399.3 L1602.2 399.9 L1604.1 400.4 L1606.1 400.9 L1608.0 401.4 L1610.0 401.8 L1611.9 402.2 L1613.9 402.5 L1615.9 402.8 L1617.9 403.1 L1619.9 403.3 L1621.9 403.5 L1623.9 403.7 L1625.9 403.9 L1627.9 404.0 L1629.9 404.2 L1631.9 404.3 L1633.9 404.3 L1635.9 404.4 L1637.9 404.5 L1639.9 404.5 L1641.9 404.5 L1643.9 404.5 L1645.9 404.4 L1647.9 404.3 L1649.9 404.3 L1651.9 404.1 L1653.9 404.0 L1655.9 403.9 L1657.9 403.7 L1659.9 403.5 L1661.9 403.3 L1663.9 403.0 L1665.8 402.8 L1667.8 402.5 L1669.8 402.2 L1671.8 401.8 L1673.8 401.5 L1675.7 401.1 L1677.7 400.8 L1679.7 400.4 L1681.6 400.0 L1683.6 399.6 L1685.5 399.2 L1687.5 398.7 L1689.5 398.3 L1691.4 397.9 L1693.4 397.4 L1695.3 397.0 L1697.3 396.5 L1699.2 396.1 L1701.2 395.6 L1703.1 395.2 L1705.1 394.7 L1707.0 394.2 L1709.0 393.8 L1710.9 393.3 L1712.9 392.8 L1714.8 392.4 L1716.8 391.9 L1718.7 391.4 L1720.7 391.0 L1722.6 390.5 L1724.6 390.1 L1726.5 389.7 L1728.5 389.2 L1730.5 388.8 L1732.4 388.5 L1734.4 388.1 L1736.4 387.7 L1738.3 387.4 L1740.3 387.0 L1742.3 386.7 L1744.3 386.4 L1746.2 386.1 L1748.2 385.8 L1750.2 385.5 L1752.2 385.2 L1754.2 384.9 L1756.2 384.7 L1758.2 384.5 L1760.1 384.2 L1762.1 384.0 L1764.1 383.9 L1766.1 383.7 L1768.1 383.6 L1770.1 383.5 L1772.1 383.4 L1774.1 383.3 L1776.1 383.2 L1778.1 383.2 L1780.1 383.2 L1782.1 383.1 L1784.1 383.1 L1786.2 383.1 L1788.2 383.2 L1790.2 383.2 L1792.2 383.2 L1794.2 383.3 L1796.2 383.4 L1798.2 383.5 L1800.2 383.6 L1802.2 383.7 L1804.2 383.8 L1806.2 384.0 L1808.2 384.2 L1810.2 384.3 L1812.1 384.6 L1814.1 384.8 L1816.1 385.1 L1818.1 385.4 L1820.1 385.8 L1822.0 386.1 L1824.0 386.5 L1826.0 386.9 L1827.9 387.3 L1828.9 387.5 M1460.1 198.6 L1461.0 200.4 L1461.9 202.1 L1462.8 203.9 L1463.6 205.7 L1464.5 207.6 L1465.4 209.4 L1466.2 211.2 L1467.0 213.0 L1467.9 214.8 L1468.7 216.6 L1469.5 218.5 L1470.3 220.3 L1471.2 222.1 L1472.0 224.0 L1472.8 225.8 L1473.6 227.6 L1474.5 229.4 L1475.3 231.3 L1476.1 233.1 L1477.0 234.9 L1477.8 236.7 L1478.7 238.5 L1479.6 240.3 L1480.5 242.1 L1481.4 243.9 L1482.3 245.7 L1483.2 247.5 L1484.1 249.3 L1485.0 251.0 L1485.9 252.8 L1486.8 254.6 L1487.7 256.4 L1488.6 258.2 L1489.4 260.0 L1490.3 261.8 L1491.2 263.6 L1492.1 265.4 L1493.0 267.2 L1493.9 269.0 L1494.8 270.8 L1495.7 272.6 L1496.6 274.3 L1497.6 276.1 L1498.6 277.8 L1499.5 279.6 L1500.5 281.3 L1501.5 283.1 L1502.5 284.8 L1503.6 286.5 L1504.6 288.2 M1589.8 367.4 L1591.6 368.1 L1593.5 368.9 L1595.3 369.7 L1597.2 370.5 L1599.0 371.3 L1600.9 372.0 L1602.8 372.7 L1604.7 373.3 L1606.6 373.9 L1608.5 374.5 L1610.4 375.0 L1612.4 375.4 L1614.3 375.9 L1616.3 376.3 L1618.3 376.6 L1620.2 376.9 L1622.2 377.2 L1624.2 377.5 L1626.2 377.7 L1628.2 377.9 L1630.2 378.0 L1632.2 378.2 L1634.2 378.3 L1636.2 378.3 L1638.2 378.4 L1640.2 378.4 L1642.2 378.4 L1644.2 378.4 L1646.2 378.3 L1648.2 378.2 L1650.2 378.1 L1652.2 378.0 L1654.2 377.8 L1656.2 377.6 L1658.2 377.4 L1660.2 377.2 L1662.2 376.9 L1664.2 376.6 L1666.1 376.3 L1668.1 376.0 L1670.1 375.6 L1672.1 375.3 L1674.0 374.9 L1676.0 374.6 L1678.0 374.2 L1679.9 373.8 L1681.9 373.4 L1683.8 373.0 L1685.8 372.6 L1687.8 372.1 L1689.7 371.7 L1691.7 371.3 L1693.6 370.8 L1695.6 370.4 L1697.6 370.0 L1699.5 369.6 L1701.5 369.2 L1703.4 368.8 L1705.4 368.3 L1707.4 367.9 L1709.3 367.5 L1711.3 367.1 L1713.2 366.7 L1715.2 366.4 L1717.2 366.0 L1719.2 365.6 L1721.1 365.3 L1723.1 365.0 L1725.1 364.6 L1727.1 364.3 L1729.0 364.0 L1731.0 363.7 L1733.0 363.4 L1735.0 363.1 L1737.0 362.8 L1738.9 362.6 L1740.9 362.4 L1742.9 362.1 L1744.9 361.9 L1746.9 361.7 L1748.9 361.5 L1750.9 361.3 L1752.9 361.1 L1754.9 360.9 L1756.9 360.8 L1758.9 360.6 L1760.9 360.5 L1762.9 360.3 L1764.9 360.2 L1766.9 360.1 L1768.9 360.0 L1770.9 359.9 L1772.9 359.8 L1774.9 359.7 L1776.9 359.7 L1778.9 359.6 L1780.9 359.6 L1782.9 359.6 L1784.9 359.6 L1786.9 359.6 L1788.9 359.6 L1790.9 359.6 L1792.9 359.6 L1794.9 359.7 L1796.9 359.7 L1798.9 359.8 L1800.9 359.9 L1802.9 359.9 L1804.9 360.0 L1806.9 360.1 L1808.9 360.2 L1810.9 360.3 L1812.9 360.4 L1814.9 360.5 L1816.9 360.7 L1818.9 360.8 L1820.9 360.9 L1822.9 361.1 L1824.9 361.2 L1826.9 361.3 L1828.9 361.5 M1487.2 198.6 L1487.9 200.4 L1488.7 202.2 L1489.5 204.1 L1490.3 205.9 L1491.1 207.8 L1491.9 209.6 L1492.6 211.4 L1493.4 213.3 L1494.1 215.1 L1494.9 217.0 L1495.7 218.8 L1496.5 220.7 L1497.2 222.5 L1498.0 224.4 L1498.8 226.2 L1499.6 228.0 L1500.5 229.8 L1501.3 231.7 L1502.1 233.5 L1503.0 235.3 L1503.8 237.1 L1504.7 238.9 L1505.5 240.7 L1506.3 242.6 L1507.2 244.4 L1508.0 246.2 L1508.9 248.0 L1509.7 249.8 L1510.6 251.6 L1511.4 253.4 L1512.3 255.2 L1513.2 257.0 L1514.1 258.8 L1515.0 260.6 L1515.9 262.4 L1516.9 264.1 L1517.8 265.9 L1518.8 267.6 L1519.8 269.4 L1520.8 271.1 L1521.8 272.8 L1522.8 274.6 L1523.9 276.3 L1524.9 278.0 L1526.0 279.6 L1527.1 281.3 L1528.2 283.0 L1529.3 284.7 L1530.4 286.3 L1531.5 288.0 L1532.7 289.6 L1533.8 291.3 L1535.0 292.9 L1536.1 294.5 L1537.3 296.2 L1538.5 297.8 L1539.7 299.4 L1540.9 301.0 L1542.1 302.5 L1543.3 304.1 L1544.6 305.7 L1545.9 307.2 L1547.2 308.7 L1548.5 310.2 L1549.9 311.7 L1551.3 313.1 L1552.7 314.5 L1554.1 315.9 L1555.5 317.3 L1557.0 318.7 L1558.5 320.0 L1560.0 321.3 L1561.6 322.5 L1563.2 323.7 L1564.8 324.9 L1566.4 326.1 L1568.1 327.2 L1569.7 328.3 L1571.4 329.5 L1573.1 330.5 L1574.8 331.6 L1576.5 332.7 L1578.2 333.7 L1579.9 334.7 L1581.7 335.7 L1583.4 336.7 L1585.1 337.7 L1586.9 338.6 L1588.7 339.6 L1590.4 340.5 L1592.2 341.3 L1594.1 342.1 L1595.9 342.9 L1597.8 343.7 L1599.6 344.4 L1601.5 345.1 L1603.4 345.8 L1605.2 346.5 L1607.1 347.2 L1609.0 348.0 L1610.8 348.7 L1612.7 349.4 L1614.6 350.1 L1616.5 350.7 L1618.4 351.3 L1620.3 351.8 L1622.3 352.1 L1624.3 352.5 L1626.3 352.7 L1628.3 352.9 L1630.2 353.0 L1632.2 353.1 L1634.2 353.1 L1636.2 353.2 L1638.2 353.2 L1640.2 353.2 L1642.2 353.1 L1644.2 353.1 L1646.2 353.0 L1648.2 352.9 L1650.2 352.7 L1652.2 352.5 L1654.2 352.4 L1656.2 352.1 L1658.2 351.9 L1660.2 351.6 L1662.2 351.4 L1664.1 351.1 L1666.1 350.8 L1668.1 350.5 L1670.1 350.2 L1672.0 349.8 L1674.0 349.5 L1676.0 349.1 L1677.9 348.7 L1679.9 348.3 L1681.9 348.0 L1683.8 347.6 L1685.8 347.2 L1687.8 346.8 L1689.7 346.5 L1691.7 346.1 L1693.7 345.7 L1695.6 345.3 L1697.6 345.0 L1699.5 344.6 L1701.5 344.2 L1703.5 343.8 L1705.4 343.5 L1707.4 343.1 L1709.4 342.8 L1711.4 342.4 L1713.3 342.1 L1715.3 341.7 L1717.3 341.4 L1719.2 341.1 L1721.2 340.7 L1723.2 340.4 L1725.2 340.1 L1727.1 339.8 L1729.1 339.5 L1731.1 339.2 L1733.1 338.9 L1735.1 338.7 L1737.0 338.4 L1739.0 338.2 L1741.0 337.9 L1743.0 337.7 L1745.0 337.5 L1747.0 337.3 L1749.0 337.1 L1751.0 336.9 L1753.0 336.7 L1755.0 336.6 L1757.0 336.4 L1758.9 336.3 L1760.9 336.2 L1762.9 336.0 L1764.9 335.9 L1766.9 335.8 L1768.9 335.7 L1770.9 335.6 L1772.9 335.5 L1774.9 335.4 L1776.9 335.4 L1778.9 335.3 L1780.9 335.2 L1782.9 335.2 L1784.9 335.1 L1786.9 335.1 L1788.9 335.1 L1790.9 335.1 L1792.9 335.1 L1794.9 335.1 L1796.9 335.1 L1798.9 335.1 L1800.9 335.1 L1802.9 335.2 L1804.9 335.2 L1806.9 335.3 L1808.9 335.3 L1810.9 335.4 L1812.9 335.5 L1814.9 335.5 L1816.9 335.6 L1818.9 335.7 L1820.9 335.8 L1822.9 335.9 L1824.9 336.0 L1826.9 336.1 L1828.9 336.2 M1512.3 198.6 L1513.1 200.4 L1513.9 202.2 L1514.7 204.1 L1515.5 205.9 L1516.2 207.8 L1517.0 209.6 L1517.8 211.5 L1518.5 213.3 L1519.3 215.2 L1520.1 217.0 L1520.8 218.9 L1521.6 220.7 L1522.4 222.5 L1523.2 224.4 L1524.0 226.2 L1524.8 228.1 L1525.6 229.9 L1526.4 231.7 L1527.3 233.5 L1528.1 235.3 L1529.0 237.1 L1529.9 238.9 L1530.8 240.7 L1531.8 242.5 L1532.7 244.2 L1533.7 246.0 L1534.7 247.7 L1535.6 249.5 L1536.6 251.2 L1537.6 253.0 L1538.5 254.8 L1539.4 256.5 L1540.4 258.3 L1541.3 260.1 L1542.3 261.8 L1543.3 263.5 L1544.3 265.3 L1545.3 267.0 L1546.4 268.7 L1547.5 270.3 L1548.6 272.0 L1549.8 273.7 L1550.9 275.3 L1552.0 277.0 L1553.1 278.6 L1554.3 280.3 L1555.4 281.9 L1556.6 283.5 L1557.9 285.0 L1559.3 286.5 M1669.1 327.1 L1671.1 326.9 L1673.1 326.7 L1675.1 326.4 L1677.1 326.2 L1679.0 325.9 L1681.0 325.5 L1683.0 325.2 L1685.0 324.9 L1686.9 324.5 L1688.9 324.1 L1690.9 323.8 L1692.8 323.4 L1694.8 323.0 L1696.8 322.5 L1698.7 322.1 L1700.7 321.7 L1702.6 321.2 L1704.6 320.7 L1706.5 320.3 L1708.5 319.8 L1710.4 319.4 L1712.4 318.9 L1714.3 318.5 L1716.3 318.1 L1718.2 317.7 L1720.2 317.3 L1722.2 316.9 L1724.1 316.6 L1726.1 316.2 L1728.1 315.9 L1730.0 315.5 L1732.0 315.2 L1734.0 314.9 L1736.0 314.6 L1738.0 314.4 L1740.0 314.1 L1741.9 313.8 L1743.9 313.6 L1745.9 313.4 L1747.9 313.1 L1749.9 312.9 L1751.9 312.7 L1753.9 312.5 L1755.9 312.4 L1757.9 312.2 L1759.9 312.1 L1761.9 311.9 L1763.9 311.8 L1765.9 311.7 L1767.9 311.6 L1769.9 311.5 L1771.9 311.4 L1773.9 311.3 L1775.9 311.2 L1777.9 311.2 L1779.9 311.2 L1781.9 311.1 L1783.9 311.1 L1785.9 311.1 L1787.9 311.1 L1789.9 311.1 L1791.9 311.1 L1793.9 311.0 L1795.9 311.0 L1797.9 311.0 L1799.9 311.0 L1801.9 310.9 L1803.9 310.9 L1805.9 310.9 L1807.9 310.8 L1809.9 310.8 L1811.9 310.8 L1813.9 310.7 L1815.9 310.7 L1817.9 310.7 L1819.9 310.6 L1821.9 310.6 L1823.9 310.6 L1825.9 310.6 L1827.9 310.5 L1828.9 310.5 M1536.2 198.6 L1536.9 200.4 L1537.6 202.3 L1538.3 204.2 L1539.0 206.1 L1539.8 207.9 L1540.5 209.8 L1541.2 211.7 L1542.0 213.5 L1542.7 215.4 L1543.5 217.2 L1544.3 219.1 L1545.0 220.9 L1545.8 222.8 L1546.7 224.6 L1547.5 226.4 L1548.4 228.2 L1549.3 230.0 L1550.2 231.8 L1551.1 233.6 L1552.0 235.4 L1552.9 237.2 L1553.7 239.0 L1554.5 240.9 L1555.2 242.7 L1556.0 244.6 L1556.7 246.5 L1557.5 248.3 L1558.3 250.1 L1559.2 251.9 L1560.1 253.7 L1561.1 255.5 L1562.0 257.2 L1563.0 259.0 L1564.0 260.7 L1565.1 262.4 L1566.1 264.1 L1567.2 265.8 L1568.3 267.5 L1569.4 269.1 L1570.7 270.7 L1571.9 272.3 L1573.3 273.8 L1574.7 275.2 L1576.1 276.6 L1577.7 277.8 L1579.3 279.0 L1580.9 280.2 L1582.5 281.4 L1584.0 282.7 L1585.5 284.0 L1587.1 285.3 L1588.6 286.6 L1590.2 287.8 L1591.8 289.0 L1593.4 290.2 L1595.1 291.3 L1596.7 292.5 L1598.3 293.7 L1599.9 294.9 L1601.6 296.0 L1603.3 297.0 L1605.1 297.9 L1606.9 298.8 L1608.7 299.6 L1610.6 300.3 L1612.5 301.0 L1614.4 301.6 L1616.3 302.1 L1618.3 302.6 L1620.3 302.9 L1622.2 303.2 L1624.2 303.5 L1626.2 303.7 L1628.2 303.9 L1630.2 304.0 L1632.2 304.1 L1634.2 304.2 L1636.2 304.2 L1638.2 304.2 L1640.2 304.1 L1642.2 303.9 L1644.2 303.8 L1646.2 303.6 L1648.2 303.4 L1650.2 303.1 L1652.2 302.9 L1654.2 302.6 L1656.2 302.3 L1658.1 301.9 L1660.1 301.6 L1662.1 301.2 L1664.1 300.8 L1666.0 300.4 L1668.0 300.0 L1669.9 299.6 L1671.9 299.1 L1673.8 298.6 L1675.8 298.2 L1677.7 297.7 L1679.7 297.2 L1681.6 296.8 L1683.6 296.3 L1685.5 295.8 L1687.5 295.4 L1689.4 294.9 L1691.4 294.4 L1693.3 294.0 L1695.3 293.5 L1697.3 293.1 L1699.2 292.6 L1701.2 292.2 L1703.1 291.8 L1705.1 291.3 L1707.0 290.9 L1709.0 290.5 L1711.0 290.1 L1712.9 289.7 L1714.9 289.3 L1716.9 288.9 L1718.8 288.6 L1720.8 288.2 L1722.8 287.9 L1724.8 287.6 L1726.8 287.3 L1728.8 287.1 L1730.8 286.8 L1732.7 286.6 L1734.7 286.4 L1736.7 286.2 L1738.7 286.0 L1740.7 285.8 L1742.7 285.6 L1744.7 285.5 L1746.7 285.3 L1748.7 285.2 L1750.7 285.0 L1752.7 284.9 L1754.7 284.8 L1756.7 284.7 L1758.7 284.6 L1760.7 284.5 L1762.7 284.5 L1764.8 284.4 L1766.8 284.4 L1768.8 284.4 L1770.8 284.4 L1772.8 284.3 L1774.8 284.3 L1776.8 284.3 L1778.8 284.4 L1780.8 284.4 L1782.8 284.4 L1784.8 284.4 L1786.8 284.5 L1788.8 284.5 L1790.8 284.5 L1792.8 284.6 L1794.8 284.6 L1796.8 284.6 L1798.8 284.6 L1800.9 284.6 L1802.9 284.6 L1804.9 284.5 L1806.9 284.5 L1808.9 284.5 L1810.9 284.5 L1812.9 284.4 L1814.9 284.4 L1816.9 284.3 L1818.9 284.2 L1820.9 284.1 L1822.9 284.0 L1824.9 283.9 L1826.9 283.8 L1828.9 283.7 M1559.5 198.6 L1560.2 200.4 L1560.8 202.3 L1561.5 204.2 L1562.2 206.1 L1562.9 208.0 L1563.6 209.8 L1564.4 211.7 L1565.1 213.6 L1565.8 215.4 L1566.6 217.3 L1567.3 219.1 L1568.1 221.0 L1568.9 222.8 L1569.7 224.7 L1570.4 226.5 L1571.3 228.4 L1572.1 230.2 L1573.0 232.0 L1573.9 233.8 L1574.8 235.5 L1575.8 237.3 L1576.8 239.0 L1577.8 240.7 L1578.8 242.5 L1579.8 244.2 L1580.7 246.0 L1581.6 247.8 L1582.6 249.6 L1583.5 251.3 L1584.5 253.1 L1585.4 254.8 L1586.4 256.6 L1587.5 258.3 L1588.6 259.9 L1589.8 261.5 L1591.1 263.1 L1592.4 264.6 L1593.7 266.1 L1595.1 267.5 L1596.6 268.9 L1598.1 270.2 L1599.6 271.5 L1601.2 272.7 L1602.8 273.8 L1604.5 274.9 L1606.3 275.9 L1608.1 276.7 L1609.9 277.5 L1611.8 278.2 L1613.7 278.8 L1615.7 279.3 L1617.6 279.7 L1619.6 280.1 L1621.6 280.4 L1623.6 280.6 L1625.5 280.8 L1627.5 280.8 L1629.5 280.9 L1631.5 280.8 L1633.5 280.7 L1635.5 280.6 L1637.5 280.4 L1639.5 280.1 L1641.5 279.8 L1643.5 279.5 L1645.4 279.1 L1647.4 278.7 L1649.4 278.3 L1651.3 277.9 L1653.3 277.4 L1655.2 277.0 L1657.2 276.5 L1659.1 276.1 L1661.1 275.6 L1663.0 275.1 L1665.0 274.6 L1666.9 274.1 L1668.8 273.6 L1670.8 273.1 L1672.7 272.6 L1674.7 272.1 L1676.6 271.6 L1678.6 271.1 L1680.5 270.7 L1682.4 270.2 L1684.4 269.7 L1686.3 269.2 L1688.3 268.7 L1690.2 268.2 L1692.1 267.6 L1694.1 267.1 L1696.0 266.5 L1697.9 266.0 L1699.8 265.4 L1701.8 264.9 L1703.7 264.3 L1705.6 263.8 L1707.6 263.3 L1709.5 262.8 L1711.4 262.3 L1713.4 261.8 L1715.3 261.3 L1717.3 260.8 L1719.2 260.4 L1721.2 259.9 L1723.1 259.5 L1725.1 259.1 L1727.0 258.7 L1729.0 258.3 L1731.0 258.0 L1733.0 257.7 L1734.9 257.4 L1736.9 257.1 L1738.9 256.8 L1740.9 256.6 L1742.9 256.4 L1744.9 256.2 L1746.9 256.0 L1748.9 255.9 L1750.9 255.8 L1752.9 255.7 L1754.9 255.6 L1756.9 255.5 L1758.9 255.5 L1760.9 255.4 L1762.9 255.4 L1764.9 255.4 L1766.9 255.4 L1768.9 255.5 L1770.9 255.5 L1772.9 255.6 L1774.9 255.6 L1776.9 255.7 L1778.9 255.8 L1780.9 255.9 L1782.9 256.0 L1784.9 256.1 L1786.9 256.2 L1788.9 256.3 L1790.9 256.5 L1792.9 256.6 L1794.9 256.7 L1796.9 256.9 L1798.9 257.0 L1800.9 257.2 L1802.9 257.3 L1804.9 257.4 L1806.9 257.5 L1808.9 257.7 L1810.9 257.8 L1812.9 257.8 L1814.9 257.9 L1816.9 257.9 L1818.9 257.8 L1820.9 257.7 L1822.9 257.6 L1824.9 257.5 L1826.9 257.4 L1828.9 257.3 M1583.0 198.6 L1583.4 200.5 L1583.8 202.5 L1584.2 204.4 L1584.6 206.4 L1585.1 208.3 L1585.6 210.3 L1586.1 212.2 L1586.6 214.2 L1587.2 216.1 L1587.8 218.0 L1588.4 219.9 L1589.0 221.8 L1589.7 223.7 L1590.4 225.5 L1591.2 227.4 L1592.0 229.2 L1592.8 231.0 L1593.7 232.8 L1594.6 234.6 L1595.6 236.4 L1596.7 238.1 L1597.8 239.7 L1599.0 241.3 L1600.2 242.9 L1601.5 244.4 L1602.9 245.9 L1604.3 247.2 L1605.8 248.6 L1607.4 249.8 L1609.0 251.0 L1610.7 252.1 L1612.4 253.1 L1614.2 253.9 L1616.1 254.7 L1618.0 255.3 L1619.9 255.9 L1621.8 256.2 L1623.8 256.5 L1625.8 256.6 L1627.8 256.6 L1629.8 256.4 L1631.8 256.1 L1633.7 255.8 L1635.7 255.4 L1637.6 254.9 L1639.6 254.3 L1641.5 253.7 L1643.3 253.0 L1645.2 252.3 L1647.1 251.5 L1648.9 250.8 L1650.8 250.0 L1652.6 249.2 L1654.4 248.4 L1656.2 247.5 L1658.0 246.7 L1659.9 245.8 L1661.7 245.0 L1663.5 244.1 L1665.3 243.3 L1667.1 242.4 L1668.9 241.6 L1670.7 240.7 L1672.6 239.9 L1674.4 239.1 L1676.2 238.2 L1678.0 237.4 L1679.9 236.6 L1681.7 235.8 L1683.5 235.0 L1685.4 234.2 L1687.2 233.5 L1689.1 232.7 L1690.9 232.0 L1692.8 231.2 L1694.7 230.5 L1696.6 229.8 L1698.4 229.2 L1700.3 228.5 L1702.2 227.9 L1704.1 227.3 L1706.1 226.7 L1708.0 226.1 L1709.9 225.6 L1711.8 225.1 L1713.8 224.6 L1715.7 224.1 L1717.7 223.7 L1719.6 223.3 L1721.6 222.9 L1723.6 222.5 L1725.6 222.2 L1727.5 221.9 L1729.5 221.7 L1731.5 221.5 L1733.5 221.3 L1735.5 221.1 L1737.5 220.9 L1739.5 220.8 L1741.5 220.7 L1743.5 220.6 L1745.5 220.5 L1747.5 220.5 L1749.5 220.5 L1751.5 220.5 L1753.5 220.6 L1755.5 220.7 L1757.5 220.8 L1759.5 221.0 L1761.5 221.2 L1763.5 221.4 L1765.5 221.6 L1767.5 221.9 L1769.4 222.1 L1771.4 222.4 L1773.4 222.7 L1775.4 223.0 L1777.4 223.4 L1779.3 223.7 L1781.3 224.1 L1783.3 224.4 L1785.2 224.8 L1787.2 225.2 L1789.2 225.5 L1791.1 225.9 L1793.1 226.3 L1795.1 226.7 L1797.0 227.1 L1799.0 227.4 L1801.0 227.7 L1803.0 228.0 L1804.9 228.3 L1806.9 228.6 L1808.9 228.8 L1810.9 229.0 L1812.9 229.2 L1814.9 229.4 L1816.9 229.5 L1818.9 229.5 L1820.9 229.6 L1822.9 229.6 L1824.9 229.6 L1826.9 229.6 L1828.9 229.6 M1608.5 197.5 L1608.7 199.5 L1608.8 201.6 L1608.9 203.6 L1609.0 205.6 L1609.2 207.6 L1609.4 209.6 L1609.6 211.5 L1609.9 213.5 L1610.2 215.5 L1610.5 217.5 L1610.9 219.5 L1611.3 221.4 L1611.9 223.3 L1612.5 225.3 L1613.1 227.1 L1614.0 228.9 L1615.1 230.5 L1616.4 231.8 L1618.1 232.6 L1619.9 232.8 L1621.7 232.4 L1623.5 231.6 L1625.2 230.5 L1626.8 229.4 L1628.4 228.2 L1629.9 226.9 L1631.5 225.6 L1633.0 224.2 L1634.5 222.9 L1635.9 221.6 L1637.4 220.2 L1638.9 218.8 L1640.3 217.5 L1641.8 216.1 L1643.3 214.7 L1644.7 213.3 L1646.2 211.9 L1647.6 210.6 L1649.1 209.2 L1650.6 207.9 L1652.2 206.6 L1653.8 205.4 L1655.4 204.2 L1657.0 203.0 L1658.6 201.9 L1660.3 200.8 L1662.0 199.7 L1663.7 198.6 L1665.4 197.5 M1822.6 197.5 L1824.6 198.4 L1826.5 199.2 L1828.5 200.0 L1829.5 200.3 M1789.6 500.0 L1791.5 500.3 L1793.3 501.0 L1795.1 501.9 L1796.8 503.0 L1798.4 504.2 L1799.9 505.5 L1801.3 506.9 L1802.6 508.4 L1803.8 510.0 L1804.9 511.7 L1805.8 513.4 L1806.7 515.2 L1807.6 517.0 L1808.4 518.8 L1809.1 520.7 L1809.9 522.6 L1810.6 524.4 L1811.3 526.3 L1811.9 528.2 L1812.5 530.1 L1813.1 532.0 L1813.6 534.0 L1814.1 535.9 L1814.6 537.9 L1815.0 539.8 L1815.4 541.8 L1815.8 543.7 L1816.1 545.7 L1816.4 547.7 L1816.7 549.7 L1816.9 551.7 L1817.1 553.7 L1817.3 555.6 L1817.4 557.6 L1817.5 559.6 L1817.6 561.6 L1817.7 563.6 L1817.7 565.6 L1817.7 567.6 L1817.7 569.7 L1817.6 571.7 L1817.6 573.7 L1817.5 575.7 L1817.3 577.6 L1817.2 579.6 L1817.0 581.6 L1816.7 583.6 L1816.5 585.6 L1816.3 587.6 L1816.0 589.6 L1815.7 591.6 L1815.4 593.5 L1815.0 595.5 L1814.7 597.5 L1814.3 599.4 L1813.9 601.4 L1813.5 603.4 L1813.0 605.3 L1812.5 607.2 L1811.9 609.2 L1811.4 611.1 L1810.8 613.0 L1810.1 614.9 L1809.5 616.8 L1808.8 618.7 L1808.0 620.5 L1807.3 622.4 L1806.5 624.2 L1805.6 626.0 L1804.8 627.8 L1803.9 629.6 L1803.0 631.4 L1802.0 633.2 L1801.1 634.9 L1800.1 636.7 L1799.0 638.4 L1797.9 640.1 L1796.8 641.7 L1795.7 643.4 L1794.6 645.0 L1793.4 646.6 L1792.2 648.2 L1790.9 649.8 L1789.6 651.3 L1788.3 652.8 L1786.9 654.2 L1785.4 655.6 L1783.9 656.8 L1782.2 658.0 L1780.5 659.0 L1778.8 660.0 L1777.0 660.9 L1775.2 661.7 L1773.3 662.4 L1771.4 663.1 L1769.5 663.6 L1767.5 664.0 L1765.6 664.3 L1763.6 664.4 L1761.6 664.4 L1759.6 664.2 L1757.6 663.9 L1755.7 663.5 L1753.8 662.9 L1751.9 662.2 L1750.1 661.4 L1748.4 660.4 L1746.7 659.3 L1745.1 658.2 L1743.5 656.9 L1742.0 655.6 L1740.6 654.1 L1739.3 652.7 L1738.0 651.2 L1736.7 649.6 L1735.6 647.9 L1734.5 646.3 L1733.5 644.6 L1732.5 642.8 L1731.6 641.0 L1730.8 639.2 L1730.0 637.3 L1729.4 635.5 L1728.8 633.5 L1728.4 631.6 L1728.0 629.6 L1727.7 627.7 L1727.5 625.7 L1727.4 623.7 L1727.3 621.7 L1727.3 619.7 L1727.3 617.7 L1727.4 615.7 L1727.5 613.7 L1727.6 611.7 L1727.8 609.7 L1728.0 607.7 L1728.3 605.7 L1728.6 603.7 L1728.9 601.8 L1729.3 599.8 L1729.7 597.8 L1730.1 595.9 L1730.6 593.9 L1731.1 592.0 L1731.6 590.0 L1732.1 588.1 L1732.7 586.2 L1733.3 584.3 L1733.9 582.4 L1734.5 580.5 L1735.2 578.6 L1735.9 576.7 L1736.6 574.8 L1737.3 573.0 L1738.0 571.1 L1738.8 569.2 L1739.5 567.4 L1740.3 565.5 L1741.1 563.7 L1741.8 561.8 L1742.6 560.0 L1743.4 558.2 L1744.2 556.3 L1745.0 554.5 L1745.8 552.7 L1746.7 550.8 L1747.5 549.0 L1748.4 547.2 L1749.3 545.4 L1750.2 543.7 L1751.1 541.9 L1752.0 540.1 L1753.0 538.3 L1754.0 536.6 L1755.0 534.9 L1756.0 533.1 L1757.0 531.4 L1758.0 529.7 L1759.1 528.0 L1760.2 526.3 L1761.2 524.6 L1762.3 522.9 L1763.5 521.3 L1764.6 519.6 L1765.8 518.0 L1766.9 516.4 L1768.2 514.8 L1769.4 513.3 L1770.8 511.8 L1772.1 510.3 L1773.5 508.9 L1775.0 507.5 L1776.5 506.1 L1778.0 504.9 L1779.6 503.7 L1781.3 502.6 L1783.0 501.7 L1784.8 500.8 L1786.7 500.2 L1788.6 500.0 L1789.6 500.0 L1789.6 500.0 M1509.7 885.2 L1509.4 883.2 L1509.2 881.2 L1508.9 879.3 L1508.6 877.3 L1508.4 875.3 L1508.1 873.3 L1507.9 871.3 L1507.7 869.3 L1507.6 867.3 L1507.5 865.3 L1507.5 863.3 L1507.5 861.3 L1507.6 859.3 L1507.7 857.3 L1507.9 855.3 L1508.1 853.3 L1508.3 851.3 L1508.6 849.4 L1509.0 847.4 L1509.4 845.4 L1509.8 843.4 L1510.2 841.5 L1510.7 839.5 L1511.2 837.6 L1511.7 835.7 L1512.3 833.8 L1513.0 831.9 L1513.7 830.0 L1514.5 828.2 L1515.3 826.3 L1516.2 824.5 L1517.1 822.8 L1518.1 821.0 L1519.2 819.4 L1520.4 817.8 L1521.7 816.3 L1523.1 814.8 L1524.6 813.5 L1526.2 812.3 L1527.8 811.2 L1529.6 810.2 L1531.4 809.3 L1533.2 808.5 L1535.1 807.9 L1537.0 807.4 L1539.0 807.0 L1541.0 806.7 L1543.0 806.6 L1545.0 806.6 L1546.9 806.8 L1548.9 807.0 L1550.9 807.5 L1552.8 808.0 L1554.7 808.7 L1556.5 809.5 L1558.2 810.5 L1559.9 811.6 L1561.6 812.7 L1563.1 813.9 L1564.7 815.2 L1566.2 816.5 L1567.7 817.9 L1569.1 819.3 L1570.4 820.8 L1571.7 822.3 L1573.0 823.8 L1574.3 825.4 L1575.5 827.0 L1576.7 828.6 L1577.9 830.2 L1579.0 831.9 L1580.1 833.5 L1581.2 835.2 L1582.2 836.9 L1583.2 838.7 L1584.2 840.4 L1585.1 842.2 L1586.0 844.0 L1586.8 845.8 L1587.6 847.7 L1588.4 849.5 L1589.1 851.4 L1589.8 853.3 L1590.5 855.1 L1591.2 857.0 L1591.8 858.9 L1592.4 860.8 L1593.0 862.7 L1593.6 864.7 L1594.2 866.6 L1594.7 868.5 L1595.2 870.5 L1595.7 872.4 L1596.1 874.4 L1596.4 876.3 L1596.8 878.3 L1597.1 880.3 L1597.5 882.3 L1597.8 884.2 L1598.0 885.2" fill="none" stroke="#101010" stroke-width="1.1" stroke-linejoin="round"/>
</g>
<g font-size="39.0" text-anchor="middle" fill="#000">
<text transform="translate(1467.7 328.4) rotate(57.0)" y="12.5">0.02</text>
<text transform="translate(1546.1 327.1) rotate(43.0)" y="12.5">0.016</text>
<text transform="translate(1612.3 306.4) rotate(19.7)" y="12.5">0.012</text>
<text transform="translate(1478.0 466.5) rotate(20.7)" y="12.5">0.024</text>
<text transform="translate(1479.0 563.9) rotate(-18.7)" y="12.5">0.026</text>
</g>
<rect x="1214.30" y="110.90" width="813.60" height="813.30" fill="none" stroke="#444444" stroke-width="1.15"/>
<g stroke="#1a1a1a" fill="none">
<path d="M1214.30 110.90V924.20H2027.90" stroke-width="1.2" stroke-linecap="square"/>
<path d="M1268.54 924.20V910.40M1322.78 924.20V910.40M1377.02 924.20V910.40M1431.26 924.20V910.40M1485.50 924.20V903.70M1539.74 924.20V910.40M1593.98 924.20V910.40M1648.22 924.20V910.40M1702.46 924.20V910.40M1756.70 924.20V903.70M1810.94 924.20V910.40M1865.18 924.20V910.40M1919.42 924.20V910.40M1973.66 924.20V910.40M2027.90 924.20V903.70M1214.30 842.87H1228.10M1214.30 761.54H1228.10M1214.30 680.21H1228.10M1214.30 598.88H1228.10M1214.30 517.55H1234.80M1214.30 436.22H1228.10M1214.30 354.89H1228.10M1214.30 273.56H1228.10M1214.30 192.23H1228.10M1214.30 110.90H1234.80" stroke-width="1.05"/>
</g>
<g font-size="40.2" fill="#000">
<text transform="translate(1213.5 977.2) scale(0.952 1)" text-anchor="middle">29.7</text>
<text transform="translate(1484.7 977.2) scale(0.952 1)" text-anchor="middle">29.8</text>
<text transform="translate(1755.9 977.2) scale(0.952 1)" text-anchor="middle">29.9</text>
<text transform="translate(2027.1 977.2) scale(0.952 1)" text-anchor="middle">30</text>
<text transform="translate(1197.8 937.7) scale(0.952 1)" text-anchor="end">59.8</text>
<text transform="translate(1197.8 531.0) scale(0.952 1)" text-anchor="end">59.9</text>
<text transform="translate(1197.8 124.4) scale(0.952 1)" text-anchor="end">60.0</text>
<text x="1619.0" y="1037.7" text-anchor="middle" font-size="37.0">Long (deg)</text>
<text transform="translate(1095.5 517.1) rotate(-90)" text-anchor="middle" font-size="38.5">Lat (deg)</text>
</g>
<text x="1619.5" y="64.0" font-size="53.5" text-anchor="middle">(b)</text>
<rect x="1878.10" y="840.30" width="47.60" height="45.10" fill="#0000ff"/>
<rect x="1878.10" y="795.50" width="47.60" height="45.10" fill="#0d15ff"/>
<rect x="1878.10" y="750.70" width="47.60" height="45.10" fill="#1a29ff"/>
<rect x="1878.10" y="705.90" width="47.60" height="45.10" fill="#263eff"/>
<rect x="1878.10" y="661.10" width="47.60" height="45.10" fill="#3353ff"/>
<rect x="1878.10" y="616.30" width="47.60" height="45.10" fill="#4067ff"/>
<rect x="1878.10" y="571.50" width="47.60" height="45.10" fill="#4c7cff"/>
<rect x="1878.10" y="526.70" width="47.60" height="45.10" fill="#5991ff"/>
<rect x="1878.10" y="481.90" width="47.60" height="45.10" fill="#66a5ff"/>
<rect x="1878.10" y="437.10" width="47.60" height="45.10" fill="#73baff"/>
<rect x="1878.10" y="392.30" width="47.60" height="45.10" fill="#80cfff"/>
<rect x="1878.10" y="347.50" width="47.60" height="45.10" fill="#8be5ff"/>
<rect x="1878.10" y="302.70" width="47.60" height="45.10" fill="#99f8ff"/>
<rect x="1878.10" y="257.90" width="47.60" height="45.10" fill="#cafdd0"/>
<rect x="1878.10" y="213.10" width="47.60" height="45.10" fill="#95fe93"/>
<rect x="1878.10" y="168.30" width="47.60" height="45.10" fill="#57ff57"/>
<rect x="1878.10" y="123.50" width="47.60" height="45.10" fill="#1ff91f"/>
<g stroke="#101010" stroke-width="1.15" fill="none">
<rect x="1878.10" y="123.50" width="47.60" height="761.60"/>
<path d="M1878.10 168.30H1925.70M1878.10 213.10H1925.70M1878.10 257.90H1925.70M1878.10 302.70H1925.70M1878.10 347.50H1925.70M1878.10 392.30H1925.70M1878.10 437.10H1925.70M1878.10 481.90H1925.70M1878.10 526.70H1925.70M1878.10 571.50H1925.70M1878.10 616.30H1925.70M1878.10 661.10H1925.70M1878.10 705.90H1925.70M1878.10 750.70H1925.70M1878.10 795.50H1925.70M1878.10 840.30H1925.70"/></g>
<g font-size="26.2" fill="#000">
<text x="1931.9" y="894.5">0.000</text>
<text x="1931.9" y="804.9">0.004</text>
<text x="1931.9" y="715.3">0.008</text>
<text x="1931.9" y="625.7">0.012</text>
<text x="1931.9" y="536.1">0.016</text>
<text x="1931.9" y="446.5">0.020</text>
<text x="1931.9" y="356.9">0.024</text>
<text x="1931.9" y="267.3">0.028</text>
<text x="1931.9" y="177.7">0.032</text>
</g>
</svg>
</body></html>
